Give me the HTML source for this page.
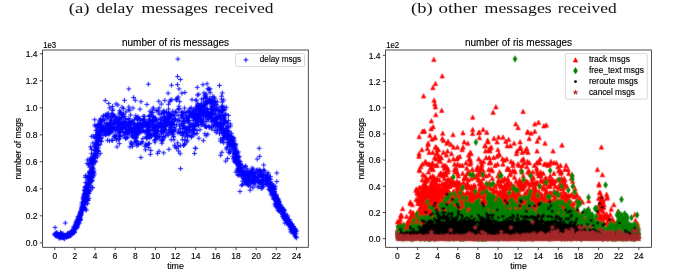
<!DOCTYPE html>
<html><head><meta charset="utf-8"><title>ris messages</title>
<style>html,body{margin:0;padding:0;background:#fff;width:685px;height:276px;overflow:hidden}svg{display:block;will-change:transform}.s{stroke:#000;stroke-width:0.14px}</style>
</head><body>
<svg width="685" height="276" viewBox="0 0 685 276">
<defs>
<marker id="mp" markerWidth="8" markerHeight="8" refX="4" refY="4" markerUnits="userSpaceOnUse" overflow="visible"><path d="M1.6 4h4.8M4 1.6v4.8" stroke="#0000ff" stroke-width="0.95" fill="none"/></marker>
<marker id="mt" markerWidth="8" markerHeight="8" refX="4" refY="4" markerUnits="userSpaceOnUse" overflow="visible"><path d="M4 1.8L6.2 6.2H1.8Z" fill="#ff0000" stroke="#ff0000" stroke-width="0.6"/></marker>
<marker id="md" markerWidth="8" markerHeight="8" refX="4" refY="4" markerUnits="userSpaceOnUse" overflow="visible"><path d="M4 0.7L6 4L4 7.3L2 4Z" fill="#008000" stroke="#008000" stroke-width="0.5"/></marker>
<marker id="mk" markerWidth="8" markerHeight="8" refX="4" refY="4" markerUnits="userSpaceOnUse" overflow="visible"><circle cx="4" cy="4" r="1.45" fill="#000"/></marker>
<marker id="ms" markerWidth="8" markerHeight="8" refX="4" refY="4" markerUnits="userSpaceOnUse" overflow="visible"><path d="M4.00 1.50L4.56 3.23L6.38 3.23L4.91 4.30L5.47 6.02L4.00 4.96L2.53 6.02L3.09 4.30L1.62 3.23L3.44 3.23Z" fill="#a52a2a" stroke="#a52a2a" stroke-width="0.5"/></marker>
<filter id="bl" x="0" y="0" width="100%" height="100%" filterUnits="userSpaceOnUse"><feConvolveMatrix order="3" kernelMatrix="1 2 1 2 24 2 1 2 1" edgeMode="duplicate"/></filter>
<clipPath id="c1"><rect x="42.6" y="50.0" width="265.7" height="197.3"/></clipPath>
<clipPath id="c2"><rect x="385.6" y="50.0" width="265.9" height="197.3"/></clipPath>
</defs>
<rect width="685" height="276" fill="#fff"/>
<text x="68.8" y="13.2" font-family="'Liberation Serif', serif" font-size="15.4" text-anchor="start" fill="#111" textLength="20.8" lengthAdjust="spacingAndGlyphs">(a)</text>
<text x="96.2" y="13.2" font-family="'Liberation Serif', serif" font-size="15.4" text-anchor="start" fill="#111" textLength="37.9" lengthAdjust="spacingAndGlyphs">delay</text>
<text x="141.5" y="13.2" font-family="'Liberation Serif', serif" font-size="15.4" text-anchor="start" fill="#111" textLength="66.4" lengthAdjust="spacingAndGlyphs">messages</text>
<text x="214.4" y="13.2" font-family="'Liberation Serif', serif" font-size="15.4" text-anchor="start" fill="#111" textLength="59.0" lengthAdjust="spacingAndGlyphs">received</text>
<text x="411.0" y="13.2" font-family="'Liberation Serif', serif" font-size="15.4" text-anchor="start" fill="#111" textLength="21.6" lengthAdjust="spacingAndGlyphs">(b)</text>
<text x="438.5" y="13.2" font-family="'Liberation Serif', serif" font-size="15.4" text-anchor="start" fill="#111" textLength="38.8" lengthAdjust="spacingAndGlyphs">other</text>
<text x="484.6" y="13.2" font-family="'Liberation Serif', serif" font-size="15.4" text-anchor="start" fill="#111" textLength="67.1" lengthAdjust="spacingAndGlyphs">messages</text>
<text x="557.8" y="13.2" font-family="'Liberation Serif', serif" font-size="15.4" text-anchor="start" fill="#111" textLength="58.8" lengthAdjust="spacingAndGlyphs">received</text>
<g clip-path="url(#c1)"><g filter="url(#bl)"><path d="M54.8 234.1L54.9 234.1 55.0 234.4 55.2 234.2 55.3 235.7 56.0 233.0 56.1 236.0 56.4 234.9 56.5 232.7 56.6 233.3 56.8 234.8 56.9 234.9 56.9 235.6 57.0 235.5 57.2 235.2 57.3 233.2 57.7 235.6 57.8 234.4 57.9 234.6 57.9 234.6 57.9 235.5 58.0 234.3 58.1 235.0 58.3 235.2 58.9 236.1 59.0 238.1 59.0 234.6 59.1 234.6 59.1 236.2 59.3 235.8 59.4 235.3 59.4 236.8 59.4 234.8 59.6 234.8 59.7 234.7 59.7 234.6 59.8 238.1 59.9 235.1 59.9 236.3 60.0 234.4 60.0 234.5 60.1 234.8 60.3 235.9 60.5 232.4 60.6 235.9 60.6 237.0 60.6 234.6 60.7 237.5 61.3 233.5 61.3 234.6 61.3 234.2 61.4 234.6 61.4 235.3 61.6 237.4 61.8 236.6 61.9 235.2 62.2 236.1 62.3 235.4 62.3 236.7 62.5 236.8 62.7 235.5 62.7 235.0 62.7 235.9 62.8 237.1 62.8 237.9 62.8 233.5 62.9 237.3 62.9 236.9 62.9 236.8 63.0 234.8 63.1 236.8 63.2 235.3 63.2 235.6 63.3 237.3 63.4 235.7 63.8 237.4 63.8 236.2 63.9 235.1 63.9 236.3 64.0 237.1 64.0 236.5 64.0 236.2 64.2 235.6 64.4 238.8 64.5 238.2 64.6 235.4 64.7 236.2 64.9 236.0 65.2 235.7 65.2 236.2 65.2 236.5 65.5 235.8 65.9 235.1 66.3 235.4 66.4 235.8 66.5 237.0 66.6 235.5 66.6 237.1 66.6 236.5 67.0 235.5 67.1 235.5 67.2 234.3 67.3 234.6 67.4 235.0 67.4 236.0 67.4 235.6 67.5 235.9 67.5 233.5 67.6 235.0 67.8 236.3 67.9 236.5 68.0 233.9 68.4 236.2 68.5 234.7 68.5 234.9 68.8 233.7 68.9 235.9 69.0 234.3 69.0 234.5 69.1 233.8 69.2 233.0 69.3 234.5 69.5 234.8 69.6 233.4 69.7 236.0 70.0 233.9 70.2 235.2 70.5 235.3 70.7 235.6 70.9 235.6 71.1 232.4 71.1 232.3 71.2 233.2 71.5 231.7 71.6 232.8 71.8 233.3 71.8 234.0 72.1 231.3 72.1 231.2 72.1 230.6 72.1 233.3 72.3 232.5 72.5 233.6 73.1 229.6 73.2 230.1 73.3 230.3 73.3 231.0 73.3 231.1 73.4 231.4 73.4 229.3 73.6 231.6 73.6 229.4 73.6 230.2 73.7 232.0 73.7 232.7 73.7 231.7 73.7 230.6 73.8 232.3 73.9 229.5 74.2 228.1 74.5 228.4 74.5 231.8 74.6 232.6 74.7 227.3 75.1 225.6 75.1 228.7 75.2 226.9 75.2 228.2 75.4 228.4 75.8 225.1 75.8 227.7 75.8 225.2 76.0 223.3 76.0 226.5 76.0 222.9 76.0 228.5 76.1 224.5 76.2 226.0 76.4 220.9 76.4 225.5 76.5 226.8 76.8 221.8 76.8 227.6 76.8 223.9 76.8 226.1 77.0 221.8 77.0 224.6 77.0 222.5 77.2 223.8 77.4 225.3 77.5 227.3 77.6 219.1 77.6 222.3 77.6 225.0 77.6 223.2 78.0 219.4 78.0 224.7 78.0 216.5 78.1 222.0 78.1 222.2 78.1 218.5 78.2 220.6 78.2 223.2 78.8 217.2 78.9 218.1 79.0 216.2 79.3 220.5 79.4 220.7 79.4 216.2 79.5 218.7 79.5 223.1 79.7 218.7 79.8 215.1 79.9 218.5 79.9 213.0 80.0 217.3 80.2 215.7 80.3 219.6 80.3 217.2 80.3 215.4 80.3 213.3 80.4 213.9 80.4 211.4 80.6 220.2 80.7 213.4 80.8 213.6 80.9 215.6 80.9 212.6 81.0 214.5 81.2 210.0 81.4 211.8 81.4 209.1 81.4 213.4 81.7 205.1 81.8 207.6 81.9 202.7 82.0 208.6 82.0 209.8 82.1 207.4 82.1 209.2 82.1 211.1 82.3 206.9 82.4 206.9 82.4 210.4 82.6 207.0 82.6 209.1 82.8 204.3 82.9 209.3 83.0 197.9 83.2 203.0 83.3 199.5 83.3 207.4 83.3 201.5 83.5 202.5 83.7 197.5 83.7 197.8 83.8 207.2 83.9 195.8 83.9 206.1 84.0 194.6 84.0 200.1 84.0 204.7 84.1 196.8 84.1 199.4 84.1 203.5 84.1 202.4 84.2 197.3 84.3 204.3 84.3 202.1 84.4 190.6 84.4 201.3 84.5 196.4 84.5 196.0 84.5 193.7 84.6 193.5 84.7 207.7 84.9 198.4 85.0 189.7 85.0 202.9 85.0 188.0 85.1 192.9 85.2 191.3 85.2 177.2 85.2 196.0 85.2 198.3 85.2 186.8 85.3 204.4 85.3 201.3 85.4 196.7 85.5 209.2 85.5 187.1 85.6 191.7 85.6 182.5 85.6 201.1 85.7 200.1 85.7 175.5 85.7 190.5 85.9 193.9 86.0 187.6 86.0 192.6 86.0 200.3 86.1 190.2 86.1 194.8 86.1 186.7 86.2 195.6 86.2 192.6 86.2 189.0 86.2 197.2 86.4 188.3 86.5 210.0 86.5 192.0 86.7 191.0 86.8 183.0 86.9 177.1 86.9 193.7 86.9 177.4 87.1 188.0 87.1 186.7 87.1 191.3 87.1 185.2 87.1 163.4 87.2 190.0 87.3 194.5 87.4 189.6 87.6 186.8 87.6 159.9 87.6 199.7 87.6 203.7 87.7 184.9 87.9 192.7 88.0 187.3 88.0 180.2 88.0 196.3 88.1 185.9 88.2 200.5 88.3 193.7 88.3 184.7 88.4 183.1 88.5 177.7 88.5 184.1 88.5 189.9 88.6 178.6 88.6 164.9 88.6 193.3 88.7 177.1 88.8 163.8 88.9 193.2 88.9 187.2 89.0 180.7 89.0 198.5 89.2 173.1 89.2 176.9 89.2 176.4 89.4 171.3 89.5 160.2 89.5 191.6 89.6 167.1 89.7 178.8 89.8 173.6 89.8 183.0 89.8 177.8 89.9 174.7 90.0 173.0 90.0 172.6 90.0 184.9 90.0 181.2 90.1 180.6 90.3 190.2 90.4 179.0 90.5 171.6 90.5 158.0 90.5 146.9 90.9 178.0 91.0 159.2 91.0 178.7 91.0 163.8 91.0 171.1 91.1 178.0 91.1 161.4 91.1 174.3 91.1 187.4 91.1 162.7 91.5 153.7 91.5 181.3 91.5 177.5 91.5 169.7 91.5 149.3 91.6 136.4 91.6 163.9 91.6 163.1 91.6 162.6 91.7 167.7 91.9 173.3 92.0 169.1 92.0 173.6 92.0 180.0 92.1 171.9 92.1 160.0 92.2 159.5 92.3 176.8 92.4 180.8 92.4 177.7 92.4 187.6 92.4 160.5 92.7 166.8 92.7 187.7 92.8 172.9 92.8 168.1 92.9 143.0 92.9 164.7 92.9 157.1 92.9 160.4 93.0 159.4 93.1 171.7 93.1 157.1 93.3 168.9 93.4 172.7 93.4 162.7 93.4 136.0 93.6 164.2 93.7 157.0 93.8 175.8 93.8 158.3 93.9 155.1 93.9 171.0 94.1 153.1 94.2 150.5 94.3 162.1 94.3 173.9 94.4 145.9 94.5 158.3 94.7 119.7 94.7 157.6 94.8 124.9 94.9 160.6 94.9 155.4 95.0 138.3 95.1 137.2 95.1 146.8 95.2 126.2 95.2 145.0 95.3 147.4 95.4 154.1 95.8 149.5 95.8 135.0 95.8 143.1 95.8 161.6 96.1 154.6 96.1 144.8 96.1 142.0 96.1 130.5 96.3 130.3 96.6 151.3 96.6 137.5 96.7 130.4 96.8 151.9 96.9 134.6 97.0 125.9 97.0 142.3 97.0 137.7 97.1 150.5 97.1 148.6 97.1 149.2 97.2 145.3 97.4 140.5 97.4 155.1 97.4 125.1 97.4 132.0 97.5 156.9 97.6 144.2 97.7 144.4 97.7 124.8 97.7 133.0 97.9 137.0 97.9 133.8 97.9 151.3 98.0 128.0 98.0 151.4 98.1 127.2 98.1 140.2 98.1 150.5 98.2 148.0 98.3 135.4 98.5 145.4 98.5 134.0 98.7 141.2 98.7 139.8 98.9 132.8 99.2 124.0 99.4 127.2 99.5 123.3 99.5 135.4 99.5 137.4 99.6 120.9 99.8 139.8 99.9 138.3 100.0 144.4 100.0 121.5 100.1 123.6 100.1 133.7 100.3 153.5 100.3 127.8 100.4 126.0 100.4 127.6 100.4 118.9 100.4 129.3 100.4 131.7 100.5 131.4 100.6 133.4 100.6 137.8 100.7 138.9 100.7 130.7 100.8 140.9 101.0 138.6 101.0 119.9 101.0 134.1 101.1 121.7 101.2 120.6 101.3 128.0 101.3 124.3 101.4 130.4 101.5 141.5 101.6 131.2 101.6 130.9 101.7 125.8 102.3 127.9 102.8 131.1 102.8 119.6 102.9 129.5 102.9 131.1 102.9 120.5 103.1 135.6 103.2 127.6 103.3 115.9 103.4 126.9 103.4 116.2 103.7 129.1 103.9 130.9 104.0 128.1 104.0 131.2 104.2 131.2 104.2 130.0 104.4 120.1 104.8 122.9 104.9 127.6 105.1 131.7 105.3 100.5 105.3 127.3 105.4 114.7 105.4 135.0 105.4 131.5 105.7 116.1 106.0 134.4 106.0 134.1 106.0 126.2 106.8 131.5 106.8 128.0 106.8 124.5 106.9 118.9 107.2 124.3 107.3 123.4 107.3 115.3 107.3 114.6 107.4 128.5 107.5 140.3 107.6 133.6 107.8 117.3 107.8 129.5 108.1 131.3 108.1 129.2 108.2 113.2 108.4 125.2 108.5 128.6 108.5 131.2 108.7 134.3 108.7 103.5 108.8 126.0 108.9 124.5 109.1 128.2 109.2 117.3 109.4 133.6 109.5 140.8 109.5 130.2 109.5 123.0 109.6 107.9 109.8 126.3 109.9 132.4 110.0 127.5 110.0 131.8 110.0 131.8 110.2 125.0 110.2 123.3 110.4 130.9 110.7 117.0 110.7 126.3 110.8 124.8 110.8 129.7 110.9 122.8 111.0 122.4 111.0 120.4 111.0 132.1 111.2 120.7 111.2 130.1 111.3 124.9 111.5 119.8 111.6 113.7 111.6 129.2 111.8 140.2 112.0 124.5 112.4 109.0 112.4 128.2 112.5 106.5 112.6 140.5 112.6 113.8 112.7 116.4 112.8 110.4 112.9 132.1 113.0 114.9 113.0 116.4 113.2 115.7 113.3 127.4 113.4 127.5 113.4 115.4 113.7 122.8 113.8 128.4 114.1 136.4 114.2 123.5 114.3 136.3 114.4 121.0 114.5 124.3 114.8 137.8 114.8 122.0 114.8 116.1 114.9 123.6 115.1 136.1 115.3 130.4 115.3 119.0 115.4 135.9 115.5 128.6 115.6 116.7 115.8 128.0 115.9 130.3 116.0 119.4 116.0 103.9 116.3 122.7 116.5 136.3 116.5 138.6 116.5 129.0 116.6 140.1 116.7 126.6 117.0 118.8 117.0 146.9 117.3 127.4 117.3 123.5 117.4 130.3 117.5 123.0 117.6 122.2 117.9 117.9 117.9 105.0 118.0 123.7 118.2 133.3 118.7 139.7 118.7 136.1 118.8 120.8 118.9 123.7 118.9 122.7 119.0 124.8 119.0 113.9 119.3 117.9 119.3 118.5 119.4 131.8 119.4 129.0 119.4 143.6 119.6 131.6 119.6 125.8 119.6 136.1 119.6 131.5 119.6 110.7 119.6 128.7 119.7 138.3 119.8 136.4 119.8 127.3 119.9 120.0 119.9 127.3 120.0 119.8 120.1 124.2 120.3 135.4 120.3 112.7 120.6 132.5 120.7 112.0 120.7 131.4 120.9 127.9 120.9 131.1 121.0 128.9 121.0 123.2 121.1 128.3 121.4 117.6 121.5 123.6 121.5 114.5 121.8 126.4 121.9 116.9 122.0 117.6 122.0 128.1 122.1 107.2 122.3 115.2 122.3 122.8 122.5 128.6 122.5 127.8 122.6 128.4 122.6 124.8 122.9 135.9 123.0 126.7 123.1 131.8 123.4 114.2 123.4 121.2 123.5 114.2 123.5 108.6 123.7 123.5 124.5 100.4 124.5 124.4 124.6 122.5 124.7 134.7 124.7 125.8 124.8 116.3 124.8 123.5 125.1 132.0 125.2 127.4 125.3 133.2 125.3 132.7 125.4 138.6 125.4 118.9 125.6 119.0 125.6 128.4 125.7 137.9 125.7 129.4 125.9 112.0 126.1 137.9 126.5 131.6 126.9 131.4 127.0 121.6 127.2 137.6 127.2 125.8 127.8 134.3 127.8 130.7 127.9 137.3 128.0 123.9 128.1 131.8 128.2 132.6 128.2 119.6 128.3 125.4 128.3 109.9 128.8 124.9 128.8 126.6 128.8 127.2 128.9 107.0 129.0 118.6 129.0 130.3 129.2 125.7 129.3 132.2 129.6 123.2 129.6 132.1 129.7 132.6 129.8 124.9 129.9 110.2 129.9 121.8 129.9 122.6 129.9 127.3 130.0 146.9 130.0 129.6 130.0 130.0 130.5 124.4 130.5 115.0 130.9 122.7 131.0 142.0 131.0 128.4 131.2 130.5 131.3 123.2 131.3 129.2 131.5 143.4 131.5 135.7 131.5 131.2 131.9 144.5 132.0 129.8 132.0 131.1 132.2 120.7 132.2 129.9 132.2 133.8 132.3 130.0 132.3 128.9 132.4 121.6 132.5 136.4 132.5 146.4 133.0 108.1 133.3 123.4 133.4 128.4 133.6 97.5 133.8 138.1 134.0 135.5 134.2 132.8 134.2 125.7 134.3 133.0 134.4 123.5 134.5 132.2 134.5 119.6 134.6 126.0 134.9 142.3 134.9 129.9 135.0 138.4 135.0 130.7 135.1 129.7 135.3 100.3 135.3 131.5 135.3 142.1 135.4 128.9 135.6 138.7 135.8 115.7 135.8 124.3 135.9 117.7 136.0 134.8 136.2 137.8 136.2 127.6 136.4 140.4 136.5 137.2 136.6 135.7 136.7 130.9 136.7 141.6 136.8 145.7 136.9 118.8 137.0 134.0 137.2 131.2 137.3 125.2 137.4 126.4 137.6 134.9 137.6 133.3 137.8 117.4 137.8 120.1 137.8 124.0 138.0 116.9 138.2 144.3 138.3 128.7 138.3 131.9 138.3 144.6 138.4 127.1 138.4 124.7 138.4 127.7 138.6 143.7 138.7 131.4 139.0 128.0 139.1 131.5 139.1 127.5 139.1 122.8 139.6 118.6 139.7 127.8 140.0 109.2 140.1 127.9 140.1 127.4 140.2 123.5 140.3 130.2 140.5 132.1 140.6 119.9 140.9 157.5 140.9 143.4 141.0 101.7 141.3 123.8 141.3 125.3 141.4 127.2 141.4 125.4 141.7 141.7 141.8 131.8 142.1 142.7 142.4 120.5 142.5 124.5 142.7 127.6 142.8 126.5 142.9 130.5 143.0 138.5 143.3 116.2 143.4 124.4 143.6 130.8 143.6 124.9 143.6 119.5 143.7 120.2 143.7 124.3 144.0 123.0 144.2 131.3 144.4 118.9 144.7 116.4 144.7 122.0 144.8 146.3 144.9 124.4 145.3 124.2 145.4 123.2 145.5 149.8 145.8 144.1 146.1 127.1 146.1 136.8 146.2 126.3 146.3 130.1 146.3 122.6 146.4 133.8 146.4 137.8 146.8 125.2 146.8 131.5 146.8 138.6 146.9 145.0 146.9 104.5 146.9 132.2 147.0 132.3 147.2 144.9 147.6 137.3 147.6 130.5 147.6 126.7 147.7 123.1 148.0 135.1 148.0 125.4 148.3 120.0 148.3 133.2 148.4 129.7 148.4 143.5 148.5 135.6 148.7 147.6 148.7 123.7 148.9 130.5 149.1 116.3 149.2 127.5 149.3 122.5 149.3 124.8 149.3 127.3 149.4 137.5 149.4 115.6 149.5 129.6 149.6 143.7 149.6 133.5 149.7 137.7 149.8 119.4 149.8 120.4 149.9 116.5 150.0 111.2 150.4 134.0 150.4 154.4 150.6 136.3 150.7 125.3 150.8 150.5 150.9 133.5 151.0 121.8 151.0 135.5 151.0 129.6 151.1 135.9 151.1 114.4 151.3 112.7 151.3 136.8 151.9 135.3 152.2 127.2 152.2 122.6 152.4 124.7 152.4 122.8 152.6 119.9 152.7 118.0 152.7 112.4 152.9 126.1 153.0 131.4 153.0 128.1 153.0 109.1 153.1 120.5 153.1 121.4 153.2 116.2 153.3 117.1 153.3 107.8 153.4 133.8 153.5 125.4 153.5 120.9 153.7 120.3 153.9 130.2 154.4 140.4 154.5 129.2 154.5 135.8 154.7 127.8 154.8 117.9 155.0 121.1 155.0 142.2 155.1 133.2 155.1 125.4 155.2 117.6 155.2 127.5 155.3 125.2 155.4 139.5 155.5 131.1 155.6 133.6 155.6 125.4 155.8 129.3 155.8 134.4 155.8 136.2 156.0 125.4 156.1 132.6 156.2 110.5 156.3 125.9 156.3 129.4 156.4 119.6 156.6 137.2 156.6 119.5 156.7 133.2 157.1 120.9 157.3 132.8 157.4 135.1 157.6 153.4 157.7 126.6 157.7 122.9 158.0 138.9 158.1 111.7 158.1 126.9 158.2 136.6 158.4 110.0 158.5 130.4 159.0 114.0 159.0 151.3 159.1 107.9 159.1 125.1 159.2 126.7 159.5 123.8 159.5 136.8 160.2 118.3 160.5 122.5 160.5 123.5 160.9 131.4 161.0 136.7 161.0 123.0 161.1 118.9 161.2 125.0 161.2 128.0 161.2 130.9 161.2 119.8 161.3 113.2 161.3 127.6 161.3 133.9 161.4 104.1 161.4 140.2 161.4 123.9 161.4 127.1 161.6 114.3 161.7 127.4 161.8 141.1 161.9 143.3 162.3 125.0 162.5 126.1 162.5 132.0 162.7 131.0 162.9 140.1 162.9 139.4 163.0 131.5 163.2 132.1 163.2 127.0 163.3 136.5 163.3 111.3 163.7 152.9 163.7 117.5 163.8 120.4 163.9 110.8 164.1 112.5 164.1 137.6 164.1 122.0 164.2 112.9 164.3 116.5 164.5 120.3 164.6 130.4 164.6 113.0 164.6 126.2 164.6 129.6 164.7 123.3 164.7 129.2 164.7 131.2 164.7 123.8 164.8 100.4 164.9 121.9 164.9 124.1 164.9 129.1 165.2 121.5 165.4 135.9 165.4 120.2 165.4 122.2 165.5 123.9 165.7 120.2 165.7 126.5 165.7 118.4 165.9 119.5 166.0 119.3 166.0 124.5 166.1 116.2 166.2 126.2 166.5 112.2 166.6 125.5 166.6 112.2 166.7 121.9 167.0 124.6 167.0 133.9 167.1 118.2 167.2 120.8 167.3 123.7 167.5 120.2 167.9 122.7 167.9 132.8 168.2 135.3 168.4 113.0 168.4 122.1 168.5 109.1 168.5 104.3 168.6 115.8 168.7 117.5 168.7 118.2 168.8 122.7 168.9 129.9 168.9 149.3 169.1 116.2 169.1 113.4 169.2 123.3 169.3 122.3 169.4 114.1 169.4 114.6 169.5 121.6 169.8 125.9 169.8 117.5 169.9 115.5 169.9 101.7 170.0 132.3 170.1 118.5 170.3 132.0 170.3 130.4 170.4 100.1 170.4 127.4 170.5 124.8 170.5 129.0 170.7 114.6 170.9 127.3 171.2 139.7 171.2 121.7 171.4 114.8 171.6 123.2 171.9 121.3 171.9 129.9 171.9 132.3 172.0 122.9 172.1 134.3 172.1 127.4 172.2 132.9 172.3 125.3 172.4 114.9 172.5 123.2 172.8 111.3 172.9 119.1 172.9 124.1 173.0 132.0 173.0 121.8 173.1 134.6 173.3 115.0 173.5 136.4 173.7 136.9 173.8 131.4 173.9 139.8 173.9 121.5 174.0 130.6 174.3 127.3 174.4 116.2 174.6 145.2 174.6 125.0 174.7 118.8 175.2 111.8 175.5 119.6 175.6 129.2 175.9 112.6 176.0 112.7 176.0 99.3 176.6 100.1 176.6 124.5 177.3 98.2 177.6 120.3 177.8 132.9 178.2 115.3 178.2 109.2 178.3 146.6 178.6 109.0 178.8 131.1 178.9 106.3 179.0 120.3 179.1 121.1 179.2 108.5 179.5 126.1 179.7 101.6 179.9 132.5 180.4 128.9 180.9 133.8 181.0 117.6 181.2 123.7 181.2 115.0 181.4 112.1 181.6 115.2 181.8 112.4 182.0 112.3 182.1 124.1 182.3 135.5 182.4 139.7 182.5 115.9 182.5 128.6 182.6 133.0 182.7 131.7 182.7 125.6 183.0 121.2 183.1 126.0 183.4 133.7 183.4 118.3 183.5 145.6 183.5 126.9 183.8 113.6 183.8 121.2 183.9 112.2 183.9 122.9 184.0 118.2 184.0 123.5 184.1 128.2 184.4 120.3 184.5 108.1 184.6 143.3 184.6 132.1 184.6 144.6 184.9 140.0 185.1 136.8 185.2 129.1 185.5 127.3 185.8 115.2 185.9 112.5 186.1 132.2 186.2 132.9 186.3 118.3 186.8 130.4 186.8 128.1 187.0 141.9 187.0 117.1 187.2 121.5 187.3 140.1 187.5 136.7 187.5 134.2 187.7 119.7 187.7 128.5 187.8 135.5 188.0 126.9 188.1 115.5 188.2 111.7 188.3 110.8 188.3 122.3 188.3 121.0 188.9 120.4 189.2 116.7 189.2 117.4 189.3 132.1 189.4 129.9 189.4 126.6 189.5 116.2 189.7 127.6 189.8 130.0 189.9 113.0 189.9 108.8 190.1 131.2 190.1 123.9 190.1 111.7 190.6 126.2 190.9 113.6 191.0 135.6 191.1 124.3 191.2 116.0 191.2 107.7 191.2 113.2 191.4 137.3 191.7 136.4 192.1 130.0 192.1 114.1 192.1 115.0 192.3 111.6 192.7 115.1 192.7 126.9 192.9 124.9 192.9 129.7 193.0 113.6 193.1 133.0 193.1 120.4 193.3 118.7 193.4 109.4 193.4 133.2 193.6 117.0 193.6 129.9 193.6 111.1 193.9 126.3 193.9 123.2 193.9 129.1 194.0 130.0 194.0 126.2 194.0 125.8 194.1 109.4 194.1 129.2 194.2 117.7 194.4 112.0 194.5 130.1 194.5 153.5 194.6 115.2 194.8 134.4 195.2 126.0 195.5 119.4 195.6 115.9 195.7 120.8 195.7 124.7 195.9 109.1 195.9 116.0 196.0 100.6 196.0 126.1 196.0 118.7 196.1 118.2 196.1 112.9 196.2 115.7 196.2 117.5 196.2 100.0 196.5 118.8 196.5 113.4 196.7 115.5 196.7 122.6 196.8 110.3 196.9 133.6 196.9 106.6 197.0 130.6 197.1 119.4 197.2 115.6 197.3 120.8 197.3 121.0 197.4 105.7 197.4 95.0 197.4 107.0 197.6 114.7 197.6 121.7 197.7 122.8 197.8 105.2 197.8 107.9 197.9 104.1 197.9 106.9 197.9 104.0 198.0 121.0 198.0 122.6 198.1 124.5 198.1 115.8 198.2 117.1 198.5 114.2 198.5 125.7 198.5 113.6 198.6 107.9 198.7 114.3 198.9 138.3 198.9 114.9 198.9 117.8 199.0 106.7 199.0 116.1 199.0 109.1 199.2 117.8 199.2 111.6 199.3 105.9 199.4 116.7 199.6 111.5 199.6 112.7 199.6 108.8 199.9 115.0 200.0 109.7 200.0 129.8 200.2 115.7 200.3 106.4 200.5 107.6 200.5 121.9 200.5 120.4 200.5 110.0 200.6 110.2 200.7 109.3 200.8 112.7 200.8 112.3 201.1 103.9 201.1 121.1 201.3 124.9 201.4 104.0 201.4 119.4 201.6 106.6 201.6 118.5 201.7 122.1 201.7 99.1 202.0 112.9 202.2 124.4 202.3 114.0 202.5 114.7 202.5 113.7 202.7 110.3 202.7 121.8 203.0 114.0 203.0 107.6 203.1 106.1 203.2 110.6 203.4 118.2 203.4 140.6 203.5 98.5 203.5 120.9 203.5 115.1 203.5 111.0 203.6 107.2 203.6 111.3 203.7 123.3 203.9 111.3 203.9 92.9 204.0 101.9 204.0 112.8 204.3 105.3 204.5 126.2 204.6 109.1 204.7 104.7 204.8 113.6 204.8 95.1 204.9 103.3 204.9 105.6 204.9 133.8 205.0 116.3 205.3 104.7 205.3 115.3 205.5 126.5 205.5 116.1 205.6 97.6 205.8 101.1 205.9 103.4 206.0 109.3 206.1 96.8 206.1 135.8 206.2 121.6 206.2 94.0 206.3 101.7 206.5 108.9 206.5 114.1 206.5 127.1 206.7 114.8 206.7 112.3 206.9 119.3 206.9 98.8 207.3 101.9 207.3 113.6 207.4 103.0 207.5 111.5 207.6 108.7 207.6 115.4 207.8 88.9 207.8 134.2 207.8 112.4 208.0 101.8 208.0 101.9 208.1 125.8 208.3 119.7 208.5 112.1 208.5 118.4 208.5 117.2 208.7 113.5 208.7 113.8 208.7 101.2 209.1 126.7 209.1 101.6 209.2 113.3 209.2 102.4 209.3 114.4 209.3 89.8 209.4 127.6 209.4 100.4 209.6 115.3 209.6 115.0 209.7 98.3 209.8 114.5 210.0 103.0 210.0 88.8 210.2 116.7 210.2 92.7 210.3 99.7 210.5 113.3 210.6 109.2 210.7 117.8 210.9 108.6 211.0 103.3 211.0 102.1 211.1 109.3 211.1 116.3 211.2 121.8 211.3 126.9 211.4 114.3 211.4 106.1 211.5 117.3 211.6 118.4 211.8 129.0 211.8 106.7 211.8 114.5 211.8 127.4 211.9 101.7 211.9 102.2 212.0 112.0 212.1 115.7 212.1 112.7 212.2 121.3 212.2 102.9 212.2 99.3 212.3 102.7 212.3 110.3 212.4 110.4 212.6 107.7 212.8 96.5 212.8 120.6 213.2 113.5 213.3 120.1 213.3 125.3 213.5 110.3 213.7 102.6 213.9 124.4 214.1 104.2 214.1 107.4 214.4 109.7 214.4 100.7 214.5 121.0 214.7 98.3 214.7 118.2 214.7 105.4 214.9 130.4 215.0 105.0 215.0 114.6 215.2 120.8 215.3 125.7 215.6 113.3 215.7 101.8 215.7 110.1 215.9 119.2 216.0 123.7 216.1 126.8 216.1 119.3 216.2 132.6 216.2 119.9 216.2 104.6 216.3 116.7 216.3 117.7 216.5 122.6 216.7 108.9 217.0 110.0 217.4 101.9 217.6 124.7 217.6 129.2 217.6 123.9 217.7 130.6 217.7 117.9 217.7 122.1 217.8 126.8 217.9 118.2 218.1 107.0 218.1 110.1 218.1 124.7 218.3 117.8 218.5 115.1 219.0 112.0 219.4 123.5 219.5 133.7 219.5 116.1 219.6 130.4 219.6 124.0 219.7 123.0 219.8 110.3 219.8 125.3 220.1 118.9 220.2 123.0 220.2 126.7 220.2 111.3 220.2 125.8 220.3 115.7 220.4 118.0 220.5 141.2 220.5 139.0 220.6 155.3 220.7 118.3 220.9 118.9 220.9 127.4 221.1 127.6 221.1 125.4 221.1 128.8 221.3 122.6 221.3 122.6 221.4 131.9 221.4 107.0 221.5 111.6 221.5 126.9 221.5 99.1 221.6 96.2 221.7 109.3 221.7 109.8 221.8 129.1 221.9 129.0 221.9 152.3 222.0 127.6 222.0 112.6 222.1 127.6 222.1 141.4 222.2 106.0 222.3 102.2 222.3 107.2 222.3 140.0 222.4 114.6 222.4 132.6 222.7 125.5 222.8 116.5 222.8 107.6 222.9 131.0 223.0 128.1 223.1 138.1 223.1 124.4 223.2 135.1 223.3 130.2 223.3 116.6 223.3 124.9 223.3 123.5 223.4 121.9 223.5 116.3 223.5 110.0 223.5 137.7 223.7 142.7 223.7 119.8 223.8 117.9 223.9 110.5 223.9 117.1 224.0 107.2 224.0 120.3 224.0 132.7 224.2 115.4 224.3 135.9 224.3 133.8 224.4 122.5 224.9 130.4 224.9 118.2 225.0 134.8 225.0 109.4 225.0 138.7 225.1 121.1 225.2 133.2 225.4 114.7 225.4 134.8 225.4 121.4 225.7 161.2 225.8 137.3 226.0 114.2 226.0 128.5 226.1 129.8 226.1 122.0 226.2 107.3 226.2 149.0 226.3 131.9 226.5 135.8 227.1 126.4 227.1 139.5 227.2 147.4 227.2 147.1 227.4 123.4 227.4 131.6 227.5 126.0 227.6 158.5 227.6 142.2 227.8 142.8 227.8 127.0 227.8 130.6 228.1 136.6 228.3 144.2 228.3 133.9 228.3 139.7 228.3 127.9 228.4 120.6 228.4 134.8 228.5 152.2 228.5 115.5 228.7 131.0 228.7 131.8 228.9 135.7 229.0 135.5 229.1 136.3 229.4 135.5 229.4 149.9 229.4 143.5 229.5 138.6 229.5 136.7 229.5 136.3 229.7 134.7 229.7 152.9 229.8 146.2 230.1 144.3 230.2 138.3 230.3 140.9 230.3 124.0 230.4 144.6 230.6 141.8 230.6 151.8 230.6 126.1 230.6 139.5 230.7 141.7 231.3 146.4 231.4 141.3 231.4 144.5 231.5 133.3 231.5 148.1 231.6 145.5 231.7 146.5 232.0 139.2 232.0 141.1 232.0 136.5 232.1 139.9 232.2 139.7 232.5 143.9 232.5 138.4 232.6 141.4 232.8 143.0 232.9 156.4 233.1 149.1 233.3 151.1 233.4 158.6 233.4 138.4 233.5 137.8 233.6 140.4 233.6 143.8 233.7 138.0 234.0 158.9 234.0 140.3 234.2 161.4 234.2 147.8 234.2 148.2 234.2 145.8 234.3 145.1 234.4 144.9 234.4 153.6 234.5 153.7 234.5 154.7 234.6 149.2 234.6 152.2 234.7 159.9 234.7 144.8 234.7 157.4 234.9 154.1 235.0 156.0 235.1 156.2 235.3 149.3 235.3 156.9 235.3 161.3 235.4 157.1 235.5 159.3 235.5 162.3 235.5 148.1 235.6 147.0 235.6 162.1 235.7 145.1 235.8 144.0 235.8 162.7 235.9 152.5 236.0 157.0 236.0 150.7 236.1 172.4 236.4 153.2 236.4 158.9 236.6 153.0 236.6 152.7 236.7 170.9 236.8 158.4 236.8 158.3 236.9 155.5 237.2 153.6 237.2 153.0 237.4 164.5 237.4 156.7 237.5 164.7 237.5 156.6 237.6 162.5 237.6 162.2 237.7 160.2 237.7 169.9 237.7 163.2 237.9 168.4 238.0 157.6 238.0 155.8 238.1 175.4 238.2 174.6 238.2 161.8 238.2 166.1 238.3 168.1 238.3 151.9 238.4 165.8 238.4 169.0 238.7 166.3 238.8 163.6 238.8 157.1 238.8 163.7 239.0 171.9 239.0 168.3 239.1 156.9 239.1 174.7 239.1 166.5 239.3 161.1 239.4 165.8 239.5 168.6 239.6 172.1 239.7 167.3 239.9 164.5 240.0 167.9 240.0 164.2 240.1 168.3 240.1 163.2 240.2 168.8 240.2 165.2 240.3 171.2 240.3 161.5 240.4 164.0 240.8 167.6 241.0 175.8 241.4 171.1 241.4 185.3 241.5 173.7 241.7 171.9 241.9 176.8 241.9 172.2 241.9 167.9 242.1 165.3 242.1 173.3 242.5 181.1 242.6 184.6 242.8 175.4 242.9 170.9 243.1 170.5 243.4 175.1 243.4 178.4 243.4 178.6 243.7 176.4 243.7 175.1 243.8 171.4 243.9 175.5 244.1 167.4 244.6 175.9 244.6 174.5 244.6 172.1 244.6 172.5 244.7 179.5 244.8 183.8 244.9 182.5 244.9 175.3 245.0 174.4 245.1 175.5 245.2 173.7 245.6 171.8 245.6 180.8 245.6 166.4 245.7 166.0 246.0 174.5 246.1 178.6 246.3 176.8 246.3 183.9 246.7 177.7 246.8 183.7 246.9 178.2 247.0 179.2 247.0 168.9 247.3 181.5 247.4 176.4 247.5 179.5 247.5 170.9 247.7 173.1 247.9 184.4 248.0 182.0 248.1 176.5 248.1 180.4 248.1 175.8 248.2 177.4 248.3 185.6 248.3 179.0 248.3 175.6 248.4 178.1 248.4 177.1 248.5 176.1 248.7 178.2 249.0 171.8 249.1 183.1 249.1 175.6 249.2 179.9 249.4 175.9 249.4 174.0 249.4 174.9 249.7 172.5 249.8 171.9 249.8 175.3 249.9 178.6 249.9 174.4 249.9 173.4 250.1 173.8 250.2 176.4 250.2 175.4 250.3 186.2 250.3 181.1 250.4 178.4 250.7 173.2 250.7 172.4 250.8 176.4 250.9 182.4 251.0 175.4 251.0 173.3 251.1 174.2 251.1 180.6 251.3 182.2 251.5 181.4 251.5 182.2 251.6 170.1 251.9 175.1 252.0 168.1 252.1 170.3 252.4 173.1 252.6 180.4 252.6 174.6 252.9 175.5 253.0 187.7 253.2 182.9 253.3 180.6 253.3 172.0 253.4 179.1 253.4 183.4 253.5 177.0 253.6 174.8 253.6 182.7 253.6 169.1 253.7 180.7 253.9 172.8 253.9 174.4 254.3 180.6 254.4 177.9 254.5 177.3 254.7 178.9 254.7 174.1 254.9 177.1 255.0 184.9 255.0 176.9 255.1 182.3 255.1 178.4 255.4 176.3 255.5 177.8 255.5 172.9 255.7 177.6 256.4 181.1 256.7 170.2 257.2 174.2 257.2 178.0 257.3 177.3 257.6 179.1 257.8 177.1 257.8 181.6 257.9 169.9 257.9 172.2 258.0 187.1 258.0 181.6 258.1 177.7 258.9 182.2 259.0 186.6 259.2 174.6 259.2 182.6 259.4 174.7 259.5 175.7 259.5 171.1 259.5 181.4 259.7 169.9 260.3 182.8 260.6 171.4 260.6 173.2 260.6 175.8 260.8 182.2 260.9 170.9 260.9 174.3 261.1 184.7 261.2 188.6 261.2 180.5 261.4 181.3 261.6 174.8 261.7 177.2 261.8 176.4 261.8 179.9 261.9 173.8 262.4 180.2 262.5 184.1 262.5 187.8 262.9 175.7 263.0 180.4 263.0 184.9 263.0 181.5 263.1 179.5 263.1 175.0 263.2 186.7 263.4 179.6 263.4 174.8 263.5 175.9 263.6 174.5 263.7 169.8 263.9 183.8 264.0 180.4 264.3 170.5 265.0 172.2 265.3 177.6 265.5 180.4 265.8 184.1 265.9 177.1 266.4 178.7 266.5 184.3 266.9 182.6 266.9 184.4 267.0 178.3 267.0 181.2 267.1 175.9 267.1 175.5 267.1 179.4 267.2 176.2 267.3 176.8 267.4 175.2 267.4 182.8 267.5 178.7 267.6 174.1 267.8 178.8 268.1 183.2 268.2 180.7 268.2 172.9 268.3 183.3 268.3 184.3 268.7 179.1 269.0 184.6 269.0 189.2 269.1 189.5 269.3 183.4 269.5 186.5 269.6 179.0 269.7 186.8 269.7 189.8 269.9 187.9 270.0 189.9 270.4 181.7 270.4 189.0 270.5 176.6 270.5 184.2 270.7 179.2 270.7 187.1 270.8 183.8 271.0 194.8 271.1 189.1 271.2 192.1 271.3 183.7 271.3 188.4 271.4 185.5 271.4 190.7 271.8 193.4 271.8 189.2 271.9 184.3 271.9 189.3 271.9 183.5 272.0 190.4 272.0 190.6 272.1 191.3 272.1 190.4 272.2 193.6 272.3 190.7 272.4 192.9 272.5 193.9 272.7 185.5 272.8 187.9 272.9 192.5 273.5 195.9 273.6 198.4 273.7 191.2 273.8 197.1 273.9 186.9 273.9 199.6 274.0 192.6 274.0 189.6 274.1 196.9 274.2 187.2 274.4 188.6 274.4 191.4 274.4 197.8 274.6 191.6 274.6 191.8 274.7 195.1 274.8 189.6 274.9 194.7 275.1 204.0 275.1 195.3 275.2 186.3 275.2 198.7 275.2 194.2 275.3 198.9 275.3 196.8 275.3 206.0 275.6 203.6 275.9 199.3 275.9 200.2 276.0 204.7 276.1 194.6 276.4 198.2 276.4 202.3 276.4 206.2 276.4 196.0 276.4 201.2 276.6 197.5 276.6 196.2 276.7 201.2 276.7 200.9 276.8 197.8 276.8 201.1 276.8 206.9 276.9 198.6 277.0 199.7 277.0 202.7 277.0 199.2 277.1 202.3 277.3 202.8 277.4 199.0 277.4 206.1 277.4 207.1 277.5 202.5 277.8 206.9 277.9 199.9 277.9 206.7 277.9 208.4 278.0 204.3 278.0 210.2 278.0 198.7 278.1 203.2 278.1 201.0 278.1 201.6 278.3 202.9 278.3 207.0 278.4 201.2 278.4 204.8 278.4 206.2 278.4 210.3 278.5 200.0 278.6 204.9 278.6 205.5 278.7 210.5 278.8 201.6 278.9 205.1 278.9 201.7 279.1 205.3 279.2 208.0 279.3 202.5 279.5 210.8 279.8 211.5 279.9 207.0 279.9 204.6 280.5 204.7 280.6 208.5 280.7 208.9 280.7 207.9 280.8 209.2 280.9 210.3 281.1 207.7 281.1 210.8 281.4 210.5 281.4 206.3 282.0 210.3 282.1 212.7 282.3 209.4 282.3 212.0 282.5 209.9 282.5 214.5 282.5 214.2 282.6 216.3 282.6 208.8 282.6 208.0 282.7 208.7 282.7 211.2 282.8 212.0 282.9 213.3 283.0 211.1 283.1 213.9 283.1 216.0 283.3 210.5 283.3 210.8 283.6 212.5 283.6 214.2 283.7 215.2 283.7 213.9 283.7 213.6 283.8 217.7 283.9 215.8 284.0 217.7 284.0 209.4 284.0 218.7 284.2 218.6 284.3 217.8 284.4 215.0 284.4 218.1 284.6 210.9 284.6 213.8 284.8 223.0 284.8 215.6 284.8 215.3 285.0 220.2 285.0 217.0 285.2 216.9 285.5 219.3 285.5 217.9 286.0 217.7 286.4 220.7 286.5 219.6 286.6 222.9 286.8 218.2 287.2 222.2 287.2 217.4 287.3 215.2 287.3 216.3 287.6 222.4 288.1 220.1 288.1 222.7 288.1 220.9 288.4 224.6 288.5 225.2 288.5 222.8 288.5 224.7 288.7 219.8 288.7 221.2 288.8 222.3 288.9 223.7 289.0 223.9 289.3 221.5 289.4 223.9 289.4 224.1 289.4 219.5 289.5 223.9 289.5 225.0 289.5 224.9 289.5 221.2 289.6 225.6 289.6 225.5 289.6 221.8 289.8 221.8 289.9 221.5 290.1 227.2 290.1 224.1 290.3 226.9 290.3 224.6 290.4 229.4 290.6 226.4 290.6 223.4 290.6 225.6 290.8 232.0 290.9 224.2 291.0 225.8 291.0 227.3 291.1 226.8 291.5 228.6 291.5 224.9 291.6 227.7 291.7 231.3 291.7 229.7 291.7 224.1 292.0 225.5 292.0 226.3 292.0 230.0 292.0 227.0 292.1 226.0 292.1 228.1 292.2 226.8 292.2 224.1 292.3 226.2 292.3 227.5 292.6 227.9 292.6 231.7 292.9 230.0 293.1 227.9 293.4 226.4 293.5 229.8 293.6 228.1 293.6 230.4 293.8 232.7 293.8 229.8 293.8 229.7 293.9 232.6 294.0 232.8 294.0 230.9 294.1 232.9 294.2 230.1 294.2 234.1 294.3 229.6 294.4 232.7 294.5 230.9 294.6 234.9 294.7 228.6 294.9 231.8 295.3 228.6 295.3 236.1 295.4 236.5 295.5 231.7 295.5 231.3 295.5 236.6 295.6 231.4 295.7 231.5 296.1 231.1 296.1 233.7 296.2 237.0 296.3 237.9 296.3 230.3 177.9 59.1 177.5 76.5 180.4 79.5 171.5 85.3 177.5 84.6 179.0 88.9 168.1 93.2 181.9 93.2 184.9 92.5 178.3 97.0 158.8 101.3 192.0 99.7 171.8 99.7 128.8 88.9 148.4 84.2 197.3 87.4 202.9 84.7 207.0 83.8 208.4 88.8 219.5 85.5 222.3 92.9 198.8 94.4 205.7 95.8 214.0 97.1 223.7 100.0 65.3 223.0 55.1 227.5 73.6 226.9 180.6 168.6 195.7 148.3 176.6 148.3 178.6 151.0 180.1 153.7 177.6 142.9 180.6 145.6 175.1 147.0 259.2 148.3 276.8 173.0 276.8 181.5 240.0 191.5 250.1 190.2 257.2 159.1 259.7 156.4 263.7 165.0 195.2 148.3" fill="none" stroke="none" marker-start="url(#mp)" marker-mid="url(#mp)" marker-end="url(#mp)"/></g></g>
<g clip-path="url(#c2)"><g filter="url(#bl)">
<path d="M454.5 215.1L542.8 213.8 579.9 217.7 435.2 198.1 546.0 200.7 444.3 207.3 402.9 229.5 488.2 199.4 578.4 211.2 557.9 213.8 480.9 161.4 438.3 223.0 477.1 199.4 536.8 200.7 427.4 212.5 488.1 237.4 437.7 203.3 522.4 213.8 507.9 194.2 542.5 205.9 454.1 203.3 492.5 223.0 411.6 220.4 525.9 221.7 479.1 200.7 443.3 204.6 466.2 228.2 564.8 185.0 440.3 190.2 501.4 208.6 444.8 209.9 573.2 221.7 430.1 224.3 409.7 230.8 431.6 215.1 579.7 198.1 470.5 212.5 547.9 217.7 430.4 194.2 455.4 232.1 549.8 209.9 483.9 202.0 432.1 192.8 536.2 219.0 544.2 217.7 531.6 203.3 460.9 202.0 556.6 204.6 422.4 202.0 533.4 226.9 516.9 208.6 490.3 228.2 487.5 221.7 520.0 183.7 548.3 215.1 521.9 215.1 575.1 188.9 555.8 205.9 547.0 220.4 572.0 223.0 427.8 196.8 536.9 224.3 502.5 158.8 571.7 204.6 460.0 217.7 527.1 225.6 510.4 145.7 472.6 198.1 541.3 194.2 549.7 224.3 534.1 187.6 522.1 221.7 426.7 195.5 489.5 185.0 526.4 216.4 536.9 170.6 562.9 217.7 399.9 232.1 476.8 194.2 554.6 208.6 491.2 209.9 435.3 221.7 420.8 166.6 520.0 196.8 437.9 236.1 485.5 208.6 482.3 212.5 474.9 204.6 482.4 219.0 510.9 212.5 534.4 207.3 557.3 179.8 495.5 205.9 570.5 224.3 417.1 192.8 428.5 224.3 409.0 237.4 454.1 209.9 496.8 208.6 586.4 220.4 460.8 221.7 429.4 205.9 443.8 190.2 426.4 216.4 443.1 188.9 449.1 160.1 448.3 179.8 487.3 204.6 418.0 200.7 446.9 212.5 400.3 219.0 526.8 166.6 536.3 230.8 614.1 230.8 551.0 217.7 549.3 207.3 454.5 164.0 554.0 162.7 462.9 223.0 523.9 196.8 483.2 221.7 501.8 199.4 551.3 203.3 438.1 219.0 563.3 213.8 511.6 198.1 430.9 186.3 492.5 170.6 573.8 221.7 431.9 139.1 410.3 202.0 420.2 207.3 543.3 209.9 455.7 209.9 480.5 224.3 496.8 212.5 467.2 213.8 444.8 233.5 496.1 228.2 517.0 209.9 458.3 175.8 547.7 207.3 500.2 207.3 432.0 223.0 521.7 171.9 472.2 225.6 515.0 171.9 541.8 196.8 415.3 216.4 480.7 217.7 481.1 168.0 448.0 204.6 446.7 196.8 462.3 216.4 436.7 204.6 422.9 219.0 457.0 220.4 459.1 205.9 520.8 211.2 516.4 217.7 473.0 236.1 515.9 215.1 454.3 198.1 487.7 225.6 467.4 211.2 424.6 200.7 468.1 209.9 551.8 234.8 527.7 195.5 442.7 203.3 561.4 188.9 528.8 183.7 576.8 194.2 444.9 232.1 507.6 204.6 524.4 162.7 408.4 229.5 480.5 171.9 544.1 219.0 552.8 212.5 426.8 195.5 460.0 188.9 442.8 191.5 509.9 232.1 438.7 199.4 549.3 198.1 516.7 217.7 441.9 216.4 538.7 161.4 432.8 164.0 547.8 203.3 447.9 191.5 495.1 165.3 412.5 238.7 462.7 173.2 452.9 192.8 577.4 225.6 529.8 230.8 550.2 208.6 538.5 209.9 425.8 191.5 504.9 195.5 466.0 162.7 473.0 219.0 431.9 223.0 534.6 224.3 461.9 198.1 443.0 165.3 411.2 223.0 534.7 225.6 557.1 211.2 429.8 198.1 454.7 215.1 498.5 211.2 529.3 194.2 494.2 220.4 534.7 220.4 544.8 233.5 483.4 230.8 528.6 209.9 537.5 232.1 431.5 215.1 499.2 192.8 462.1 149.6 453.1 195.5 562.5 234.8 564.6 198.1 433.6 181.1 550.7 217.7 536.4 204.6 475.4 205.9 473.7 220.4 471.6 217.7 559.6 220.4 482.0 164.0 495.7 209.9 516.1 181.1 435.0 137.8 407.3 233.5 533.2 207.3 477.2 194.2 543.6 207.3 551.4 223.0 426.5 191.5 454.2 195.5 468.4 211.2 561.2 228.2 455.7 226.9 485.8 223.0 516.2 220.4 572.8 207.3 470.3 192.8 596.2 230.8 541.1 194.2 547.3 207.3 488.4 199.4 533.0 207.3 420.8 198.1 518.7 212.5 473.5 209.9 447.9 171.9 560.8 195.5 416.6 221.7 477.6 169.3 496.6 205.9 598.1 212.5 517.6 236.1 436.4 217.7 507.9 216.4 543.0 209.9 527.6 194.2 503.2 225.6 458.8 211.2 478.8 224.3 558.2 208.6 420.3 236.1 499.2 207.3 454.7 215.1 445.2 212.5 445.0 195.5 447.7 208.6 557.3 223.0 625.0 232.1 545.6 217.7 577.0 213.8 437.2 217.7 579.8 199.4 450.3 203.3 448.2 179.8 465.9 209.9 482.5 211.2 556.6 207.3 549.5 179.8 434.3 183.7 543.6 217.7 516.9 225.6 598.0 228.2 521.7 238.7 479.1 183.7 489.9 150.9 567.2 198.1 410.1 203.3 572.7 219.0 490.8 203.3 429.1 152.2 561.9 213.8 549.9 164.0 460.9 212.5 487.7 211.2 463.2 228.2 467.3 215.1 526.1 225.6 550.8 181.1 442.1 219.0 442.6 203.3 442.4 209.9 549.5 203.3 432.7 200.7 486.0 215.1 436.0 232.1 466.8 224.3 428.6 230.8 447.4 223.0 546.2 221.7 520.9 219.0 518.0 194.2 471.4 196.8 464.7 215.1 419.9 203.3 476.2 233.5 549.7 202.0 456.7 183.7 448.9 220.4 402.2 226.9 533.8 215.1 434.0 194.2 439.7 221.7 423.1 185.0 512.0 199.4 436.1 158.8 521.9 211.2 511.6 212.5 568.8 224.3 468.8 209.9 498.4 221.7 567.0 205.9 512.7 170.6 531.5 196.8 436.4 208.6 564.5 213.8 483.6 203.3 521.4 215.1 540.7 211.2 467.0 187.6 607.1 223.0 488.2 228.2 542.4 207.3 488.5 221.7 498.9 209.9 504.9 205.9 474.1 230.8 479.4 188.9 421.1 215.1 536.7 162.7 554.6 233.5 570.1 225.6 404.0 228.2 523.1 205.9 412.6 237.4 523.1 205.9 568.8 209.9 496.3 205.9 431.0 213.8 510.4 216.4 553.6 228.2 510.4 217.7 511.3 219.0 494.0 190.2 447.9 216.4 487.1 194.2 522.9 212.5 400.9 229.5 432.6 204.6 549.9 221.7 454.5 223.0 474.8 209.9 431.3 213.8 435.3 147.0 505.4 223.0 500.2 207.3 480.5 202.0 511.7 203.3 434.6 188.9 504.3 223.0 429.4 208.6 449.1 217.7 471.3 236.1 454.5 182.4 468.0 173.2 490.4 162.7 520.2 211.2 431.9 216.4 514.0 196.8 468.1 216.4 451.1 182.4 432.4 162.7 490.1 225.6 407.9 229.5 443.3 190.2 467.2 203.3 603.6 221.7 485.8 188.9 489.4 233.5 557.9 166.6 503.9 203.3 518.5 225.6 470.8 203.3 431.3 224.3 446.4 190.2 424.3 198.1 501.8 195.5 426.6 198.1 485.5 150.9 455.0 211.2 398.5 224.3 525.6 215.1 413.3 225.6 502.9 212.5 481.8 216.4 553.9 215.1 477.1 205.9 435.2 204.6 478.7 158.8 488.7 205.9 425.2 183.7 449.2 216.4 442.5 216.4 447.3 221.7 544.5 211.2 462.3 191.5 525.3 209.9 408.0 223.0 634.0 236.1 555.0 219.0 483.6 161.4 423.8 185.0 489.7 215.1 523.0 188.9 461.3 194.2 399.1 221.7 462.2 208.6 513.2 204.6 426.2 226.9 496.7 220.4 543.4 199.4 519.0 196.8 540.8 226.9 537.5 234.8 556.5 211.2 480.0 209.9 523.2 202.0 576.9 234.8 525.6 219.0 637.6 233.5 572.3 219.0 470.9 199.4 434.3 177.1 458.5 224.3 431.0 237.4 428.5 164.0 483.3 238.7 570.1 209.9 568.9 233.5 518.9 196.8 598.9 213.8 460.0 203.3 437.9 207.3 564.0 211.2 559.0 232.1 460.2 208.6 534.3 165.3 435.6 205.9 569.7 221.7 458.9 207.3 443.9 225.6 601.8 225.6 419.7 203.3 451.2 199.4 638.5 232.1 487.3 202.0 475.9 200.7 512.0 208.6 418.1 223.0 411.6 230.8 476.1 224.3 562.9 226.9 560.7 221.7 550.2 186.3 554.2 207.3 486.6 205.9 537.3 209.9 518.2 228.2 441.4 236.1 422.1 213.8 529.9 209.9 484.7 209.9 561.6 199.4 599.0 185.0 492.8 211.2 429.4 215.1 466.6 192.8 487.8 211.2 452.9 219.0 478.4 225.6 522.8 229.5 534.7 195.5 527.9 194.2 435.0 181.1 575.6 219.0 486.9 192.8 410.8 226.9 547.4 204.6 461.4 212.5 620.2 217.7 436.9 221.7 559.0 225.6 535.6 188.9 424.4 188.9 527.5 213.8 425.7 199.4 431.1 217.7 463.6 224.3 529.8 212.5 487.9 198.1 424.0 186.3 561.5 225.6 468.6 154.9 428.7 221.7 477.0 232.1 554.8 194.2 501.0 204.6 554.1 204.6 552.8 211.2 528.3 223.0 430.5 168.0 454.6 225.6 441.4 205.9 501.5 216.4 446.9 238.7 445.3 211.2 501.8 186.3 488.7 169.3 499.8 174.5 524.0 217.7 547.5 202.0 432.8 152.2 492.8 211.2 451.5 200.7 572.0 221.7 563.1 213.8 467.7 213.8 607.3 196.8 561.0 216.4 546.3 204.6 427.9 200.7 454.4 223.0 516.9 217.7 459.6 212.5 454.5 220.4 402.2 225.6 429.3 205.9 567.5 211.2 457.7 173.2 444.5 178.4 490.4 225.6 520.5 148.3 527.5 211.2 541.0 213.8 475.0 192.8 603.8 207.3 529.2 207.3 441.0 194.2 531.4 233.5 529.4 190.2 522.9 213.8 467.3 215.1 476.8 228.2 498.0 217.7 477.6 220.4 552.5 194.2 425.2 190.2 432.4 169.3 557.6 208.6 571.3 178.4 408.6 220.4 461.1 223.0 530.2 220.4 516.2 191.5 440.2 229.5 525.9 203.3 509.6 212.5 439.0 187.6 534.7 190.2 560.2 225.6 558.6 170.6 531.8 204.6 508.9 220.4 619.4 232.1 442.7 225.6 512.0 208.6 485.4 145.7 401.0 216.4 441.9 188.9 510.0 174.5 435.1 215.1 513.9 200.7 406.2 228.2 550.2 175.8 458.2 236.1 541.5 208.6 518.4 226.9 467.6 223.0 451.5 233.5 560.0 208.6 436.3 220.4 521.3 225.6 435.3 205.9 518.0 183.7 497.6 212.5 488.0 219.0 624.7 229.5 433.5 233.5 564.4 209.9 420.3 199.4 414.0 224.3 557.8 204.6 473.4 204.6 492.7 192.8 428.3 192.8 523.4 158.8 422.9 174.5 484.5 220.4 447.3 196.8 576.0 226.9 571.3 224.3 504.9 202.0 483.2 170.6 623.4 220.4 563.1 221.7 503.2 199.4 415.1 215.1 453.4 191.5 526.5 207.3 545.3 192.8 548.6 220.4 573.3 207.3 446.8 166.6 561.3 219.0 479.5 229.5 495.9 199.4 420.4 225.6 490.7 208.6 503.8 179.8 519.7 196.8 490.2 148.3 436.4 224.3 560.8 211.2 439.6 192.8 589.1 232.1 461.4 221.7 539.6 199.4 456.1 215.1 538.0 224.3 482.4 196.8 430.3 224.3 502.2 224.3 425.2 234.8 538.7 175.8 443.4 215.1 559.8 225.6 454.1 191.5 428.2 190.2 524.1 233.5 457.5 230.8 508.6 181.1 565.8 238.7 483.9 174.5 598.2 208.6 518.7 212.5 520.4 225.6 413.5 224.3 558.6 208.6 558.6 200.7 420.0 219.0 521.4 182.4 428.0 144.4 563.1 205.9 537.1 208.6 407.2 228.2 546.4 194.2 507.2 182.4 516.9 219.0 437.5 221.7 579.7 232.1 504.9 213.8 538.4 215.1 489.8 204.6 505.2 212.5 482.1 203.3 398.9 233.5 466.8 168.0 612.4 224.3 518.9 204.6 411.0 216.4 601.6 208.6 530.9 215.1 522.8 220.4 438.5 228.2 560.3 219.0 441.1 225.6 598.9 219.0 404.3 234.8 524.2 181.1 456.6 226.9 523.3 175.8 555.2 220.4 500.0 196.8 531.6 216.4 450.1 198.1 548.8 208.6 423.8 234.8 494.2 196.8 442.1 196.8 441.9 199.4 428.3 207.3 456.8 196.8 439.3 174.5 429.9 188.9 550.4 221.7 491.3 203.3 557.3 215.1 539.5 229.5 444.4 216.4 538.0 226.9 548.8 202.0 428.6 220.4 573.9 216.4 428.3 219.0 537.7 212.5 544.8 183.7 513.2 162.7 517.2 194.2 521.8 188.9 557.4 213.8 489.1 208.6 459.2 191.5 467.0 196.8 428.2 205.9 423.7 211.2 452.9 211.2 493.6 157.5 570.4 209.9 517.4 224.3 541.5 221.7 534.1 226.9 498.5 181.1 471.1 153.5 436.1 203.3 440.9 216.4 482.1 217.7 521.1 211.2 617.3 238.7 509.7 213.8 425.4 181.1 561.6 221.7 469.5 225.6 450.1 221.7 423.9 230.8 555.0 221.7 485.3 211.2 450.9 195.5 461.1 211.2 545.2 226.9 548.5 195.5 565.6 196.8 474.4 200.7 483.4 199.4 430.4 208.6 459.6 187.6 562.3 216.4 554.9 217.7 545.1 225.6 554.2 219.0 496.3 228.2 465.6 205.9 416.8 215.1 536.6 196.8 524.6 225.6 545.0 220.4 514.5 186.3 570.1 195.5 560.7 194.2 447.7 212.5 571.5 221.7 525.4 216.4 495.6 213.8 558.4 216.4 543.1 229.5 515.3 213.8 508.8 208.6 518.7 192.8 509.6 198.1 421.8 213.8 487.4 205.9 541.3 204.6 401.5 215.1 443.5 208.6 551.9 207.3 448.8 196.8 420.7 200.7 469.9 220.4 429.2 198.1 424.8 192.8 568.1 217.7 515.1 219.0 550.2 181.1 424.9 205.9 520.6 219.0 421.2 192.8 416.0 223.0 419.2 136.5 452.9 224.3 543.9 212.5 459.1 196.8 526.7 148.3 453.3 204.6 447.7 204.6 451.2 196.8 464.0 229.5 537.5 237.4 547.8 217.7 448.3 213.8 546.3 225.6 443.6 183.7 569.0 199.4 439.5 209.9 555.5 216.4 567.1 216.4 444.3 188.9 493.3 215.1 521.1 205.9 485.6 192.8 600.5 209.9 402.7 234.8 482.9 207.3 566.4 194.2 474.1 185.0 531.6 229.5 398.9 229.5 494.1 191.5 427.2 209.9 485.8 202.0 433.9 198.1 492.0 230.8 439.4 191.5 534.8 207.3 495.8 211.2 523.5 220.4 529.2 205.9 479.3 179.8 409.2 236.1 534.7 204.6 468.7 208.6 491.2 221.7 508.2 219.0 592.7 236.1 542.4 203.3 553.7 199.4 496.2 191.5 508.9 216.4 466.0 205.9 483.3 204.6 537.6 219.0 491.0 199.4 552.4 209.9 508.5 185.0 541.0 179.8 514.6 230.8 516.1 204.6 486.1 186.3 538.5 226.9 444.2 216.4 555.6 233.5 442.7 204.6 482.3 225.6 506.6 207.3 453.7 234.8 568.6 226.9 409.0 228.2 460.3 207.3 509.6 208.6 480.8 209.9 497.9 219.0 599.8 207.3 457.2 208.6 454.9 215.1 460.7 212.5 450.9 144.4 481.3 194.2 482.0 186.3 531.9 192.8 528.2 238.7 461.2 220.4 607.5 217.7 454.7 234.8 547.2 225.6 492.2 219.0 561.7 212.5 452.6 219.0 471.9 225.6 459.9 200.7 544.3 207.3 557.3 207.3 443.5 223.0 509.2 211.2 415.7 219.0 539.0 220.4 453.8 221.7 427.0 230.8 613.1 225.6 531.0 207.3 450.0 208.6 548.1 165.3 418.0 226.9 472.4 204.6 440.8 215.1 502.0 200.7 505.7 224.3 538.3 212.5 567.0 186.3 469.7 209.9 419.9 198.1 481.9 182.4 525.2 215.1 489.3 182.4 455.5 194.2 515.3 199.4 503.1 220.4 508.5 207.3 572.2 209.9 554.2 226.9 428.9 215.1 534.6 200.7 471.9 198.1 515.8 216.4 480.6 220.4 579.4 220.4 544.6 226.9 525.0 185.0 453.6 192.8 431.8 187.6 432.7 186.3 506.4 200.7 475.7 215.1 602.6 232.1 480.5 202.0 445.4 173.2 574.4 232.1 497.1 141.8 543.1 205.9 453.6 236.1 502.8 225.6 536.8 225.6 602.3 216.4 420.5 198.1 505.1 205.9 542.6 223.0 459.5 216.4 473.5 175.8 451.4 220.4 440.6 204.6 464.2 223.0 529.3 213.8 447.5 228.2 550.9 161.4 444.1 224.3 482.6 220.4 568.8 204.6 541.8 229.5 563.7 209.9 420.0 198.1 464.0 232.1 449.8 186.3 547.6 205.9 419.5 217.7 457.6 164.0 549.9 212.5 473.2 223.0 461.0 207.3 465.4 225.6 473.6 205.9 523.1 205.9 469.9 196.8 472.9 205.9 544.3 199.4 491.4 212.5 556.2 237.4 463.4 215.1 440.5 207.3 545.7 234.8 469.3 213.8 465.5 196.8 434.4 182.4 557.0 211.2 570.4 219.0 503.4 191.5 418.4 225.6 436.1 205.9 576.2 212.5 483.2 212.5 497.2 200.7 497.9 211.2 521.2 169.3 492.9 204.6 577.2 229.5 527.8 191.5 458.5 223.0 540.0 212.5 467.1 198.1 416.4 224.3 500.6 185.0 504.4 220.4 613.2 225.6 410.5 211.2 468.5 179.8 534.5 225.6 452.3 199.4 438.0 203.3 471.6 203.3 571.3 215.1 501.9 194.2 604.1 216.4 629.7 234.8 502.9 217.7 540.7 171.9 494.9 228.2 506.0 232.1 569.9 220.4 555.6 208.6 537.9 199.4 445.0 190.2 436.6 191.5 529.4 162.7 432.0 181.1 451.9 212.5 480.0 223.0 460.7 215.1 480.9 228.2 535.4 204.6 543.4 200.7 515.6 199.4 502.9 204.6 432.8 211.2 422.2 190.2 411.5 216.4 465.5 211.2 501.4 232.1 458.5 209.9 535.2 207.3 470.4 160.1 516.6 237.4 546.9 202.0 512.6 224.3 438.1 209.9 547.5 221.7 464.4 225.6 574.0 203.3 516.1 198.1 578.8 217.7 533.9 226.9 486.6 204.6 456.2 209.9 536.4 213.8 477.3 204.6 465.1 225.6 516.6 207.3 412.8 216.4 495.0 208.6 512.6 211.2 545.0 164.0 469.5 205.9 527.9 195.5 469.8 224.3 404.2 229.5 511.1 212.5 472.8 221.7 497.6 213.8 462.8 199.4 533.4 198.1 450.9 216.4 532.8 225.6 501.8 213.8 548.3 186.3 452.6 205.9 446.2 174.5 402.1 233.5 436.1 183.7 557.1 224.3 597.1 217.7 431.9 228.2 457.4 199.4 490.1 207.3 500.2 226.9 537.3 203.3 491.8 223.0 411.5 217.7 508.6 208.6 432.6 194.2 464.7 178.4 465.3 212.5 529.3 219.0 504.8 185.0 532.0 213.8 548.6 238.7 497.3 196.8 456.0 224.3 501.6 208.6 578.5 224.3 546.7 217.7 421.9 192.8 557.0 226.9 470.9 205.9 561.0 194.2 530.2 198.1 430.2 194.2 516.9 223.0 516.5 233.5 458.8 196.8 519.6 179.8 406.5 233.5 492.6 217.7 520.4 147.0 431.5 220.4 546.6 220.4 544.5 217.7 562.0 217.7 600.5 200.7 460.2 203.3 423.9 220.4 428.1 208.6 426.1 181.1 455.9 212.5 482.0 208.6 469.9 204.6 566.7 203.3 540.9 208.6 429.9 196.8 418.2 216.4 501.9 212.5 542.9 207.3 429.8 209.9 539.5 225.6 471.6 205.9 534.5 215.1 418.8 191.5 452.6 204.6 535.9 205.9 429.6 220.4 587.3 224.3 426.2 188.9 427.1 208.6 483.2 213.8 562.1 221.7 470.4 208.6 434.3 212.5 430.0 233.5 508.3 213.8 426.1 178.4 550.7 203.3 546.1 215.1 547.0 225.6 465.4 186.3 475.4 196.8 537.9 198.1 534.8 186.3 477.2 212.5 535.9 236.1 571.9 174.5 547.4 211.2 548.1 212.5 516.8 203.3 475.1 220.4 525.2 198.1 439.5 194.2 564.9 211.2 522.5 198.1 449.2 204.6 426.4 220.4 439.0 160.1 572.5 216.4 543.7 209.9 560.5 165.3 471.9 204.6 455.9 229.5 444.9 185.0 468.8 236.1 405.2 234.8 507.4 219.0 478.7 220.4 547.2 202.0 479.9 171.9 495.9 202.0 459.8 200.7 531.8 208.6 466.9 217.7 487.1 207.3 547.7 226.9 537.9 213.8 543.1 213.8 507.3 195.5 433.2 196.8 426.3 230.8 555.3 220.4 600.2 216.4 517.2 209.9 455.5 224.3 446.0 233.5 451.5 199.4 563.5 216.4 472.4 215.1 529.3 207.3 568.2 217.7 563.7 204.6 560.2 211.2 468.4 221.7 460.0 203.3 530.7 219.0 425.1 192.8 465.2 224.3 464.1 186.3 548.7 195.5 618.6 224.3 528.5 236.1 519.2 188.9 450.4 185.0 479.0 217.7 501.0 196.8 444.3 168.0 539.9 208.6 497.9 149.6 557.6 229.5 585.3 225.6 443.0 195.5 512.4 203.3 529.6 219.0 444.2 217.7 485.4 202.0 525.6 208.6 432.1 221.7 428.0 212.5 487.9 213.8 483.8 232.1 546.1 208.6 431.7 233.5 451.3 200.7 494.0 234.8 542.8 217.7 494.3 223.0 521.7 212.5 457.2 209.9 495.6 216.4 475.9 208.6 565.4 221.7 511.3 183.7 500.0 211.2 571.5 230.8 436.2 208.6 472.5 209.9 570.8 220.4 579.1 224.3 468.7 205.9 549.0 212.5 576.3 195.5 469.4 225.6 426.3 162.7 451.1 233.5 630.8 230.8 546.9 205.9 427.7 225.6 555.8 217.7 455.6 233.5 459.2 225.6 523.4 226.9 454.7 185.0 484.8 145.7 433.5 217.7 453.4 202.0 467.5 194.2 559.9 205.9 444.7 207.3 411.1 225.6 572.4 216.4 449.5 186.3 475.3 216.4 476.2 175.8 515.3 204.6 564.9 169.3 499.6 171.9 552.8 179.8 457.5 202.0 503.0 221.7 507.1 183.7 445.6 211.2 577.1 200.7 426.0 186.3 487.0 219.0 497.8 175.8 603.6 229.5 541.6 200.7 467.5 208.6 453.5 217.7 500.5 204.6 493.6 188.9 563.7 224.3 432.6 209.9 562.1 216.4 496.9 204.6 463.1 147.0 436.8 215.1 446.9 224.3 465.5 224.3 559.9 179.8 524.8 194.2 502.2 181.1 481.4 215.1 439.4 224.3 444.8 204.6 428.2 204.6 492.2 208.6 495.9 220.4 437.1 165.3 430.3 208.6 452.4 198.1 504.0 204.6 532.4 182.4 503.4 188.9 469.4 224.3 475.0 220.4 543.6 204.6 498.1 208.6 526.8 181.1 442.6 219.0 461.0 212.5 457.8 195.5 446.9 221.7 604.8 216.4 466.1 225.6 552.1 212.5 429.2 202.0 425.8 207.3 557.4 223.0 563.7 191.5 532.7 171.9 516.2 224.3 442.4 219.0 515.7 217.7 448.6 209.9 509.4 199.4 537.5 212.5 436.1 196.8 516.5 223.0 533.3 177.1 465.8 212.5 462.8 183.7 503.7 194.2 524.3 212.5 612.6 219.0 523.0 199.4 453.3 209.9 539.2 226.9 399.6 233.5 436.4 223.0 510.2 205.9 553.4 212.5 429.4 191.5 466.2 177.1 431.3 215.1 447.0 223.0 456.4 195.5 548.6 224.3 531.6 224.3 500.4 185.0 525.7 212.5 540.3 211.2 521.3 204.6 461.2 185.0 437.4 209.9 588.6 208.6 436.6 204.6 605.9 217.7 463.8 208.6 411.4 226.9 472.5 203.3 442.5 217.7 531.0 226.9 554.6 213.8 497.0 191.5 463.9 199.4 542.8 217.7 457.9 224.3 480.5 216.4 562.4 221.7 559.5 228.2 624.5 230.8 532.3 204.6 458.4 208.6 602.2 236.1 480.7 223.0 528.2 212.5 531.5 208.6 455.0 211.2 469.9 213.8 475.3 195.5 531.6 209.9 576.6 209.9 491.2 147.0 406.7 226.9 497.8 203.3 418.5 194.2 520.4 196.8 561.6 226.9 506.5 215.1 507.5 208.6 550.9 220.4 507.5 211.2 441.1 157.5 567.3 207.3 446.9 211.2 537.3 213.8 432.1 181.1 507.7 220.4 442.6 195.5 493.3 198.1 491.6 220.4 534.0 215.1 443.9 205.9 545.4 217.7 467.2 173.2 549.6 208.6 539.2 225.6 420.8 209.9 570.8 229.5 548.9 212.5 475.5 196.8 480.3 211.2 553.4 204.6 440.9 215.1 418.9 223.0 538.9 217.7 577.4 212.5 449.5 221.7 431.0 207.3 546.3 202.0 425.7 203.3 428.7 220.4 457.9 207.3 545.2 178.4 513.3 212.5 553.7 225.6 507.1 204.6 450.9 204.6 514.2 190.2 490.7 198.1 432.2 191.5 558.9 209.9 553.4 215.1 519.2 200.7 504.7 178.4 475.3 223.0 489.2 157.5 435.2 192.8 559.6 187.6 543.6 211.2 456.5 223.0 526.1 220.4 421.5 202.0 485.5 221.7 532.9 178.4 555.5 220.4 546.8 203.3 477.6 203.3 556.9 220.4 472.6 221.7 478.1 233.5 419.7 211.2 440.4 173.2 499.1 207.3 501.2 213.8 552.2 204.6 538.8 203.3 442.6 192.8 604.7 215.1 422.3 179.8 487.4 215.1 503.0 220.4 501.1 211.2 431.1 128.7 443.9 198.1 422.3 199.4 424.0 223.0 514.1 212.5 469.5 202.0 455.0 215.1 417.1 226.9 599.3 205.9 549.3 212.5 449.9 213.8 421.1 203.3 413.2 225.6 445.2 165.3 481.2 219.0 541.4 200.7 506.0 215.1 537.7 220.4 426.6 213.8 474.0 205.9 500.5 196.8 607.5 224.3 544.5 200.7 573.2 185.0 520.4 202.0 502.9 195.5 528.9 188.9 523.9 209.9 437.6 216.4 504.2 160.1 484.2 221.7 437.1 178.4 500.2 215.1 573.1 228.2 447.3 191.5 507.1 169.3 528.2 223.0 491.8 221.7 528.4 216.4 521.4 220.4 523.8 203.3 458.6 232.1 545.8 215.1 466.9 208.6 560.0 200.7 404.5 226.9 529.9 209.9 551.5 182.4 600.5 202.0 471.5 203.3 553.2 208.6 533.2 213.8 536.0 182.4 568.0 213.8 514.1 220.4 509.8 213.8 551.5 183.7 536.4 195.5 421.1 195.5 614.8 223.0 571.1 202.0 437.0 237.4 566.8 209.9 485.3 203.3 460.3 194.2 580.0 226.9 530.6 220.4 516.8 204.6 483.0 178.4 561.0 179.8 520.2 237.4 490.7 213.8 510.8 186.3 425.0 223.0 472.9 194.2 539.6 174.5 420.1 192.8 520.9 186.3 442.3 237.4 524.2 232.1 583.5 217.7 481.3 211.2 557.4 207.3 565.7 219.0 437.2 230.8 438.9 223.0 423.0 213.8 557.8 233.5 447.8 225.6 498.9 224.3 457.0 217.7 574.1 196.8 416.4 188.9 552.3 212.5 490.3 220.4 539.4 207.3 497.6 228.2 456.5 170.6 545.2 234.8 450.8 199.4 424.0 236.1 459.1 225.6 472.8 205.9 421.7 198.1 476.3 216.4 403.1 237.4 574.0 220.4 462.9 205.9 489.1 220.4 544.3 181.1 553.8 225.6 420.9 212.5 472.8 173.2 560.0 215.1 540.8 213.8 565.0 209.9 416.2 219.0 429.6 164.0 556.6 205.9 546.1 200.7 468.5 221.7 407.9 224.3 466.3 211.2 512.1 186.3 444.9 202.0 456.4 216.4 498.4 219.0 421.7 195.5 518.5 220.4 555.6 208.6 543.4 181.1 545.3 179.8 473.2 224.3 571.9 229.5 612.5 223.0 467.1 200.7 483.6 212.5 495.6 204.6 517.3 207.3 473.3 177.1 557.8 224.3 590.2 220.4 462.2 203.3 601.0 221.7 583.9 230.8 490.8 209.9 500.4 195.5 556.7 204.6 502.8 213.8 553.1 150.9 560.0 170.6 416.2 199.4 571.9 226.9 452.5 204.6 428.3 208.6 516.1 221.7 429.5 188.9 472.3 169.3 528.1 221.7 483.2 205.9 463.6 195.5 447.5 150.9 542.0 196.8 482.7 194.2 501.2 224.3 430.1 192.8 443.4 152.2 430.4 217.7 556.0 219.0 537.9 221.7 549.7 226.9 612.5 225.6 534.6 196.8 547.1 199.4 552.6 215.1 541.4 207.3 570.6 224.3 557.8 220.4 479.8 213.8 611.1 220.4 564.9 198.1 494.3 215.1 534.3 192.8 555.2 198.1 560.7 194.2 477.5 200.7 435.0 211.2 523.5 179.8 511.4 211.2 504.5 203.3 524.5 230.8 510.1 219.0 511.7 213.8 520.6 188.9 556.4 162.7 411.5 233.5 422.0 220.4 457.1 190.2 466.5 199.4 437.4 219.0 464.4 216.4 475.7 226.9 517.0 150.9 487.2 196.8 527.5 229.5 457.6 157.5 456.0 216.4 432.9 211.2 466.9 202.0 603.0 200.7 464.2 219.0 532.0 202.0 489.3 234.8 539.9 195.5 457.5 192.8 481.6 237.4 401.0 237.4 515.3 202.0 433.1 205.9 488.7 149.6 430.3 177.1 532.3 216.4 540.8 211.2 559.9 220.4 545.2 215.1 403.4 224.3 538.7 205.9 459.4 202.0 455.2 224.3 444.0 209.9 468.2 236.1 454.9 215.1 425.9 198.1 521.7 204.6 521.7 224.3 538.6 212.5 475.5 223.0 474.4 213.8 551.0 192.8 568.1 169.3 431.5 200.7 537.1 150.9 552.4 215.1 499.4 220.4 535.9 226.9 539.4 208.6 572.6 233.5 557.0 225.6 553.9 173.2 528.0 198.1 469.2 215.1 429.5 200.7 485.9 204.6 449.8 224.3 459.9 185.0 460.1 165.3 397.5 232.1 468.4 185.0 540.2 158.8 484.5 204.6 530.7 185.0 528.0 211.2 533.4 196.8 418.4 212.5 494.0 234.8 544.9 220.4 527.6 209.9 531.8 220.4 604.1 204.6 425.3 161.4 491.9 220.4 478.8 219.0 444.5 207.3 447.2 186.3 438.6 216.4 462.3 204.6 416.1 230.8 528.2 225.6 569.9 223.0 489.2 224.3 446.4 194.2 476.5 169.3 468.0 215.1 458.4 183.7 559.9 209.9 562.4 226.9 573.0 216.4 453.1 183.7 547.8 220.4 524.0 211.2 597.2 228.2 447.1 199.4 449.2 215.1 468.9 209.9 415.6 221.7 552.0 204.6 517.9 164.0 454.4 169.3 497.7 213.8 467.6 208.6 512.1 233.5 517.3 215.1 455.9 211.2 503.0 196.8 484.6 195.5 499.1 179.8 446.0 186.3 451.6 223.0 539.8 211.2 540.6 205.9 464.1 220.4 454.4 194.2 431.5 185.0 530.9 195.5 542.8 217.7 491.6 219.0 472.6 224.3 430.6 236.1 466.0 226.9 502.8 226.9 561.3 183.7 578.0 217.7 502.0 199.4 494.7 185.0 488.8 224.3 419.4 169.3 471.5 178.4 489.6 221.7 444.7 221.7 476.3 198.1 465.4 207.3 410.5 230.8 609.0 217.7 500.1 225.6 507.7 168.0 495.9 220.4 563.5 225.6 513.2 204.6 476.6 203.3 457.9 203.3 445.4 200.7 514.9 211.2 562.4 213.8 549.7 192.8 424.2 216.4 577.1 225.6 521.7 212.5 458.9 223.0 475.2 213.8 519.0 204.6 529.1 204.6 443.6 140.4 448.2 209.9 527.6 205.9 449.9 195.5 473.7 191.5 477.6 166.6 547.2 221.7 497.0 232.1 499.2 154.9 464.0 211.2 510.2 223.0 525.2 200.7 485.3 194.2 496.9 215.1 482.8 190.2 447.8 215.1 579.2 228.2 534.8 192.8 550.8 200.7 510.3 204.6 459.6 220.4 408.3 229.5 574.1 212.5 592.1 221.7 449.5 195.5 511.5 204.6 442.0 221.7 483.7 216.4 493.5 226.9 502.2 179.8 465.2 196.8 429.2 209.9 550.2 226.9 582.5 202.0 526.0 226.9 493.8 208.6 451.1 178.4 537.5 213.8 497.9 223.0 513.0 223.0 426.6 228.2 491.1 211.2 528.6 204.6 529.7 217.7 433.7 207.3 449.4 203.3 499.0 204.6 533.5 212.5 509.5 196.8 619.5 232.1 497.9 183.7 604.6 215.1 448.8 223.0 527.6 212.5 440.3 216.4 445.4 209.9 566.5 226.9 557.1 220.4 420.4 224.3 446.2 203.3 442.1 194.2 426.7 219.0 568.7 173.2 513.5 217.7 464.6 186.3 511.3 219.0 585.5 236.1 537.6 229.5 539.9 230.8 419.5 170.6 517.0 208.6 472.6 188.9 429.7 202.0 531.5 238.7 456.7 200.7 459.7 192.8 478.0 209.9 433.8 191.5 568.2 225.6 412.3 204.6 527.6 161.4 528.9 170.6 526.7 213.8 522.7 187.6 495.7 203.3 466.7 215.1 558.2 219.0 496.8 226.9 448.2 169.3 488.2 220.4 488.2 141.8 431.9 212.5 511.4 216.4 569.1 200.7 529.6 198.1 524.5 229.5 431.0 204.6 532.2 213.8 553.1 224.3 520.4 208.6 496.9 156.2 522.6 198.1 448.4 190.2 434.2 204.6 429.1 224.3 423.8 230.8 554.0 232.1 555.4 186.3 484.8 190.2 469.0 209.9 463.1 220.4 442.0 183.7 518.7 208.6 471.3 205.9 423.7 131.3 463.0 215.1 534.4 234.8 457.4 147.0 538.2 200.7 459.3 223.0 500.5 209.9 491.5 223.0 465.4 202.0 554.3 191.5 557.9 202.0 506.0 215.1 434.4 234.8 482.6 211.2 401.4 228.2 502.6 202.0 469.1 158.8 567.1 217.7 467.0 192.8 414.5 220.4 541.1 199.4 562.6 216.4 497.6 164.0 525.8 226.9 567.9 216.4 510.8 205.9 450.9 182.4 513.8 199.4 557.9 216.4 424.1 216.4 503.7 205.9 527.7 171.9 425.2 199.4 507.6 220.4 431.2 186.3 424.2 217.7 551.8 223.0 550.1 212.5 419.6 199.4 490.0 187.6 409.8 232.1 487.0 216.4 447.9 225.6 468.2 221.7 486.1 157.5 553.3 207.3 475.5 223.0 554.2 194.2 472.9 232.1 462.3 237.4 514.5 188.9 404.1 226.9 433.8 195.5 427.5 207.3 515.8 230.8 514.1 220.4 444.7 186.3 474.7 237.4 481.1 213.8 450.5 195.5 482.4 228.2 540.0 220.4 450.2 202.0 507.7 178.4 573.4 221.7 549.4 203.3 466.0 207.3 493.2 199.4 431.9 205.9 550.3 211.2 485.8 200.7 611.6 230.8 566.1 165.3 455.8 233.5 546.0 212.5 514.7 224.3 467.5 203.3 452.4 223.0 397.4 229.5 402.9 236.1 521.4 225.6 484.9 225.6 473.3 204.6 447.8 212.5 552.1 234.8 450.7 207.3 503.1 205.9 445.9 204.6 467.6 199.4 538.4 199.4 556.8 200.7 446.8 190.2 442.6 190.2 522.0 238.7 550.9 217.7 432.3 198.1 527.6 213.8 419.4 196.8 435.4 179.8 588.7 200.7 422.9 223.0 480.6 187.6 464.0 178.4 510.4 212.5 501.1 220.4 516.5 153.5 507.4 225.6 449.3 183.7 482.2 217.7 435.9 165.3 431.4 185.0 425.5 188.9 598.6 216.4 536.1 198.1 441.1 212.5 492.3 178.4 397.9 232.1 522.1 221.7 460.3 212.5 556.4 234.8 520.9 213.8 564.6 225.6 560.1 211.2 502.5 198.1 430.9 221.7 486.3 175.8 432.2 211.2 426.0 225.6 532.3 223.0 599.7 203.3 606.6 194.2 553.3 221.7 521.8 216.4 557.2 237.4 547.4 212.5 547.7 215.1 530.3 223.0 506.6 198.1 478.1 223.0 443.2 221.7 516.2 208.6 488.7 212.5 601.5 229.5 561.8 213.8 600.4 230.8 437.7 199.4 543.5 219.0 422.7 224.3 428.5 232.1 438.5 149.6 526.0 213.8 528.5 230.8 485.3 185.0 458.6 208.6 434.4 195.5 426.2 203.3 475.8 219.0 438.7 202.0 449.0 204.6 446.3 224.3 539.0 234.8 419.0 215.1 430.2 236.1 443.5 200.7 493.3 208.6 446.3 199.4 550.2 219.0 474.3 188.9 533.2 190.2 462.0 209.9 433.2 199.4 454.6 202.0 435.3 196.8 533.3 204.6 607.4 224.3 425.1 208.6 466.0 224.3 458.1 191.5 430.9 221.7 452.2 202.0 554.9 223.0 559.3 215.1 489.4 162.7 497.5 221.7 596.4 237.4 517.5 198.1 476.6 223.0 528.3 224.3 483.1 224.3 503.0 191.5 593.1 219.0 458.5 183.7 508.6 224.3 565.6 209.9 523.7 215.1 589.8 230.8 480.7 195.5 437.4 192.8 449.1 196.8 521.6 209.9 490.3 200.7 571.4 228.2 462.4 165.3 498.4 194.2 482.5 212.5 426.6 215.1 526.2 216.4 537.5 183.7 528.3 212.5 514.5 177.1 538.1 204.6 497.2 220.4 502.8 217.7 435.8 183.7 405.9 226.9 523.1 217.7 462.7 211.2 425.1 202.0 469.4 204.6 519.7 148.3 561.1 228.2 536.7 168.0 546.0 183.7 460.5 202.0 446.8 216.4 405.0 225.6 575.1 212.5 602.2 228.2 470.8 162.7 469.4 205.9 524.1 219.0 554.4 195.5 408.5 228.2 503.7 190.2 554.2 216.4 486.1 234.8 557.5 209.9 501.4 209.9 481.0 226.9 513.0 195.5 554.2 216.4 497.3 204.6 479.0 199.4 444.0 209.9 526.6 226.9 478.9 192.8 463.9 195.5 449.5 215.1 448.9 207.3 469.6 204.6 534.0 213.8 544.3 164.0 438.8 200.7 542.0 225.6 523.7 232.1 462.9 207.3 462.6 194.2 572.8 224.3 501.4 208.6 557.0 191.5 491.8 220.4 419.6 195.5 479.9 191.5 484.0 216.4 488.5 209.9 555.7 200.7 490.2 161.4 442.6 208.6 558.1 212.5 438.2 221.7 433.1 169.3 463.7 213.8 426.2 207.3 483.3 194.2 462.3 207.3 561.4 171.9 518.7 190.2 487.4 195.5 555.4 225.6 493.6 208.6 558.5 186.3 511.7 220.4 496.4 199.4 533.8 209.9 495.5 186.3 431.5 234.8 464.2 141.8 441.1 208.6 461.4 221.7 575.0 224.3 457.6 215.1 443.1 233.5 499.5 223.0 468.3 192.8 585.0 219.0 541.8 209.9 562.6 205.9 455.2 211.2 449.6 219.0 475.0 215.1 525.8 213.8 441.3 173.2 532.3 223.0 496.3 200.7 498.9 203.3 539.1 219.0 456.9 158.8 537.5 173.2 427.9 179.8 568.3 195.5 559.0 221.7 546.5 178.4 455.6 209.9 499.5 223.0 572.1 228.2 522.5 215.1 599.8 224.3 431.4 212.5 432.8 175.8 407.3 230.8 515.9 217.7 549.6 208.6 453.4 158.8 550.0 200.7 479.9 207.3 503.6 219.0 444.2 186.3 412.6 224.3 500.2 233.5 462.9 226.9 607.8 228.2 545.5 211.2 602.8 220.4 452.7 221.7 540.8 208.6 600.7 217.7 446.8 213.8 469.3 216.4 511.7 215.1 549.5 204.6 420.2 223.0 481.4 215.1 439.6 203.3 480.6 205.9 426.0 188.9 563.7 216.4 444.4 209.9 575.7 226.9 535.7 217.7 574.6 228.2 445.9 186.3 449.0 217.7 493.3 191.5 453.5 196.8 529.5 194.2 422.3 194.2 435.6 238.7 567.5 221.7 452.6 181.1 556.8 234.8 548.0 230.8 538.0 211.2 570.0 205.9 504.6 220.4 410.4 223.0 462.0 209.9 476.8 207.3 461.7 200.7 493.2 221.7 554.9 181.1 492.7 209.9 560.0 226.9 411.1 228.2 411.6 216.4 486.6 216.4 496.9 230.8 450.8 223.0 464.2 205.9 564.7 202.0 561.9 199.4 437.1 149.6 576.9 215.1 506.7 215.1 506.1 195.5 426.7 220.4 430.8 216.4 427.0 216.4 461.4 202.0 482.1 209.9 486.4 216.4 618.0 211.2 551.7 224.3 425.4 202.0 483.2 187.6 538.3 223.0 522.6 185.0 447.7 179.8 492.1 199.4 459.0 216.4 498.9 202.0 565.2 233.5 461.3 215.1 426.1 207.3 458.8 192.8 484.8 219.0 564.0 178.4 529.4 212.5 426.1 237.4 584.6 230.8 523.9 186.3 502.4 224.3 502.2 233.5 441.3 215.1 512.0 205.9 427.5 224.3 574.3 213.8 427.5 208.6 489.2 220.4 448.4 221.7 540.0 208.6 545.1 213.8 504.5 191.5 452.5 183.7 562.7 228.2 552.1 179.8 411.1 215.1 425.1 175.8 513.8 186.3 549.5 204.6 520.4 183.7 454.5 198.1 486.2 203.3 536.3 224.3 425.3 191.5 453.1 202.0 474.8 225.6 561.5 228.2 451.5 153.5 504.9 232.1 445.1 191.5 447.5 202.0 439.4 219.0 507.7 221.7 564.4 182.4 572.7 213.8 467.5 183.7 568.0 207.3 466.1 208.6 524.5 224.3 453.6 147.0 450.0 215.1 429.2 192.8 470.7 216.4 459.9 194.2 581.6 237.4 570.2 212.5 470.7 216.4 480.7 182.4 547.3 216.4 446.9 143.1 456.2 168.0 439.9 224.3 587.4 233.5 439.6 208.6 432.2 192.8 422.2 232.1 564.4 195.5 571.9 194.2 603.4 238.7 497.4 224.3 563.8 226.9 437.0 198.1 492.9 221.7 423.2 188.9 444.1 230.8 420.6 209.9 453.7 208.6 439.2 179.8 578.8 233.5 542.0 212.5 441.5 209.9 482.8 217.7 458.1 212.5 430.5 211.2 456.5 220.4 478.9 195.5 545.3 209.9 533.4 188.9 482.9 170.6 415.0 236.1 604.6 237.4 529.7 202.0 546.3 208.6 535.3 221.7 498.2 236.1 532.4 181.1 540.7 209.9 528.9 220.4 551.4 217.7 542.7 225.6 402.1 230.8 513.1 212.5 421.6 230.8 465.6 186.3 557.0 225.6 523.0 209.9 445.8 223.0 518.8 199.4 494.6 217.7 509.1 221.7 464.7 177.1 439.5 185.0 431.6 166.6 425.4 208.6 611.0 229.5 473.6 186.3 475.0 223.0 518.8 187.6 443.3 192.8 512.3 207.3 459.9 223.0 471.3 186.3 540.8 186.3 514.4 202.0 440.5 234.8 417.8 226.9 587.7 224.3 459.7 156.2 550.6 223.0 418.0 234.8 523.0 215.1 517.2 212.5 479.5 213.8 561.2 213.8 496.1 216.4 560.7 223.0 457.5 225.6 438.7 156.2 621.6 228.2 534.2 203.3 416.9 230.8 475.1 215.1 603.0 211.2 432.8 215.1 471.0 207.3 526.1 181.1 549.4 205.9 544.2 219.0 532.2 208.6 563.6 187.6 441.5 223.0 450.8 224.3 424.5 195.5 464.5 202.0 445.2 207.3 538.5 203.3 472.1 223.0 397.9 233.5 576.9 215.1 537.6 182.4 442.8 200.7 403.1 226.9 544.8 183.7 423.9 233.5 414.4 229.5 566.0 204.6 531.8 200.7 494.4 238.7 424.1 200.7 491.9 221.7 459.4 213.8 497.1 215.1 400.4 228.2 512.8 165.3 520.5 211.2 511.0 209.9 514.6 170.6 511.1 205.9 549.4 221.7 553.6 191.5 460.7 217.7 577.5 236.1 521.1 216.4 398.2 232.1 484.9 194.2 512.3 217.7 542.6 207.3 459.5 213.8 476.2 208.6 435.4 221.7 449.1 220.4 546.1 213.8 467.0 183.7 538.8 220.4 569.5 228.2 637.1 234.8 574.4 209.9 414.6 225.6 534.2 213.8 567.9 228.2 542.4 211.2 527.5 215.1 479.6 225.6 479.2 203.3 458.0 209.9 534.3 215.1 411.3 230.8 418.7 211.2 494.4 228.2 456.1 215.1 474.6 215.1 517.9 232.1 457.1 205.9 492.3 195.5 495.9 230.8 425.1 191.5 596.4 229.5 547.2 164.0 429.5 194.2 472.5 233.5 535.4 207.3 518.6 225.6 422.0 207.3 428.1 233.5 500.0 196.8 407.0 223.0 516.4 211.2 548.9 224.3 560.2 229.5 539.5 211.2 419.6 203.3 447.9 230.8 475.9 207.3 571.1 228.2 540.6 202.0 497.4 220.4 441.1 157.5 508.4 188.9 465.7 205.9 472.0 192.8 577.6 236.1 465.9 211.2 488.2 223.0 473.3 216.4 445.6 209.9 414.2 229.5 455.8 203.3 447.0 169.3 447.5 225.6 442.0 202.0 524.0 223.0 478.0 179.8 474.2 224.3 413.2 212.5 412.4 224.3 601.3 216.4 559.9 223.0 557.3 224.3 490.3 212.5 550.4 208.6 519.4 217.7 436.3 147.0 506.6 198.1 506.1 216.4 456.9 213.8 512.8 209.9 510.4 173.2 438.5 204.6 430.9 215.1 518.0 202.0 538.2 221.7 521.4 196.8 507.2 145.7 518.5 232.1 497.8 223.0 476.3 177.1 431.4 223.0 498.7 179.8 622.1 224.3 530.8 200.7 433.9 179.8 517.9 195.5 443.6 221.7 514.4 198.1 576.0 215.1 569.4 221.7 489.2 174.5 422.6 207.3 466.0 217.7 473.1 238.7 487.9 211.2 466.3 223.0 555.6 219.0 515.6 219.0 599.2 226.9 491.3 202.0 456.9 181.1 530.0 223.0 499.9 191.5 543.6 188.9 438.2 207.3 492.0 221.7 596.2 223.0 429.0 191.5 444.2 185.0 451.9 225.6 511.0 161.4 534.0 198.1 502.4 212.5 463.8 217.7 568.7 224.3 428.4 217.7 463.1 212.5 460.1 236.1 455.5 211.2 436.6 219.0 577.7 219.0 575.5 220.4 512.7 228.2 561.1 182.4 459.7 225.6 557.3 209.9 535.4 213.8 543.3 187.6 527.7 213.8 404.1 230.8 533.6 195.5 476.9 224.3 514.2 224.3 451.7 216.4 561.0 182.4 569.0 224.3 532.0 178.4 565.6 212.5 516.4 220.4 479.7 211.2 563.2 207.3 557.5 224.3 442.1 207.3 505.5 223.0 420.5 207.3 402.4 228.2 432.4 220.4 553.9 215.1 442.1 216.4 423.0 194.2 564.4 208.6 427.6 221.7 492.7 207.3 481.5 213.8 498.3 217.7 429.7 208.6 490.8 233.5 431.5 207.3 473.9 216.4 529.7 207.3 436.3 195.5 397.5 221.7 519.2 212.5 554.4 215.1 437.5 185.0 423.6 223.0 441.3 221.7 429.1 200.7 498.2 221.7 616.8 224.3 504.2 195.5 430.5 211.2 448.9 202.0 542.4 209.9 499.1 153.5 494.6 225.6 541.4 202.0 475.7 203.3 438.5 196.8 434.5 215.1 496.5 217.7 613.8 204.6 518.3 200.7 541.5 216.4 527.9 182.4 527.5 212.5 420.1 213.8 480.8 237.4 530.8 174.5 414.4 220.4 400.7 234.8 509.2 195.5 441.3 174.5 504.9 188.9 400.7 215.1 417.6 229.5 408.0 230.8 510.3 195.5 513.8 204.6 502.9 164.0 561.2 205.9 457.0 213.8 460.6 199.4 548.8 216.4 505.7 209.9 466.8 211.2 471.0 217.7 461.7 221.7 496.2 196.8 464.7 209.9 474.4 203.3 517.7 208.6 505.3 211.2 495.8 224.3 411.4 236.1 504.2 209.9 477.9 220.4 455.0 171.9 542.6 223.0 527.3 203.3 565.3 230.8 425.9 216.4 475.2 238.7 536.1 190.2 440.7 224.3 445.3 174.5 463.7 182.4 417.0 219.0 525.4 213.8 542.7 212.5 437.6 232.1 430.4 223.0 519.5 233.5 565.0 179.8 581.4 237.4 505.9 187.6 502.9 226.9 634.1 230.8 422.4 164.0 476.2 203.3 526.8 191.5 556.8 220.4 528.1 236.1 493.5 208.6 491.1 205.9 563.8 212.5 535.8 217.7 445.8 188.9 567.3 217.7 546.9 223.0 515.2 211.2 545.2 212.5 532.7 224.3 468.7 230.8 528.7 236.1 475.2 202.0 414.7 232.1 475.8 195.5 501.7 200.7 538.7 198.1 499.6 207.3 431.4 199.4 474.6 217.7 541.9 204.6 469.5 237.4 525.5 198.1 464.3 223.0 442.9 216.4 563.0 209.9 428.5 171.9 539.8 226.9 519.0 199.4 420.9 207.3 406.6 216.4 453.1 220.4 525.6 221.7 540.3 234.8 472.7 225.6 558.0 203.3 430.4 185.0 541.0 211.2 528.9 213.8 468.5 217.7 607.2 217.7 470.3 152.2 453.9 195.5 518.2 205.9 502.2 223.0 440.1 192.8 470.0 164.0 546.9 195.5 468.1 194.2 539.0 212.5 508.7 212.5 539.0 191.5 450.0 204.6 557.6 213.8 430.9 202.0 508.5 223.0 578.0 229.5 434.3 224.3 430.4 216.4 445.3 207.3 414.5 221.7 525.1 209.9 498.6 220.4 455.7 225.6 529.5 209.9 496.4 211.2 459.4 195.5 446.5 183.7 462.4 224.3 553.5 213.8 635.4 220.4 472.6 216.4 512.8 192.8 536.8 212.5 454.6 200.7 524.5 194.2 486.1 185.0 565.3 196.8 437.9 190.2 426.9 200.7 419.0 156.2 482.9 220.4 483.2 223.0 443.3 196.8 545.3 220.4 537.2 220.4 525.2 150.9 520.9 217.7 527.1 204.6 541.0 175.8 489.3 194.2 450.8 183.7 435.3 211.2 465.5 199.4 501.3 194.2 585.9 232.1 554.0 183.7 500.4 220.4 423.6 192.8 435.9 211.2 449.6 211.2 433.5 224.3 475.4 211.2 525.6 194.2 412.4 213.8 448.0 199.4 563.9 203.3 493.1 225.6 498.7 198.1 508.0 200.7 521.8 160.1 449.5 213.8 524.3 204.6 427.6 202.0 543.3 173.2 541.6 198.1 465.3 234.8 538.2 225.6 434.5 157.5 555.5 224.3 491.9 212.5 489.8 205.9 442.7 175.8 543.4 198.1 492.5 217.7 458.0 209.9 446.4 154.9 508.3 223.0 419.9 220.4 473.7 213.8 421.9 149.6 557.5 225.6 475.8 195.5 423.7 219.0 496.5 217.7 450.2 179.8 511.0 198.1 546.0 198.1 506.5 209.9 551.0 205.9 511.3 205.9 544.3 205.9 477.5 174.5 526.3 217.7 465.7 194.2 532.7 219.0 556.7 205.9 460.5 211.2 492.3 219.0 483.3 220.4 435.1 212.5 468.5 199.4 470.8 202.0 553.5 215.1 527.6 202.0 434.0 213.8 436.5 198.1 457.5 224.3 511.5 226.9 450.4 236.1 436.4 198.1 520.4 187.6 471.2 187.6 491.1 205.9 545.5 188.9 570.3 220.4 526.9 216.4 529.3 217.7 513.2 212.5 501.7 204.6 431.1 198.1 501.9 217.7 446.3 181.1 444.4 194.2 462.9 230.8 494.9 205.9 561.4 178.4 435.0 225.6 475.0 186.3 443.6 225.6 544.3 211.2 451.3 213.8 488.7 220.4 476.8 196.8 510.7 188.9 428.1 224.3 519.1 165.3 529.1 224.3 456.9 205.9 597.3 230.8 526.0 194.2 440.1 223.0 466.0 195.5 431.5 199.4 476.2 220.4 412.0 224.3 528.0 152.2 597.0 208.6 567.3 223.0 441.9 195.5 491.2 169.3 512.0 194.2 495.6 211.2 503.2 205.9 424.5 198.1 494.4 228.2 508.3 207.3 500.6 202.0 599.1 225.6 506.7 158.8 500.2 213.8 514.0 205.9 423.0 223.0 508.5 238.7 509.4 221.7 542.3 216.4 479.3 220.4 536.1 183.7 480.0 203.3 432.1 209.9 470.8 199.4 578.2 226.9 498.9 205.9 519.1 199.4 416.0 190.2 554.5 194.2 505.9 205.9 466.1 225.6 553.6 220.4 527.6 196.8 399.5 225.6 471.9 234.8 510.8 226.9 445.2 212.5 529.8 173.2 430.6 177.1 531.4 232.1 546.9 209.9 485.3 188.9 433.7 204.6 505.7 192.8 522.3 165.3 490.1 219.0 539.5 162.7 607.6 221.7 496.3 219.0 542.8 217.7 601.3 195.5 572.6 181.1 427.4 148.3 524.0 225.6 506.9 198.1 448.5 191.5 529.7 225.6 460.0 192.8 417.3 192.8 540.1 230.8 523.6 225.6 425.2 220.4 459.1 209.9 461.1 198.1 476.7 195.5 415.3 234.8 442.0 221.7 602.5 203.3 533.5 212.5 547.2 208.6 569.7 230.8 484.4 196.8 476.1 202.0 519.8 219.0 435.8 224.3 488.7 208.6 557.4 191.5 484.2 223.0 417.9 203.3 440.7 205.9 533.0 216.4 606.6 213.8 466.3 204.6 516.6 211.2 632.9 238.7 533.8 219.0 406.9 226.9 426.0 205.9 517.8 203.3 500.0 220.4 508.3 216.4 418.4 211.2 481.6 185.0 501.6 229.5 457.0 187.6 489.3 216.4 493.8 224.3 481.0 209.9 443.1 223.0 569.4 212.5 565.0 194.2 483.3 237.4 469.9 207.3 530.6 228.2 527.7 212.5 550.2 221.7 436.8 208.6 469.0 171.9 550.3 204.6 486.6 204.6 468.0 204.6 522.2 152.2 528.5 233.5 445.9 190.2 440.4 161.4 430.5 203.3 427.7 191.5 437.5 153.5 495.1 202.0 436.6 190.2 425.7 194.2 570.2 234.8 460.4 212.5 464.7 208.6 419.8 211.2 489.9 205.9 512.1 216.4 534.7 207.3 555.2 232.1 544.5 219.0 417.7 221.7 433.3 190.2 480.9 174.5 522.6 202.0 590.9 232.1 571.9 223.0 568.2 207.3 542.7 224.3 503.2 187.6 429.9 135.2 553.2 213.8 421.9 199.4 518.2 220.4 537.1 221.7 499.8 223.0 502.2 207.3 540.3 224.3 450.3 226.9 557.9 225.6 532.8 208.6 520.6 215.1 573.4 215.1 533.0 213.8 548.6 212.5 469.3 199.4 447.0 199.4 419.1 153.5 553.8 208.6 557.7 228.2 494.2 224.3 566.4 199.4 465.2 209.9 577.5 230.8 486.0 209.9 492.5 202.0 426.2 221.7 428.1 198.1 550.1 226.9 447.1 205.9 421.1 217.7 436.6 194.2 571.3 223.0 529.5 224.3 458.2 194.2 480.6 183.7 474.6 195.5 544.7 204.6 572.3 223.0 440.6 234.8 430.8 213.8 458.5 212.5 560.8 229.5 456.5 220.4 471.9 212.5 524.0 219.0 561.8 223.0 444.6 204.6 453.9 202.0 525.4 215.1 567.5 221.7 513.9 192.8 471.6 202.0 551.6 219.0 541.6 181.1 443.7 173.2 483.1 217.7 428.4 200.7 502.4 225.6 497.5 199.4 511.1 236.1 571.7 236.1 469.1 203.3 544.1 233.5 436.5 153.5 427.5 237.4 568.5 207.3 410.5 228.2 516.4 217.7 607.1 198.1 480.5 202.0 442.6 203.3 422.0 221.7 444.1 211.2 468.5 187.6 515.6 196.8 491.2 188.9 402.6 208.6 452.9 219.0 546.9 191.5 539.6 237.4 491.3 221.7 441.8 194.2 400.4 223.0 446.6 209.9 501.0 186.3 479.3 223.0 427.2 187.6 513.5 191.5 529.4 200.7 503.7 209.9 531.6 216.4 452.8 233.5 510.8 237.4 556.6 216.4 429.2 207.3 547.8 212.5 411.9 233.5 419.1 187.6 498.7 205.9 503.4 232.1 477.0 237.4 538.8 221.7 471.9 212.5 460.4 199.4 454.4 195.5 420.2 187.6 505.0 195.5 529.2 204.6 505.3 191.5 481.5 211.2 533.7 208.6 469.8 158.8 601.2 225.6 478.2 202.0 436.0 186.3 561.7 228.2 534.2 183.7 506.9 225.6 434.4 211.2 553.0 236.1 466.3 208.6 455.8 224.3 536.9 200.7 566.2 228.2 562.1 232.1 462.2 212.5 600.2 204.6 554.1 234.8 449.7 208.6 577.8 215.1 449.9 198.1 546.2 224.3 492.2 215.1 459.3 182.4 479.9 171.9 399.4 230.8 566.3 207.3 442.0 208.6 453.5 224.3 524.4 225.6 519.1 186.3 560.6 173.2 514.5 211.2 544.8 204.6 496.2 207.3 435.3 205.9 546.2 194.2 449.0 219.0 537.5 228.2 481.5 165.3 429.7 209.9 509.1 169.3 473.6 195.5 433.9 59.4 442.2 75.9 435.4 83.5 432.9 87.5 423.6 95.9 434.1 100.1 434.8 103.8 435.4 106.8 441.7 110.3 435.8 114.6 431.4 120.8 433.2 126.7 424.5 130.9 442.7 133.1 435.0 137.0 442.3 138.5 453.0 134.6 463.0 132.7 472.7 117.1 472.7 129.4 472.6 133.4 448.1 141.2 428.1 143.1 467.8 143.1 478.6 132.6 422.5 131.3 495.9 106.8 493.1 112.2 523.1 111.4 515.8 123.9 518.1 127.6 534.8 123.9 538.5 122.2 543.9 125.8 483.2 129.4 479.5 132.2 486.8 132.2 527.6 132.2 531.2 133.1 534.8 131.3 479.5 137.6 494.0 138.2 498.6 137.0 503.0 137.0 508.6 139.4 529.2 138.5 539.2 137.6 487.6 140.3 505.8 141.2 546.3 125.0 527.7 131.5 545.0 143.1 562.0 145.0 601.4 147.0 520.1 141.8 537.2 141.1 514.1 143.1 597.4 169.4 602.4 174.6 599.0 183.9 600.0 192.1 599.6 192.7 603.1 199.0 598.6 198.2 611.2 209.0 610.3 214.5 612.1 220.0 614.0 222.6 608.5 217.2 634.8 214.5 637.5 223.5 638.3 226.9 576.8 200.1" fill="none" stroke="none" marker-start="url(#mt)" marker-mid="url(#mt)" marker-end="url(#mt)"/>
<path d="M477.9 216.4L448.9 232.1 572.2 232.1 530.5 213.8 587.2 232.1 558.8 221.7 444.1 219.0 571.2 238.7 632.9 229.5 609.7 237.4 596.5 229.5 532.5 213.8 550.7 233.5 532.8 219.0 507.2 213.8 420.5 238.7 566.6 224.3 493.8 217.7 500.3 228.2 449.0 217.7 478.2 224.3 475.2 220.4 428.3 223.0 583.6 225.6 635.4 229.5 612.8 234.8 591.1 232.1 586.0 230.8 515.8 212.5 501.9 221.7 471.7 221.7 554.4 228.2 428.4 226.9 584.1 229.5 570.8 226.9 516.1 219.0 547.4 223.0 530.2 232.1 601.7 234.8 486.6 212.5 620.9 237.4 438.1 225.6 567.6 225.6 535.3 230.8 630.6 230.8 477.2 219.0 589.6 213.8 609.6 225.6 624.5 226.9 624.7 228.2 445.3 217.7 535.3 223.0 576.5 224.3 449.5 238.7 457.6 228.2 545.7 217.7 486.1 228.2 630.1 234.8 513.4 220.4 566.4 208.6 475.3 191.5 579.9 225.6 631.4 230.8 605.6 233.5 591.5 229.5 457.0 220.4 595.4 225.6 438.5 220.4 413.8 232.1 549.6 219.0 500.7 228.2 518.3 215.1 542.5 216.4 513.3 209.9 441.8 219.0 456.2 232.1 438.3 237.4 515.0 237.4 488.9 224.3 550.3 225.6 548.8 220.4 582.6 228.2 501.5 225.6 618.0 226.9 402.1 229.5 603.4 230.8 443.0 215.1 485.7 215.1 485.4 216.4 422.8 232.1 545.0 224.3 457.8 212.5 512.2 232.1 491.2 209.9 477.5 215.1 477.4 226.9 502.3 236.1 528.5 229.5 479.6 228.2 503.5 221.7 543.1 224.3 469.8 232.1 442.2 228.2 590.6 228.2 453.1 232.1 519.3 217.7 445.3 221.7 492.0 198.1 509.0 212.5 533.1 229.5 482.5 216.4 407.4 232.1 532.2 217.7 578.2 226.9 556.3 213.8 448.5 226.9 583.5 233.5 557.2 229.5 481.3 226.9 439.9 228.2 519.5 199.4 557.3 219.0 430.9 229.5 404.5 233.5 605.7 233.5 566.3 229.5 504.0 228.2 547.2 223.0 460.1 224.3 607.3 236.1 416.9 213.8 424.2 219.0 576.0 217.7 580.3 237.4 527.6 212.5 494.2 226.9 437.4 219.0 532.8 238.7 535.0 216.4 443.1 230.8 494.1 223.0 463.2 217.7 517.7 230.8 608.5 236.1 497.8 216.4 573.2 229.5 451.3 204.6 514.8 228.2 576.8 224.3 489.3 215.1 410.2 233.5 574.3 215.1 576.7 229.5 438.4 219.0 585.6 237.4 510.4 236.1 489.5 232.1 402.5 230.8 473.1 211.2 573.4 213.8 512.0 211.2 636.2 228.2 439.7 213.8 535.8 221.7 570.0 225.6 472.8 212.5 617.7 230.8 545.7 217.7 428.1 225.6 486.8 225.6 528.5 229.5 462.7 187.6 467.2 216.4 593.0 220.4 586.9 236.1 472.3 226.9 541.0 229.5 417.2 216.4 488.2 224.3 608.0 229.5 478.7 225.6 497.9 224.3 479.9 212.5 503.2 217.7 438.6 233.5 484.7 232.1 444.5 219.0 595.1 208.6 615.8 228.2 464.3 217.7 532.6 209.9 510.7 213.8 526.3 233.5 635.1 229.5 558.0 229.5 603.1 234.8 554.1 205.9 445.6 229.5 613.2 232.1 523.8 213.8 624.8 233.5 524.2 233.5 601.0 237.4 545.9 234.8 429.3 220.4 475.2 234.8 460.0 217.7 473.9 223.0 588.6 215.1 611.6 237.4 482.7 174.5 535.7 230.8 451.5 221.7 591.2 226.9 437.4 224.3 609.5 232.1 491.2 226.9 495.0 207.3 454.7 232.1 528.0 228.2 490.0 223.0 477.4 219.0 436.8 229.5 499.1 225.6 546.0 216.4 613.7 236.1 539.1 233.5 444.7 224.3 430.9 226.9 503.5 220.4 409.0 237.4 522.4 215.1 508.0 211.2 441.7 225.6 495.5 228.2 546.1 182.4 482.7 221.7 629.1 229.5 510.5 230.8 537.8 236.1 449.4 232.1 544.7 228.2 603.4 237.4 553.5 220.4 502.9 224.3 636.8 232.1 497.0 230.8 400.7 230.8 587.2 229.5 499.4 234.8 437.1 236.1 620.2 228.2 566.1 236.1 592.4 215.1 442.7 230.8 557.8 221.7 586.0 234.8 569.3 212.5 498.3 204.6 610.8 236.1 421.5 232.1 523.5 179.8 561.7 212.5 496.3 213.8 626.5 238.7 476.4 225.6 460.9 226.9 456.2 232.1 619.9 217.7 544.6 219.0 493.0 216.4 534.6 228.2 573.4 225.6 575.0 223.0 513.5 230.8 509.4 228.2 574.9 219.0 520.1 221.7 471.2 217.7 541.0 232.1 628.0 230.8 559.0 228.2 609.3 236.1 618.6 212.5 521.9 198.1 501.0 207.3 606.7 237.4 458.2 216.4 434.8 223.0 463.4 238.7 626.2 233.5 463.9 212.5 461.3 221.7 579.8 229.5 638.0 233.5 447.1 224.3 436.9 233.5 522.2 211.2 421.9 217.7 601.0 234.8 636.0 229.5 524.1 212.5 554.3 237.4 413.7 226.9 625.1 234.8 582.1 217.7 546.9 228.2 477.2 216.4 632.8 233.5 457.4 220.4 510.1 233.5 555.1 224.3 460.2 192.8 635.9 236.1 558.8 230.8 478.2 204.6 417.9 233.5 622.2 232.1 413.6 220.4 410.8 238.7 545.0 226.9 430.4 229.5 547.3 216.4 530.7 209.9 522.4 223.0 523.5 224.3 480.0 212.5 628.4 228.2 542.0 229.5 519.3 212.5 543.8 209.9 570.4 226.9 540.5 205.9 550.1 226.9 464.2 219.0 410.5 234.8 633.0 236.1 465.2 223.0 447.7 219.0 578.5 229.5 627.0 216.4 634.3 233.5 485.5 234.8 531.5 230.8 505.5 216.4 493.6 221.7 541.5 203.3 552.9 221.7 624.5 237.4 499.1 221.7 428.6 234.8 443.1 207.3 486.5 226.9 551.9 221.7 462.2 198.1 478.3 219.0 615.6 229.5 413.2 228.2 602.4 232.1 422.0 228.2 632.9 230.8 537.7 228.2 542.1 230.8 488.2 215.1 493.0 217.7 591.9 234.8 593.9 228.2 623.3 219.0 435.1 233.5 527.5 204.6 599.8 234.8 606.4 232.1 576.7 219.0 580.7 238.7 405.7 234.8 425.1 219.0 539.2 209.9 470.0 204.6 414.1 232.1 504.2 232.1 460.9 232.1 444.1 226.9 550.1 238.7 549.1 226.9 484.6 209.9 621.9 217.7 444.5 205.9 610.3 236.1 636.5 233.5 529.5 195.5 446.5 213.8 624.8 226.9 580.2 237.4 638.7 233.5 483.6 228.2 617.5 225.6 633.7 228.2 500.0 225.6 468.8 225.6 622.8 224.3 439.8 215.1 532.2 221.7 585.2 237.4 529.3 229.5 504.5 220.4 463.6 230.8 618.1 233.5 623.4 221.7 514.5 223.0 569.2 233.5 562.0 236.1 554.5 219.0 606.5 229.5 614.1 234.8 528.9 229.5 508.0 236.1 508.2 215.1 595.0 225.6 434.3 223.0 563.7 219.0 459.4 225.6 452.9 221.7 454.2 233.5 618.2 224.3 609.6 229.5 604.3 230.8 523.3 207.3 575.2 220.4 502.4 223.0 625.4 226.9 436.8 236.1 498.1 209.9 487.1 225.6 524.7 229.5 595.4 224.3 602.5 236.1 519.8 216.4 509.4 232.1 502.3 236.1 432.2 232.1 567.0 237.4 525.2 198.1 608.0 237.4 610.6 236.1 598.7 237.4 587.1 221.7 621.1 233.5 584.2 229.5 538.2 221.7 427.7 233.5 604.8 233.5 589.5 221.7 508.2 228.2 564.8 221.7 413.1 228.2 467.2 236.1 595.7 208.6 587.3 232.1 551.7 221.7 527.3 220.4 420.1 229.5 449.9 216.4 622.3 219.0 438.5 216.4 542.5 226.9 611.4 237.4 602.6 234.8 580.5 228.2 417.6 236.1 584.2 233.5 628.4 237.4 459.2 234.8 459.9 221.7 607.3 229.5 451.4 229.5 491.8 212.5 430.5 228.2 435.4 233.5 581.9 215.1 573.1 223.0 465.7 216.4 512.1 236.1 499.1 208.6 509.7 230.8 473.8 225.6 595.5 230.8 456.5 212.5 476.4 211.2 577.3 215.1 610.1 234.8 528.6 226.9 495.9 209.9 575.3 219.0 612.5 234.8 522.8 229.5 551.2 224.3 510.2 217.7 554.7 192.8 605.5 232.1 456.9 203.3 534.5 219.0 426.4 225.6 573.4 211.2 555.3 234.8 561.3 233.5 450.1 212.5 605.0 230.8 553.9 225.6 548.3 213.8 508.2 220.4 622.3 219.0 509.0 221.7 508.4 225.6 593.9 237.4 461.9 228.2 435.1 233.5 472.0 220.4 614.4 232.1 488.4 224.3 562.5 223.0 523.1 216.4 498.6 215.1 512.3 229.5 563.9 237.4 435.3 223.0 574.0 219.0 525.1 219.0 631.8 234.8 473.1 221.7 483.8 211.2 493.2 183.7 421.9 229.5 569.7 232.1 440.7 234.8 599.2 225.6 540.6 223.0 466.0 226.9 480.2 236.1 589.6 234.8 580.3 226.9 397.4 233.5 459.2 232.1 614.8 237.4 456.6 220.4 453.8 232.1 537.5 221.7 630.5 232.1 538.8 226.9 527.2 216.4 508.1 229.5 553.4 219.0 457.0 224.3 510.9 230.8 621.3 215.1 472.4 211.2 628.9 236.1 512.0 221.7 595.3 229.5 569.2 216.4 462.8 230.8 613.5 238.7 594.2 233.5 475.9 221.7 508.4 232.1 588.0 237.4 525.0 238.7 486.0 226.9 497.3 229.5 512.2 237.4 565.5 217.7 447.1 217.7 550.0 217.7 572.2 175.8 632.8 230.8 530.1 215.1 630.6 230.8 576.5 229.5 500.8 223.0 515.7 236.1 519.2 217.7 581.1 217.7 569.5 217.7 472.8 211.2 449.6 230.8 473.7 212.5 593.4 225.6 525.5 213.8 570.7 232.1 501.8 221.7 427.9 234.8 473.2 234.8 508.8 216.4 477.5 219.0 607.7 238.7 631.5 217.7 584.4 226.9 537.3 225.6 530.8 217.7 572.4 212.5 574.3 216.4 505.1 230.8 457.0 232.1 609.3 230.8 404.1 236.1 466.2 205.9 424.7 233.5 607.7 230.8 485.9 217.7 444.1 237.4 584.1 232.1 481.9 233.5 432.4 225.6 420.1 220.4 551.2 217.7 487.0 230.8 457.7 236.1 492.6 224.3 497.5 232.1 561.9 230.8 427.3 202.0 444.4 221.7 444.3 236.1 546.9 207.3 615.5 236.1 592.8 232.1 584.9 229.5 624.5 233.5 608.4 236.1 543.3 221.7 551.7 211.2 478.5 225.6 591.7 219.0 585.8 232.1 405.8 236.1 607.6 232.1 602.9 234.8 571.4 209.9 595.9 230.8 446.8 230.8 512.3 237.4 467.6 223.0 578.1 232.1 485.0 226.9 458.8 220.4 611.5 232.1 498.0 225.6 593.1 228.2 529.5 202.0 607.8 233.5 596.7 224.3 626.9 228.2 613.5 230.8 485.1 225.6 501.2 233.5 592.9 219.0 419.9 234.8 492.8 232.1 408.5 234.8 514.4 204.6 415.8 229.5 459.9 224.3 455.1 234.8 621.5 199.4 515.6 190.2 445.6 219.0 611.0 236.1 559.3 220.4 447.1 207.3 615.0 237.4 520.4 225.6 485.6 215.1 437.7 225.6 453.0 219.0 523.9 226.9 546.4 224.3 493.2 220.4 465.1 219.0 440.5 229.5 545.9 219.0 469.2 215.1 455.0 221.7 605.1 237.4 587.8 230.8 543.2 205.9 514.6 217.7 482.2 192.8 505.8 216.4 427.1 226.9 550.6 230.8 618.6 220.4 482.4 219.0 469.9 223.0 460.3 232.1 433.7 233.5 551.8 224.3 546.0 219.0 406.1 233.5 598.8 228.2 598.9 232.1 476.4 223.0 596.8 208.6 613.9 226.9 609.4 232.1 501.3 175.8 493.1 203.3 459.9 226.9 583.9 234.8 589.3 230.8 441.8 211.2 484.6 220.4 443.4 224.3 595.7 225.6 627.2 219.0 551.5 234.8 511.9 205.9 491.6 225.6 516.5 225.6 529.8 232.1 464.8 220.4 435.0 226.9 620.5 225.6 475.8 217.7 434.5 228.2 602.5 234.8 582.7 225.6 506.4 211.2 573.6 234.8 533.3 224.3 468.5 215.1 594.2 229.5 435.8 226.9 547.9 196.8 436.3 224.3 598.1 226.9 434.5 229.5 480.8 224.3 608.7 232.1 473.5 230.8 418.2 226.9 479.8 208.6 560.1 237.4 472.4 232.1 429.1 230.8 400.6 234.8 568.1 211.2 532.7 228.2 530.2 213.8 536.2 228.2 517.8 237.4 563.2 223.0 496.7 232.1 516.5 224.3 502.1 212.5 452.6 212.5 465.3 232.1 478.9 200.7 578.8 233.5 630.2 229.5 512.5 212.5 401.1 236.1 580.0 232.1 397.8 234.8 532.1 225.6 480.7 213.8 582.3 228.2 457.4 216.4 437.4 233.5 447.6 225.6 475.3 221.7 449.8 225.6 622.4 220.4 486.5 226.9 579.6 226.9 515.0 216.4 457.1 209.9 577.3 207.3 598.2 232.1 517.7 226.9 521.4 236.1 491.8 208.6 536.8 224.3 582.1 226.9 465.2 208.6 561.7 225.6 453.8 208.6 502.6 211.2 435.8 220.4 623.0 228.2 615.1 228.2 551.5 221.7 429.3 236.1 564.7 233.5 581.4 220.4 547.9 220.4 488.0 225.6 622.6 228.2 476.0 212.5 429.4 238.7 482.0 217.7 446.3 236.1 435.4 216.4 412.8 234.8 426.6 217.7 624.2 237.4 460.9 229.5 444.7 226.9 449.4 230.8 629.1 236.1 600.9 230.8 544.1 228.2 558.6 226.9 513.9 217.7 472.1 236.1 571.6 219.0 462.8 236.1 577.4 213.8 581.1 229.5 479.8 220.4 546.0 226.9 545.1 221.7 553.1 225.6 587.5 232.1 615.1 236.1 499.0 230.8 535.8 215.1 471.2 216.4 476.1 213.8 602.1 232.1 479.0 238.7 452.2 216.4 530.5 221.7 617.0 233.5 434.9 226.9 598.6 234.8 545.8 212.5 601.7 233.5 625.4 226.9 593.0 234.8 438.6 216.4 525.4 220.4 509.8 217.7 610.0 234.8 500.1 221.7 490.9 217.7 570.8 212.5 464.5 212.5 478.8 220.4 464.8 220.4 626.2 221.7 501.7 232.1 481.0 224.3 420.4 233.5 577.0 233.5 452.0 229.5 498.4 220.4 483.0 233.5 616.5 226.9 583.0 232.1 533.8 213.8 535.4 234.8 619.4 229.5 467.1 233.5 633.6 238.7 590.2 234.8 535.5 224.3 536.6 228.2 637.9 229.5 486.6 233.5 507.0 205.9 528.9 226.9 614.9 236.1 552.3 225.6 465.9 232.1 460.5 220.4 631.5 230.8 468.3 221.7 636.9 236.1 609.9 228.2 601.2 225.6 550.2 170.6 501.0 224.3 432.2 233.5 551.6 221.7 454.0 211.2 437.0 212.5 489.3 204.6 504.4 226.9 631.1 232.1 574.3 230.8 545.7 204.6 546.9 225.6 515.6 226.9 506.2 237.4 618.9 219.0 432.6 224.3 610.3 230.8 502.3 230.8 415.2 236.1 567.3 205.9 437.1 236.1 493.3 226.9 549.7 221.7 499.8 216.4 448.9 226.9 525.6 217.7 513.0 233.5 635.9 233.5 473.8 229.5 457.3 220.4 573.7 229.5 604.8 232.1 458.5 219.0 450.9 230.8 490.8 204.6 528.9 221.7 447.0 229.5 563.3 203.3 605.4 236.1 569.7 215.1 635.8 229.5 517.7 219.0 456.9 199.4 634.9 224.3 454.1 223.0 469.8 232.1 508.1 205.9 498.7 238.7 456.9 211.2 453.1 221.7 623.6 237.4 466.1 213.8 559.1 223.0 434.8 229.5 489.3 219.0 602.7 233.5 573.4 223.0 436.4 220.4 568.9 226.9 477.0 228.2 547.5 211.2 430.0 207.3 505.2 233.5 572.5 217.7 445.4 233.5 485.8 238.7 566.7 215.1 544.3 207.3 495.7 213.8 576.6 225.6 465.9 221.7 548.8 228.2 485.4 228.2 512.1 213.8 492.3 224.3 460.7 238.7 460.5 238.7 619.8 219.0 420.1 226.9 458.9 204.6 422.9 234.8 470.8 224.3 626.1 216.4 609.2 234.8 601.4 230.8 569.7 220.4 516.2 232.1 602.6 233.5 533.1 207.3 516.7 220.4 430.5 219.0 517.8 233.5 489.6 223.0 482.7 223.0 553.9 230.8 611.4 232.1 546.0 230.8 486.7 234.8 539.1 228.2 422.5 230.8 442.0 221.7 535.0 215.1 485.2 229.5 438.6 226.9 463.1 220.4 633.9 229.5 398.0 226.9 428.4 223.0 604.1 229.5 577.3 220.4 505.0 217.7 403.9 225.6 489.8 199.4 542.3 215.1 436.7 232.1 411.1 225.6 397.5 234.8 544.0 236.1 469.2 237.4 410.5 236.1 500.0 175.8 548.9 220.4 510.8 232.1 543.8 226.9 411.6 226.9 538.1 223.0 430.1 226.9 587.9 232.1 620.0 229.5 445.3 224.3 621.2 233.5 489.0 200.7 608.8 232.1 607.5 233.5 568.6 223.0 508.6 237.4 573.9 211.2 439.0 232.1 452.9 237.4 601.3 236.1 543.2 232.1 592.6 219.0 403.1 238.7 584.3 211.2 611.4 225.6 633.5 228.2 560.1 209.9 502.4 213.8 433.0 229.5 450.3 194.2 436.9 225.6 477.3 236.1 626.2 225.6 605.8 230.8 520.9 237.4 475.2 236.1 592.7 228.2 417.1 234.8 586.3 221.7 453.3 212.5 437.5 228.2 481.3 238.7 494.1 216.4 602.5 224.3 466.4 198.1 623.9 238.7 605.2 236.1 615.1 237.4 435.5 221.7 550.4 217.7 553.3 209.9 533.0 236.1 470.8 234.8 410.2 228.2 568.6 232.1 580.3 203.3 524.2 221.7 535.3 226.9 612.5 234.8 521.9 171.9 507.2 228.2 497.7 216.4 617.1 236.1 594.7 225.6 521.8 226.9 558.5 203.3 530.7 191.5 625.6 232.1 499.4 203.3 470.4 229.5 626.1 236.1 538.9 211.2 539.0 234.8 441.2 223.0 611.7 237.4 408.7 233.5 486.7 183.7 544.5 224.3 452.1 216.4 490.0 221.7 622.1 217.7 626.2 229.5 430.9 223.0 556.7 234.8 560.6 232.1 490.1 230.8 624.5 226.9 539.7 233.5 574.3 232.1 555.7 237.4 597.5 223.0 508.8 224.3 397.6 232.1 400.7 226.9 433.4 220.4 578.5 230.8 409.6 230.8 553.3 225.6 428.9 234.8 633.0 225.6 426.0 226.9 478.5 219.0 488.4 213.8 601.0 234.8 466.3 225.6 562.1 223.0 552.2 230.8 632.4 234.8 502.9 207.3 509.3 192.8 591.2 215.1 436.3 217.7 581.1 216.4 529.2 230.8 605.8 233.5 531.5 230.8 480.6 211.2 517.6 190.2 586.7 211.2 562.2 233.5 499.1 224.3 455.7 230.8 538.6 236.1 438.0 221.7 552.6 232.1 519.8 229.5 526.7 215.1 432.9 208.6 553.5 229.5 518.8 230.8 541.1 223.0 604.0 229.5 480.5 215.1 474.4 212.5 470.1 174.5 449.6 207.3 631.5 232.1 524.1 229.5 552.6 204.6 507.6 232.1 482.5 229.5 445.4 229.5 581.2 229.5 637.1 215.1 553.8 212.5 626.5 232.1 462.7 187.6 441.8 234.8 633.5 234.8 557.5 228.2 435.1 225.6 435.6 232.1 489.9 233.5 402.4 228.2 538.0 224.3 530.2 230.8 523.1 217.7 464.5 224.3 482.1 213.8 553.4 225.6 593.4 220.4 441.4 225.6 478.0 224.3 546.0 212.5 430.8 225.6 436.0 215.1 589.3 220.4 633.0 230.8 467.2 224.3 569.7 232.1 401.5 229.5 455.8 224.3 590.5 232.1 439.9 224.3 588.4 236.1 557.2 208.6 524.4 230.8 540.8 230.8 503.3 224.3 541.8 229.5 432.8 220.4 522.1 217.7 483.8 236.1 474.3 237.4 426.3 228.2 489.9 237.4 577.1 221.7 612.6 238.7 590.3 233.5 537.3 224.3 602.3 234.8 605.2 236.1 550.8 221.7 475.7 203.3 477.6 216.4 600.5 226.9 443.9 219.0 615.5 229.5 521.0 212.5 536.1 226.9 615.6 238.7 584.1 230.8 498.8 215.1 582.5 230.8 576.5 220.4 631.8 234.8 556.1 205.9 533.9 215.1 454.1 225.6 637.8 236.1 578.2 225.6 466.6 230.8 560.0 215.1 506.4 216.4 506.9 223.0 475.0 225.6 442.6 225.6 546.2 221.7 631.6 233.5 414.9 230.8 485.6 216.4 568.3 190.2 466.4 221.7 521.2 200.7 608.3 236.1 457.0 232.1 471.6 213.8 536.6 232.1 477.0 202.0 500.3 200.7 506.4 237.4 440.5 224.3 577.0 236.1 400.0 236.1 610.6 234.8 416.3 229.5 542.5 211.2 497.4 228.2 634.7 238.7 474.0 211.2 611.4 233.5 412.5 238.7 584.4 233.5 434.3 232.1 461.4 212.5 532.7 225.6 434.2 212.5 544.9 221.7 561.7 186.3 537.8 217.7 602.1 234.8 570.4 224.3 403.6 234.8 637.5 234.8 599.1 225.6 611.3 230.8 429.9 234.8 424.0 229.5 515.3 230.8 502.6 219.0 616.1 236.1 452.4 220.4 636.2 225.6 614.3 228.2 439.7 228.2 473.3 175.8 636.8 228.2 530.3 224.3 424.8 238.7 454.6 213.8 499.9 220.4 558.1 195.5 419.7 232.1 618.9 232.1 638.5 236.1 455.5 237.4 545.7 232.1 514.9 229.5 584.6 232.1 627.6 230.8 579.1 233.5 557.2 216.4 433.2 226.9 477.8 234.8 401.7 237.4 563.8 233.5 454.5 194.2 568.2 225.6 557.0 221.7 543.0 223.0 478.1 203.3 538.3 209.9 516.7 230.8 408.2 234.8 579.5 236.1 626.2 228.2 560.4 219.0 583.1 237.4 492.0 220.4 521.8 223.0 480.6 223.0 542.4 223.0 457.4 216.4 506.1 213.8 513.5 237.4 636.2 225.6 530.6 217.7 423.9 233.5 518.6 223.0 598.8 223.0 631.0 229.5 467.7 236.1 577.4 202.0 447.4 205.9 581.4 238.7 494.3 226.9 549.3 230.8 585.6 215.1 584.5 226.9 509.9 215.1 403.1 230.8 568.4 236.1 498.4 230.8 614.8 233.5 417.6 230.8 584.4 230.8 483.9 217.7 503.7 220.4 478.0 228.2 406.5 234.8 617.4 233.5 553.8 204.6 514.3 219.0 519.6 224.3 614.1 236.1 610.4 233.5 491.4 237.4 417.1 229.5 588.4 221.7 579.2 203.3 566.7 233.5 592.2 230.8 540.6 230.8 539.3 225.6 615.7 234.8 432.0 228.2 559.1 179.8 584.4 230.8 612.3 233.5 480.3 219.0 398.1 237.4 584.5 228.2 531.3 230.8 457.6 233.5 541.9 208.6 524.9 220.4 403.7 232.1 566.5 205.9 464.3 217.7 613.7 232.1 628.1 228.2 533.7 217.7 442.8 226.9 631.1 229.5 565.1 216.4 612.0 224.3 445.3 226.9 584.2 225.6 494.9 233.5 505.6 211.2 436.6 236.1 563.9 229.5 625.8 229.5 434.3 238.7 449.6 213.8 559.4 232.1 530.3 219.0 469.3 237.4 525.9 215.1 508.6 232.1 435.2 220.4 516.4 232.1 588.2 229.5 417.4 232.1 442.1 207.3 400.3 233.5 439.1 234.8 459.4 221.7 412.6 230.8 535.0 224.3 539.9 230.8 564.1 237.4 453.1 223.0 457.4 220.4 513.6 236.1 568.5 217.7 492.7 237.4 452.1 220.4 511.3 228.2 454.0 238.7 483.6 219.0 428.6 236.1 553.8 229.5 591.4 234.8 458.4 228.2 452.8 223.0 529.8 232.1 567.7 209.9 550.2 237.4 570.0 232.1 428.1 229.5 431.0 225.6 453.3 236.1 596.2 216.4 491.3 226.9 610.4 229.5 435.1 226.9 469.6 237.4 601.9 232.1 471.7 221.7 494.0 196.8 455.7 221.7 515.8 217.7 582.8 228.2 510.5 229.5 506.2 221.7 542.7 216.4 622.8 223.0 532.9 204.6 555.5 223.0 615.8 234.8 470.3 229.5 442.5 217.7 610.7 226.9 468.5 228.2 550.0 221.7 510.5 200.7 423.3 228.2 440.2 225.6 448.7 213.8 451.8 228.2 578.3 203.3 547.9 229.5 580.1 226.9 599.6 225.6 548.1 221.7 504.7 220.4 627.4 230.8 508.8 230.8 436.3 223.0 435.5 225.6 558.6 208.6 638.2 233.5 482.7 213.8 609.3 230.8 551.3 221.7 486.7 221.7 610.4 232.1 430.6 233.5 483.1 229.5 481.3 228.2 571.4 219.0 490.5 217.7 474.4 220.4 613.6 234.8 492.4 216.4 561.0 223.0 475.6 229.5 558.4 216.4 486.5 217.7 477.4 238.7 636.6 228.2 497.5 233.5 587.9 234.8 529.4 237.4 403.9 236.1 558.0 219.0 487.3 232.1 515.3 221.7 500.9 224.3 425.5 233.5 606.2 236.1 429.5 230.8 638.5 230.8 525.6 212.5 416.6 226.9 578.4 217.7 594.1 233.5 544.7 221.7 578.0 221.7 616.4 234.8 614.6 237.4 446.2 199.4 424.8 228.2 429.6 230.8 477.6 220.4 577.7 221.7 594.2 230.8 635.6 232.1 610.4 233.5 462.5 232.1 586.2 224.3 488.7 236.1 626.7 226.9 541.2 225.6 583.0 228.2 551.3 216.4 547.2 207.3 468.1 233.5 499.1 219.0 556.4 202.0 484.1 238.7 607.1 233.5 621.6 226.9 481.3 212.5 509.9 223.0 550.0 205.9 502.7 237.4 514.0 225.6 492.2 202.0 471.1 228.2 607.2 237.4 565.2 211.2 564.9 220.4 486.7 207.3 582.2 220.4 462.7 211.2 634.8 232.1 436.1 225.6 480.7 207.3 487.2 198.1 617.0 215.1 545.4 212.5 627.3 230.8 491.0 208.6 569.9 234.8 451.0 224.3 509.7 225.6 440.4 213.8 414.9 226.9 583.8 228.2 615.5 229.5 621.8 221.7 603.3 236.1 574.9 220.4 514.9 215.1 572.7 215.1 499.5 225.6 627.2 232.1 465.5 224.3 471.4 234.8 501.4 219.0 445.2 225.6 448.3 198.1 578.5 230.8 428.2 217.7 480.0 211.2 496.5 237.4 505.6 216.4 456.4 224.3 501.7 217.7 586.9 221.7 439.8 205.9 588.4 209.9 596.7 225.6 447.2 215.1 614.1 232.1 482.3 207.3 535.8 232.1 622.9 221.7 411.9 237.4 521.4 228.2 526.4 228.2 449.3 230.8 430.1 238.7 504.8 228.2 446.1 219.0 439.7 228.2 547.7 229.5 595.8 233.5 577.9 232.1 488.4 230.8 605.1 230.8 555.8 221.7 453.8 230.8 441.1 220.4 528.5 224.3 588.9 212.5 526.4 216.4 460.6 228.2 447.3 212.5 421.6 230.8 573.1 220.4 617.0 223.0 634.6 233.5 531.8 230.8 495.5 219.0 502.4 230.8 448.2 207.3 632.2 226.9 441.9 225.6 515.3 220.4 449.8 230.8 431.3 229.5 453.3 220.4 506.8 219.0 619.0 234.8 398.9 233.5 541.3 220.4 622.5 228.2 542.0 219.0 590.9 217.7 490.6 195.5 587.6 219.0 518.4 216.4 624.3 226.9 474.0 205.9 457.9 230.8 552.9 213.8 501.2 209.9 402.8 229.5 419.7 226.9 524.7 220.4 608.8 236.1 452.3 220.4 567.9 232.1 400.7 233.5 502.2 215.1 583.4 234.8 561.3 225.6 493.9 237.4 491.2 229.5 577.2 226.9 425.9 234.8 596.6 230.8 608.7 230.8 610.4 234.8 446.3 224.3 462.1 229.5 519.0 237.4 631.2 230.8 558.3 217.7 617.3 230.8 632.8 232.1 619.7 225.6 408.7 237.4 515.9 228.2 558.2 194.2 603.5 229.5 520.0 233.5 493.7 229.5 471.5 211.2 446.7 224.3 635.3 233.5 620.3 225.6 416.3 225.6 451.6 213.8 568.7 226.9 561.8 232.1 430.4 230.8 495.6 216.4 435.2 234.8 493.8 220.4 608.6 232.1 527.7 224.3 578.1 229.5 537.8 221.7 570.2 216.4 459.3 232.1 558.3 226.9 490.0 229.5 458.3 224.3 523.0 217.7 441.7 223.0 505.7 229.5 591.3 225.6 505.8 230.8 441.2 216.4 424.6 220.4 569.1 207.3 430.8 224.3 443.2 204.6 622.6 224.3 624.7 213.8 631.8 233.5 601.6 233.5 533.6 228.2 441.5 223.0 470.0 233.5 558.3 236.1 455.7 225.6 623.3 233.5 551.2 223.0 457.4 236.1 534.7 229.5 531.0 204.6 600.3 230.8 574.0 212.5 462.4 221.7 469.0 225.6 451.3 232.1 418.5 229.5 538.0 195.5 585.3 221.7 419.1 233.5 549.6 215.1 623.9 228.2 589.3 226.9 580.8 232.1 496.3 228.2 553.0 229.5 495.1 219.0 471.2 233.5 575.1 225.6 441.2 204.6 559.6 217.7 439.5 232.1 487.2 226.9 596.1 225.6 541.7 228.2 460.2 236.1 477.1 221.7 592.4 230.8 489.3 194.2 558.2 233.5 610.5 229.5 442.5 224.3 445.0 216.4 436.2 215.1 597.4 232.1 429.6 228.2 412.6 233.5 617.0 225.6 493.1 224.3 598.2 226.9 442.7 226.9 505.1 229.5 448.2 220.4 549.4 223.0 423.3 228.2 611.7 233.5 482.4 219.0 558.6 216.4 431.3 228.2 579.5 219.0 532.6 205.9 547.8 237.4 632.1 236.1 512.1 203.3 465.6 217.7 561.0 209.9 581.2 224.3 522.2 212.5 592.1 219.0 503.0 205.9 431.3 229.5 560.6 202.0 449.3 237.4 490.7 185.0 402.5 234.8 617.8 226.9 606.4 237.4 624.6 219.0 620.6 223.0 596.8 232.1 466.8 216.4 604.9 234.8 572.0 211.2 551.4 215.1 587.4 221.7 545.5 237.4 512.2 200.7 524.6 221.7 436.0 225.6 505.0 226.9 525.0 208.6 504.6 217.7 560.8 223.0 467.6 217.7 561.7 238.7 453.3 177.1 475.9 208.6 608.0 237.4 612.3 232.1 498.1 215.1 466.3 230.8 588.0 234.8 585.7 225.6 519.0 225.6 482.2 219.0 602.5 238.7 626.2 226.9 606.0 233.5 451.8 226.9 467.1 223.0 495.3 207.3 634.2 226.9 440.2 220.4 529.4 205.9 608.0 228.2 533.1 217.7 609.5 232.1 413.0 230.8 499.9 217.7 429.7 233.5 431.2 225.6 596.2 237.4 433.3 232.1 527.7 232.1 577.3 223.0 485.2 216.4 471.8 225.6 452.4 230.8 551.9 209.9 592.2 229.5 541.2 215.1 488.1 226.9 484.7 236.1 597.7 234.8 618.2 223.0 601.7 236.1 465.3 203.3 518.0 205.9 470.1 216.4 412.0 237.4 445.5 221.7 549.5 209.9 399.7 236.1 615.3 232.1 560.9 233.5 536.9 226.9 542.7 212.5 621.7 238.7 485.6 211.2 464.6 232.1 611.3 229.5 527.9 229.5 530.7 175.8 459.6 225.6 632.3 230.8 524.1 221.7 561.7 203.3 604.9 232.1 501.2 203.3 415.3 234.8 522.1 232.1 454.4 200.7 516.9 216.4 546.1 224.3 486.7 224.3 455.5 221.7 611.4 228.2 429.1 233.5 541.0 232.1 559.7 230.8 528.8 221.7 570.0 234.8 453.0 232.1 423.5 219.0 488.5 230.8 608.9 233.5 490.2 232.1 530.2 228.2 488.8 203.3 402.9 236.1 569.9 232.1 544.2 213.8 565.6 212.5 482.4 212.5 485.7 224.3 437.1 221.7 478.1 217.7 637.7 234.8 618.4 234.8 529.4 233.5 493.5 228.2 631.0 225.6 554.1 209.9 416.6 234.8 451.5 232.1 616.3 230.8 615.7 230.8 475.1 236.1 468.2 204.6 477.6 232.1 451.8 207.3 561.3 215.1 415.4 230.8 464.1 216.4 475.9 217.7 493.3 217.7 456.6 226.9 420.9 233.5 549.0 226.9 564.2 230.8 509.7 221.7 456.7 219.0 436.4 237.4 527.5 223.0 471.5 205.9 615.4 237.4 513.9 213.8 580.9 220.4 514.2 203.3 628.9 224.3 605.1 232.1 553.5 223.0 599.6 233.5 592.7 223.0 444.9 199.4 486.5 233.5 567.3 221.7 494.0 204.6 506.0 233.5 548.1 205.9 551.0 211.2 610.2 234.8 622.8 219.0 612.0 233.5 560.9 232.1 569.3 219.0 510.1 237.4 466.7 217.7 599.5 233.5 611.5 237.4 574.9 223.0 495.9 203.3 512.9 187.6 561.5 219.0 480.6 226.9 629.6 228.2 528.8 225.6 525.3 225.6 561.4 212.5 468.0 219.0 493.9 237.4 622.5 224.3 498.3 219.0 528.0 219.0 547.8 224.3 520.0 200.7 451.1 232.1 520.7 213.8 518.7 211.2 610.7 233.5 586.7 228.2 590.2 230.8 532.7 232.1 482.2 211.2 568.1 223.0 532.9 228.2 527.4 198.1 530.7 215.1 612.2 236.1 476.6 232.1 428.5 238.7 558.3 219.0 533.7 236.1 404.5 233.5 583.3 236.1 473.1 212.5 488.0 224.3 508.6 232.1 523.5 232.1 539.6 186.3 504.4 217.7 489.4 216.4 498.7 199.4 492.8 233.5 602.0 234.8 614.0 236.1 412.6 232.1 633.1 228.2 504.1 213.8 483.2 226.9 589.2 225.6 599.9 230.8 603.6 229.5 583.5 234.8 520.8 223.0 436.5 236.1 486.5 191.5 549.8 221.7 471.4 211.2 533.5 212.5 549.7 220.4 510.8 225.6 525.8 215.1 459.2 224.3 550.0 196.8 521.8 224.3 451.7 212.5 588.5 230.8 482.2 238.7 478.5 216.4 528.4 216.4 444.6 215.1 569.7 202.0 533.6 229.5 413.2 232.1 513.3 211.2 515.0 59.0 475.9 142.3 572.4 179.0 572.9 186.3 574.5 192.2 605.6 185.0 588.5 197.4" fill="none" stroke="none" marker-start="url(#md)" marker-mid="url(#md)" marker-end="url(#md)"/>
<path d="M520.4 226.9L556.6 223.0 495.6 236.1 443.3 228.2 461.8 236.1 449.5 234.8 414.1 234.8 552.0 236.1 545.5 226.9 488.5 230.8 505.7 229.5 592.0 233.5 551.4 230.8 443.1 236.1 421.6 233.5 494.1 226.9 536.3 230.8 468.5 234.8 466.9 228.2 462.9 228.2 561.8 225.6 510.3 236.1 493.3 230.8 488.8 217.7 482.6 203.3 489.8 228.2 563.9 230.8 508.4 230.8 557.0 228.2 524.7 223.0 462.5 226.9 403.8 236.1 537.0 223.0 514.9 233.5 436.4 224.3 569.6 226.9 554.4 233.5 553.0 233.5 577.9 230.8 483.6 226.9 549.5 228.2 596.6 233.5 431.1 236.1 560.4 229.5 512.3 238.7 567.1 229.5 507.2 228.2 454.1 223.0 478.1 228.2 565.3 229.5 526.0 228.2 498.8 236.1 566.3 225.6 482.6 236.1 497.6 230.8 577.6 233.5 503.7 224.3 456.2 225.6 428.8 236.1 410.4 232.1 557.2 238.7 517.5 230.8 526.8 226.9 569.4 238.7 442.4 229.5 526.2 233.5 483.2 226.9 436.8 238.7 442.4 228.2 477.2 238.7 521.8 228.2 507.2 232.1 528.4 221.7 472.7 229.5 454.1 226.9 454.5 234.8 446.8 204.6 547.1 234.8 508.7 221.7 494.4 233.5 448.9 226.9 407.2 237.4 503.2 234.8 482.9 225.6 439.7 232.1 428.9 229.5 460.3 228.2 555.1 234.8 494.3 225.6 574.9 229.5 417.2 236.1 415.0 237.4 506.6 230.8 403.2 234.8 541.5 224.3 538.5 204.6 497.5 237.4 509.6 238.7 570.4 223.0 556.5 221.7 455.0 237.4 633.2 238.7 442.2 224.3 528.3 225.6 458.2 213.8 491.8 221.7 543.3 230.8 543.0 232.1 562.9 228.2 398.0 236.1 570.5 229.5 403.9 236.1 575.6 221.7 511.8 234.8 567.7 230.8 432.7 225.6 539.0 237.4 465.9 233.5 439.6 215.1 547.9 237.4 453.7 224.3 448.2 234.8 456.2 230.8 408.5 233.5 406.7 236.1 528.9 230.8 516.9 223.0 527.4 233.5 484.5 229.5 498.9 237.4 452.5 220.4 451.9 226.9 406.7 233.5 441.8 234.8 411.5 236.1 460.9 228.2 489.6 215.1 489.6 226.9 463.2 229.5 405.5 234.8 564.0 228.2 511.8 229.5 446.7 233.5 579.0 233.5 563.3 226.9 547.7 233.5 535.9 232.1 523.2 220.4 452.6 226.9 515.2 234.8 464.2 228.2 423.3 221.7 534.9 228.2 445.0 212.5 536.2 224.3 552.0 233.5 529.3 228.2 484.3 234.8 600.7 232.1 556.0 223.0 442.9 233.5 471.2 234.8 476.6 225.6 459.2 225.6 509.1 230.8 524.9 226.9 426.1 232.1 401.6 233.5 470.3 229.5 476.5 226.9 555.3 236.1 490.6 234.8 565.9 229.5 543.7 225.6 540.6 230.8 466.1 225.6 535.2 230.8 572.5 233.5 604.6 232.1 546.0 223.0 445.9 230.8 625.7 233.5 471.8 237.4 504.1 221.7 433.1 236.1 440.1 225.6 488.8 232.1 411.4 232.1 544.2 226.9 508.3 233.5 450.7 229.5 475.5 234.8 496.9 233.5 540.5 232.1 438.5 217.7 527.1 232.1 431.5 225.6 579.4 228.2 543.2 237.4 481.2 219.0 506.9 234.8 444.1 229.5 438.9 215.1 499.1 230.8 511.0 229.5 463.1 226.9 546.8 234.8 414.5 234.8 472.6 221.7 538.4 229.5 547.2 232.1 501.5 237.4 562.0 234.8 543.5 230.8 470.0 236.1 467.0 232.1 442.8 223.0 565.5 229.5 538.6 221.7 547.3 230.8 543.3 225.6 492.0 236.1 494.0 230.8 459.9 238.7 535.6 236.1 579.5 237.4 553.1 225.6 490.8 233.5 536.8 221.7 557.2 234.8 580.5 229.5 632.6 230.8 563.1 230.8 577.6 232.1 467.8 226.9 605.1 236.1 532.3 236.1 565.6 236.1 477.9 229.5 563.1 230.8 423.5 230.8 491.1 223.0 444.4 226.9 408.4 236.1 480.2 224.3 433.8 230.8 486.3 232.1 481.9 221.7 545.9 229.5 543.8 226.9 608.3 233.5 470.0 232.1 518.0 233.5 480.0 217.7 471.1 229.5 496.5 229.5 529.5 223.0 410.5 232.1 428.3 226.9 505.1 226.9 636.5 237.4 527.8 233.5 525.4 225.6 488.3 225.6 536.2 237.4 458.5 207.3 481.3 236.1 426.1 224.3 469.1 225.6 571.5 215.1 429.0 233.5 562.0 229.5 449.7 230.8 420.5 236.1 562.5 226.9 445.2 223.0 440.2 229.5 551.0 221.7 521.2 234.8 543.1 237.4 503.2 216.4 472.7 225.6 510.0 226.9 522.9 232.1 483.6 205.9 468.6 225.6 450.0 228.2 425.4 234.8 470.2 225.6 468.6 224.3 509.1 228.2 526.6 233.5 469.9 220.4 450.4 225.6 518.8 228.2 534.2 236.1 471.7 230.8 598.9 234.8 427.7 234.8 563.4 232.1 550.8 224.3 500.6 232.1 470.4 223.0 547.9 236.1 443.3 219.0 522.5 225.6 414.1 232.1 410.7 233.5 504.6 230.8 529.0 226.9 468.6 228.2 455.5 233.5 492.9 237.4 556.4 238.7 541.7 229.5 499.1 233.5 527.8 230.8 571.2 228.2 514.4 224.3 571.5 234.8 531.7 230.8 469.0 224.3 498.1 230.8 498.6 226.9 459.9 228.2 530.7 226.9 521.7 229.5 542.2 220.4 572.9 225.6 425.6 225.6 439.4 224.3 491.8 228.2 507.2 219.0 538.9 233.5 419.9 234.8 499.5 233.5 505.2 200.7 487.6 223.0 572.6 232.1 474.1 229.5 561.6 228.2 482.3 234.8 483.4 232.1 523.8 223.0 542.3 221.7 440.1 217.7 488.2 224.3 457.8 232.1 474.7 230.8 475.3 233.5 532.8 236.1 484.4 225.6 439.8 217.7 458.3 211.2 459.9 233.5 495.7 226.9 574.2 224.3 531.6 228.2 591.0 232.1 441.5 224.3 568.1 232.1 458.4 236.1 418.7 232.1 534.9 217.7 536.9 234.8 488.7 228.2 548.6 208.6 582.7 212.5 484.2 233.5 454.9 225.6 547.7 216.4 544.9 224.3 467.7 226.9 578.6 230.8 558.3 225.6 549.8 228.2 489.3 230.8 570.9 223.0 450.7 232.1 515.8 236.1 471.1 225.6 536.4 225.6 534.7 226.9 520.7 228.2 486.9 236.1 534.2 233.5 510.3 237.4 543.3 225.6 516.4 223.0 556.9 234.8 552.4 224.3 572.8 226.9 529.8 238.7 515.4 236.1 580.7 238.7 525.5 232.1 403.2 233.5 561.9 228.2 410.6 228.2 567.6 236.1 578.9 238.7 459.9 233.5 483.7 230.8 439.1 224.3 598.2 232.1 468.5 228.2 545.7 224.3 481.4 221.7 629.7 233.5 536.1 226.9 488.6 234.8 535.7 234.8 526.0 237.4 570.9 230.8 419.7 230.8 436.9 224.3 435.9 228.2 570.4 229.5 497.2 228.2 498.1 232.1 434.2 230.8 498.6 234.8 501.8 223.0 499.6 233.5 559.6 238.7 549.2 229.5 487.0 224.3 449.2 223.0 488.5 232.1 483.3 221.7 474.3 223.0 551.4 221.7 426.8 236.1 496.8 224.3 470.6 229.5 555.7 229.5 468.7 221.7 519.7 228.2 588.8 237.4 543.6 228.2 512.8 237.4 529.4 205.9 553.8 226.9 454.6 233.5 454.0 219.0 466.6 229.5 462.2 230.8 465.3 221.7 488.5 238.7 526.4 234.8 482.2 237.4 421.5 228.2 453.2 232.1 504.8 234.8 574.1 226.9 431.0 230.8 467.3 230.8 441.6 237.4 501.7 223.0 488.7 217.7 461.0 232.1 487.5 225.6 462.8 229.5 446.3 232.1 479.2 230.8 525.8 216.4 468.7 229.5 500.7 230.8 536.7 224.3 459.0 230.8 563.4 238.7 496.0 225.6 535.4 229.5 540.3 232.1 488.1 228.2 489.5 234.8 560.6 236.1 527.6 229.5 562.2 229.5 400.4 238.7 481.5 234.8 479.4 234.8 463.7 238.7 499.9 226.9 498.6 224.3 539.1 234.8 473.2 225.6 564.0 232.1 540.5 234.8 401.1 236.1 470.8 220.4 415.8 234.8 542.3 228.2 438.1 216.4 434.2 232.1 508.4 228.2 428.6 234.8 499.3 237.4 443.2 229.5 501.6 228.2 548.7 234.8 497.1 209.9 519.1 223.0 519.9 233.5 566.9 232.1 477.8 236.1 504.8 225.6 444.7 225.6 427.8 226.9 560.7 219.0 417.6 237.4 536.6 232.1 570.5 226.9 431.4 225.6 466.8 223.0 431.6 226.9 564.2 233.5 540.9 237.4 556.6 229.5 477.2 221.7 521.7 232.1 558.6 232.1 477.4 229.5 433.2 228.2 493.2 233.5 479.1 228.2 568.8 228.2 562.2 238.7 519.0 226.9 455.8 224.3 486.0 223.0 481.6 234.8 446.0 216.4 479.4 229.5 476.2 233.5 570.8 229.5 496.9 223.0 436.1 226.9 508.2 233.5 460.2 232.1 516.7 236.1 524.7 233.5 465.8 237.4 577.9 234.8 495.8 230.8 525.9 220.4 437.5 236.1 457.9 230.8 429.1 233.5 515.1 230.8 520.4 237.4 470.1 233.5 452.4 228.2 460.3 225.6 539.3 221.7 469.9 229.5 514.6 232.1 436.8 226.9 471.5 233.5 539.3 237.4 469.4 229.5 571.5 230.8 457.4 216.4 473.0 232.1 498.3 226.9 503.6 232.1 415.1 232.1 518.9 230.8 515.4 236.1 423.5 230.8 499.9 232.1 557.8 237.4 474.1 237.4 459.9 237.4 457.5 225.6 412.7 233.5 480.5 225.6 541.1 230.8 449.2 223.0 543.7 232.1 497.2 225.6 533.4 233.5 434.3 225.6 481.3 228.2 461.5 215.1 500.4 223.0 452.1 219.0 444.8 230.8 546.5 226.9 561.4 226.9 480.2 233.5 607.3 237.4 487.9 229.5 561.9 226.9 577.3 238.7 455.2 220.4 480.1 226.9 550.6 228.2 416.7 237.4 509.5 230.8 531.3 216.4 435.3 237.4 435.2 234.8 578.7 229.5 524.3 237.4 581.1 233.5 481.6 229.5 435.3 236.1 521.8 229.5 466.8 237.4 572.0 229.5 459.9 232.1 507.6 236.1 564.5 228.2 493.2 236.1 447.6 226.9 487.3 225.6 443.5 232.1 422.1 238.7 531.7 226.9 441.6 217.7 593.1 225.6 555.4 234.8 423.7 236.1 543.2 225.6 456.9 219.0 429.6 234.8 578.2 229.5 442.7 225.6 512.3 232.1 476.0 234.8 415.0 238.7 565.7 234.8 483.1 219.0 487.7 215.1 474.6 236.1 434.3 236.1 504.3 230.8 448.4 236.1 447.8 228.2 509.7 228.2 557.4 224.3 499.2 230.8 424.6 234.8 529.2 233.5 519.7 223.0 572.6 230.8 506.7 237.4 432.3 213.8 636.4 234.8 455.2 233.5 403.8 237.4 535.3 221.7 505.3 232.1 532.7 238.7 528.7 221.7 505.2 221.7 422.9 234.8 507.0 237.4 489.8 233.5 488.9 226.9 566.0 224.3 401.3 232.1 443.8 233.5 449.0 213.8 538.1 215.1 470.2 225.6 430.3 224.3 493.6 225.6 470.4 234.8 521.0 225.6 556.6 237.4 568.7 226.9 553.0 237.4 497.8 233.5 516.1 228.2 447.3 220.4 507.1 226.9 434.8 236.1 539.4 229.5 458.6 230.8 556.0 226.9 556.8 229.5 565.3 230.8 481.9 229.5 420.8 228.2 487.4 230.8 507.6 225.6 444.3 236.1 575.0 228.2 449.3 229.5 548.2 221.7 484.9 225.6 488.5 223.0 570.3 226.9 511.1 232.1 457.3 233.5 505.6 237.4 530.0 223.0 578.0 236.1 498.3 229.5 442.9 208.6 475.8 223.0 471.9 230.8 497.8 225.6 521.5 216.4 442.6 223.0 523.9 233.5 489.9 226.9 599.7 236.1 479.5 223.0 467.0 237.4 431.2 226.9 538.4 230.8 446.6 238.7 520.8 233.5 524.5 234.8 546.1 229.5 442.7 223.0 446.9 224.3 476.5 228.2 542.2 226.9 556.8 237.4 488.3 234.8 513.6 229.5 540.8 225.6 564.1 225.6 417.0 234.8 490.9 233.5 453.3 233.5 545.0 238.7 516.6 234.8 412.6 233.5 512.5 221.7 499.5 225.6 543.9 226.9 463.3 225.6 566.2 226.9 460.7 237.4 575.0 237.4 423.6 237.4 509.1 228.2 420.3 234.8 498.6 225.6 479.7 226.9 547.1 226.9 487.3 232.1 495.9 234.8 526.5 225.6 414.4 234.8 420.0 234.8 486.0 225.6 479.2 223.0 551.1 226.9 432.0 237.4 426.9 238.7 437.0 230.8 514.8 232.1 575.8 237.4 550.2 234.8 564.0 230.8 471.2 223.0 487.9 225.6 489.9 230.8 506.8 234.8 521.4 226.9 455.0 224.3 458.5 213.8 521.5 223.0 502.7 238.7 564.5 236.1 490.1 230.8 494.0 233.5 530.8 228.2 479.5 233.5 434.6 233.5 547.9 232.1 478.5 215.1 424.9 229.5 575.1 234.8 463.6 220.4 531.7 224.3 468.1 230.8 471.3 236.1 575.0 236.1 532.5 233.5 424.9 234.8 445.2 223.0 431.3 224.3 574.9 233.5 594.9 233.5 467.4 229.5 586.3 232.1 506.0 226.9 490.5 228.2 524.6 234.8 458.2 225.6 526.7 216.4 520.1 229.5 558.9 226.9 510.7 225.6 498.3 217.7 587.6 238.7 485.6 219.0 431.2 225.6 580.8 226.9 519.0 238.7 503.0 225.6 545.0 229.5 432.2 237.4 482.1 225.6 534.0 223.0 561.8 234.8 571.2 238.7 535.4 236.1 446.8 226.9 491.9 221.7 511.0 229.5 466.1 221.7 522.2 232.1 459.3 229.5 540.3 236.1 474.4 230.8 495.2 237.4 555.9 237.4 417.4 236.1 480.5 223.0 579.3 237.4 508.6 230.8 444.3 224.3 492.9 232.1 509.6 234.8 480.7 229.5 434.5 219.0 464.1 233.5 461.6 219.0 571.1 225.6 528.8 232.1 530.6 226.9 556.5 224.3 519.5 232.1 438.7 220.4 526.5 232.1 416.6 236.1 565.7 209.9 628.3 233.5 541.4 226.9 480.6 224.3 467.5 237.4 405.6 236.1 523.7 237.4 404.4 233.5 570.8 226.9 583.8 234.8 447.1 223.0 569.0 237.4 483.5 232.1 620.3 236.1 437.6 212.5 407.4 236.1 435.3 233.5 448.5 236.1 439.2 225.6 560.8 229.5 479.2 226.9 447.9 236.1 464.4 226.9 560.6 226.9 499.7 232.1 572.6 236.1 553.6 237.4 525.4 229.5 453.1 237.4 415.9 232.1 549.4 236.1 518.4 219.0 555.8 237.4 514.8 229.5 594.4 233.5 574.9 223.0 571.8 230.8 420.9 229.5 505.7 229.5 471.7 234.8 426.2 229.5 548.5 228.2 514.5 225.6 497.8 234.8 584.4 234.8 453.3 236.1 401.1 237.4 450.5 233.5 537.1 237.4 464.0 232.1 453.0 230.8 519.6 225.6 577.9 229.5 552.8 228.2 462.0 225.6 534.5 225.6 537.3 219.0 439.3 229.5 428.4 230.8 508.3 220.4 458.2 234.8 525.4 226.9 492.2 221.7 599.6 236.1 472.8 234.8 453.4 225.6 480.2 236.1 489.0 234.8 399.8 238.7 619.2 233.5 423.6 230.8 516.9 225.6 575.8 229.5 457.9 233.5 533.6 232.1 497.1 221.7 515.0 233.5 519.6 228.2 404.2 236.1 425.0 225.6 530.3 233.5 450.1 230.8 440.3 232.1 424.2 236.1 457.4 234.8 448.9 225.6 467.6 224.3 573.4 225.6 555.3 234.8 464.2 237.4 466.2 230.8 564.3 234.8 570.1 232.1 413.4 234.8 463.0 229.5 406.1 236.1 528.9 233.5 501.1 234.8 532.2 234.8 570.5 226.9 518.1 233.5 511.5 224.3 454.6 234.8 528.2 228.2 547.0 237.4 452.4 233.5 553.5 225.6 557.9 225.6 447.2 225.6 528.3 230.8 451.7 216.4 468.5 226.9 458.1 226.9 419.1 234.8 472.1 234.8 464.5 223.0 496.2 228.2 507.2 232.1 563.9 229.5 581.5 237.4 479.6 237.4 519.7 233.5 558.9 217.7 561.4 232.1 447.3 224.3 463.7 233.5 478.4 226.9 480.2 236.1 487.6 237.4 468.4 230.8 459.3 224.3 476.4 233.5 449.1 229.5 443.5 225.6 465.2 226.9 472.3 234.8 570.8 211.2 443.3 236.1 500.7 224.3 529.5 217.7 574.3 233.5 493.0 226.9 523.0 225.6 532.4 226.9 535.2 237.4 444.7 224.3 496.9 232.1 398.3 236.1 514.6 223.0 526.1 228.2 415.8 236.1 569.2 232.1 508.9 233.5 471.6 234.8 454.9 233.5 567.1 232.1 463.0 230.8 459.9 228.2 564.0 223.0 474.4 237.4 436.1 234.8 410.1 234.8 466.8 217.7 497.4 236.1 412.2 234.8 447.9 215.1 521.8 233.5 537.3 224.3 557.3 230.8 470.5 232.1 514.8 230.8 509.1 226.9 482.6 217.7 593.4 229.5 560.1 229.5 462.5 216.4 537.8 230.8 536.1 229.5 421.6 236.1 568.8 219.0 593.8 233.5 452.0 223.0 570.3 233.5 481.6 237.4 507.5 234.8 521.3 221.7 463.2 233.5 532.7 228.2 448.7 217.7 517.1 238.7 531.3 232.1 579.9 228.2 564.7 226.9 563.4 236.1 586.3 237.4 557.2 238.7 504.5 229.5 464.2 229.5 497.5 228.2 503.4 224.3 413.0 233.5 513.5 228.2 517.1 236.1 481.7 226.9 487.3 233.5 515.2 224.3 473.7 237.4 500.4 236.1 493.6 229.5 539.0 233.5 631.4 234.8 512.1 228.2 443.5 216.4 548.4 232.1 435.8 230.8 603.3 234.8 486.4 213.8 537.2 217.7 458.5 229.5 453.6 233.5 432.9 230.8 510.7 217.7 486.6 229.5 495.5 232.1 436.7 213.8 521.5 202.0 574.2 236.1 484.4 225.6 466.0 225.6 449.4 234.8 570.8 226.9 529.5 224.3 526.4 230.8 602.7 232.1 620.8 238.7 559.2 224.3 511.0 228.2 433.3 224.3 558.3 238.7 524.7 223.0 520.9 224.3 475.5 230.8 469.3 230.8 483.8 236.1 528.3 223.0 452.2 213.8 520.5 238.7 575.6 229.5 401.8 236.1 404.2 234.8 537.2 226.9 575.8 228.2 561.8 226.9 533.9 232.1 577.1 228.2 557.3 233.5 474.4 226.9 456.8 230.8 460.5 237.4 432.4 229.5 459.7 237.4 504.0 236.1 554.3 229.5 538.9 228.2 414.4 233.5 546.9 226.9 415.9 234.8 561.2 219.0 436.5 209.9 525.2 234.8 420.7 230.8 400.4 237.4 429.1 229.5 529.1 228.2 431.0 230.8 414.4 236.1 430.9 224.3 519.0 224.3 538.6 237.4 574.6 225.6 476.2 237.4 555.5 226.9 444.8 234.8 542.5 234.8 452.4 199.4 516.6 234.8 419.2 232.1 498.2 237.4 458.2 237.4 540.7 228.2 429.8 225.6 488.3 229.5 563.2 226.9 564.0 225.6 422.4 228.2 471.6 236.1 429.6 221.7 538.5 230.8 431.4 225.6 455.9 221.7 492.1 217.7 553.5 228.2 571.7 230.8 534.0 224.3 546.0 226.9 499.4 233.5 473.4 234.8 469.9 236.1 414.0 232.1 442.1 223.0 439.8 230.8 578.9 228.2 438.2 223.0 549.3 236.1 402.2 237.4 550.9 205.9 526.4 236.1 463.4 237.4 546.4 230.8 487.5 216.4 542.5 232.1 551.9 223.0 493.2 232.1 494.2 232.1 467.1 234.8 518.6 234.8 460.6 228.2 533.4 225.6 480.2 232.1 424.3 228.2 431.6 228.2 510.2 230.8 455.6 219.0 484.0 228.2 475.1 237.4 528.4 238.7 558.3 237.4 445.0 226.9 560.5 225.6 402.0 234.8 464.0 229.5 554.6 230.8 526.0 228.2 478.4 236.1 531.2 229.5 494.6 238.7 567.2 229.5 494.8 233.5 512.8 229.5 434.0 205.9 455.9 217.7 469.1 234.8 527.2 237.4 534.3 236.1 464.2 236.1 627.5 234.8 491.4 228.2 422.2 230.8 489.8 226.9 495.2 228.2 560.7 228.2 570.6 236.1 558.6 230.8 449.0 219.0 463.0 228.2 489.6 229.5 583.7 229.5 485.2 233.5 466.5 232.1 454.7 230.8 487.7 232.1 569.5 230.8 468.6 226.9 537.4 229.5 506.6 232.1 468.1 221.7 573.2 238.7 481.5 238.7 568.3 232.1 523.0 228.2 451.6 224.3 456.7 238.7 458.7 232.1 430.7 229.5 417.4 233.5 421.6 228.2 482.9 229.5 452.7 237.4 542.6 237.4 547.5 232.1 474.4 228.2 459.1 230.8 571.6 234.8 456.9 237.4 566.1 225.6 475.0 226.9 550.0 230.8 468.9 219.0 504.3 234.8 548.0 223.0 554.8 230.8 421.5 232.1 473.6 232.1 475.6 234.8 479.6 226.9 430.3 233.5 559.5 225.6 564.6 225.6 527.8 232.1 548.1 236.1 502.6 216.4 421.7 230.8 436.0 236.1 559.4 236.1 576.8 230.8 483.2 229.5 461.1 215.1 461.7 226.9 405.5 237.4 590.4 230.8 433.2 237.4 543.4 226.9 505.3 226.9 554.9 233.5 455.6 219.0 560.7 234.8 522.4 223.0 512.2 226.9 410.5 233.5 464.2 233.5 566.3 226.9 471.7 237.4 424.1 228.2 532.9 233.5 475.9 232.1 457.2 237.4 550.8 230.8 480.5 219.0 505.7 237.4 540.4 236.1 405.4 237.4 507.2 225.6 523.4 225.6 535.7 229.5 570.0 225.6 521.8 233.5 562.0 229.5 529.9 228.2 579.4 236.1 535.8 225.6 512.7 219.0 485.2 232.1 558.6 236.1 497.1 226.9 624.9 234.8 511.2 223.0 539.4 225.6 512.9 230.8 402.2 234.8 625.4 230.8 478.4 228.2 575.3 233.5 498.2 229.5 550.1 237.4 492.1 229.5 533.2 230.8 438.8 220.4 432.5 228.2 605.8 233.5 439.2 226.9 485.6 224.3 455.4 232.1 507.6 229.5 541.5 223.0 499.2 223.0 469.1 232.1 549.1 226.9 436.1 225.6 513.4 234.8 526.2 230.8 512.1 230.8 440.3 226.9 529.6 225.6 434.1 232.1 431.2 228.2 422.2 220.4 535.6 226.9 468.1 225.6 509.0 221.7 418.8 236.1 414.8 234.8 539.0 224.3 561.1 223.0 549.7 238.7 484.8 225.6 492.0 230.8 485.4 232.1 496.9 233.5 546.6 229.5 445.7 228.2 547.6 228.2 500.0 233.5 484.5 233.5 575.0 233.5 456.6 225.6 494.2 237.4 450.8 230.8 516.8 225.6 496.7 224.3 509.5 232.1 559.5 232.1 515.6 223.0 515.8 229.5 499.5 233.5 465.0 230.8 575.8 230.8 524.5 229.5 454.3 221.7 559.9 230.8 558.7 229.5 431.2 232.1 576.7 219.0 553.0 223.0 495.5 232.1 521.4 226.9 462.2 226.9 557.3 216.4 576.6 229.5 432.5 221.7 517.0 230.8 536.6 220.4 452.0 234.8 416.6 238.7 471.2 233.5 483.5 236.1 536.1 226.9 468.8 236.1 512.3 226.9 494.7 236.1 443.9 237.4 570.0 223.0 487.7 230.8 398.3 234.8 504.0 221.7 489.9 228.2 490.6 224.3 464.8 228.2 512.6 225.6 423.1 232.1 418.1 236.1 449.8 237.4 563.3 226.9 578.5 230.8 591.0 233.5 445.9 233.5 546.3 226.9 518.1 229.5 438.5 223.0 532.1 228.2 410.0 236.1 540.1 236.1 546.5 229.5 428.5 230.8 445.7 226.9 504.3 220.4 509.4 224.3 400.5 233.5 417.3 232.1 473.4 225.6 558.7 226.9 435.8 228.2 452.8 237.4 421.4 230.8 442.6 236.1 569.3 211.2 493.3 215.1 447.8 233.5 559.2 229.5 461.9 228.2 525.8 232.1 529.0 237.4 546.0 225.6 460.3 237.4 447.2 230.8 559.7 223.0 551.5 232.1 488.6 233.5 515.9 237.4 515.9 228.2 433.1 221.7 577.4 209.9 486.9 225.6 489.9 229.5 481.2 225.6 420.2 234.8 481.4 232.1 515.1 229.5 565.1 228.2 456.7 225.6 469.1 234.8 551.2 232.1 514.2 236.1 493.2 230.8 513.9 228.2 556.3 236.1 488.0 236.1 447.6 237.4 459.1 221.7 480.8 232.1 436.6 228.2 477.1 233.5 568.9 236.1 446.1 229.5 529.1 226.9 474.4 219.0 420.1 233.5 490.4 220.4 461.9 228.2 454.1 226.9 510.2 229.5 429.4 234.8 530.3 217.7 507.3 238.7 407.4 237.4 501.9 236.1 518.4 221.7 418.2 234.8 550.1 230.8 584.2 236.1 544.8 230.8 552.5 224.3 552.5 223.0 550.2 232.1 435.2 226.9 518.8 233.5 440.7 226.9 492.2 223.0 570.1 229.5 448.1 232.1 502.4 226.9 426.8 230.8 559.2 226.9 501.8 225.6 440.3 223.0 512.6 232.1 499.9 234.8 428.1 233.5 550.4 232.1 532.5 232.1 421.6 236.1 496.2 223.0 411.7 233.5 527.4 217.7 437.0 225.6 562.4 228.2 550.6 216.4 494.1 232.1 540.1 203.3 465.8 229.5 488.6 232.1 539.9 232.1 445.5 225.6 535.6 225.6 547.6 226.9 558.9 237.4 444.4 225.6 532.6 223.0 492.2 221.7 462.2 225.6 436.0 230.8 550.5 229.5 551.1 237.4 560.4 221.7 567.2 230.8 439.9 229.5 539.2 216.4 543.3 233.5 410.3 226.9 532.2 230.8 502.0 229.5 569.8 238.7 462.3 225.6 578.1 225.6 466.8 225.6 446.0 223.0 488.1 223.0 431.2 232.1 443.7 233.5 520.8 234.8 544.4 232.1 487.2 228.2 569.5 236.1 456.7 230.8 437.9 233.5 547.5 224.3 581.4 230.8 494.2 234.8 449.2 232.1 426.2 234.8 528.3 228.2 561.0 230.8 437.4 230.8 432.8 234.8 511.3 234.8 520.2 225.6 538.9 221.7 575.2 223.0 497.7 228.2 402.6 234.8 498.1 229.5 526.3 224.3 491.8 230.8 418.1 233.5 549.9 225.6 538.7 237.4 405.2 234.8 457.3 223.0 535.7 221.7 453.8 232.1 560.7 226.9 529.1 228.2 577.6 232.1 454.9 224.3 424.6 229.5 576.4 228.2 538.7 204.6 540.5 233.5 408.6 237.4 539.8 234.8 484.8 221.7 574.6 230.8 470.9 229.5 437.2 226.9 553.3 221.7 502.3 230.8 453.2 232.1 572.4 228.2 414.5 232.1 535.4 225.6 514.7 234.8 453.0 220.4 408.8 234.8 579.4 232.1 568.3 225.6 439.1 217.7 538.3 234.8 520.3 226.9 522.0 234.8 423.3 221.7 556.4 228.2 446.7 236.1 562.2 230.8 428.0 221.7 423.9 233.5 567.4 219.0 445.2 226.9 547.9 234.8 524.9 226.9 429.2 237.4 443.1 223.0 409.0 233.5 426.1 225.6 413.4 233.5 553.1 232.1 587.8 237.4 575.7 232.1 420.6 233.5 472.7 230.8 506.8 223.0 512.2 237.4 544.0 221.7 463.9 237.4 483.6 232.1 542.8 230.8 418.9 226.9 487.1 228.2 492.0 229.5 544.9 230.8 428.1 223.0 422.0 229.5 462.3 223.0 546.9 226.9 427.1 230.8 407.2 236.1 488.9 225.6 610.4 238.7 425.4 229.5 518.9 226.9 470.2 234.8 558.9 229.5 483.1 232.1 489.5 233.5 582.2 233.5 468.6 230.8 441.7 236.1 440.4 230.8 495.5 228.2 545.2 228.2 450.1 229.5 502.7 232.1 516.8 236.1 406.1 234.8 563.9 233.5 480.1 230.8 416.7 236.1 482.0 232.1 556.0 216.4 430.3 225.6 602.9 233.5 455.8 220.4 435.6 238.7 485.3 230.8 397.6 237.4 437.3 224.3 484.1 233.5 456.4 233.5 522.2 233.5 487.6 216.4 439.6 224.3 572.4 236.1 454.0 237.4 516.2 228.2 531.4 224.3 459.5 237.4 442.8 212.5 429.1 234.8 445.6 232.1 535.9 230.8 494.1 232.1 459.4 225.6 452.1 224.3 426.6 236.1 507.0 228.2 501.7 226.9 585.2 228.2 482.7 234.8 444.3 225.6 435.1 203.3 524.6 230.8 460.2 223.0 468.7 234.8 443.1 217.7 511.3 221.7 570.8 233.5 463.9 221.7 552.6 221.7 484.6 225.6 532.9 223.0 511.2 232.1 407.7 234.8 398.7 234.8 489.7 233.5 484.9 230.8 405.0 236.1 504.9 233.5 525.7 229.5 572.7 226.9 457.3 229.5 512.3 234.8 451.6 238.7 453.6 220.4 463.9 232.1 500.9 228.2 538.5 226.9 530.4 233.5 486.2 238.7 567.8 225.6 536.6 220.4 568.5 238.7 440.1 232.1 523.5 228.2 573.3 226.9 524.7 232.1 447.7 228.2 496.7 221.7 570.0 223.0 563.3 229.5 543.5 215.1 486.8 228.2 461.8 229.5 445.8 223.0 426.1 233.5 413.4 234.8 449.4 236.1 520.6 230.8 406.4 236.1 435.6 226.9 564.5 234.8 437.8 228.2 482.9 225.6 517.7 232.1 448.5 226.9 494.3 228.2 586.8 233.5 603.1 225.6 577.8 228.2 454.5 237.4 472.3 233.5 535.3 217.7 518.3 225.6 492.7 228.2 409.5 234.8 503.3 226.9 512.8 215.1 442.2 223.0 543.6 233.5 529.7 224.3 422.8 228.2 627.9 232.1 572.6 233.5 539.6 226.9 500.6 233.5 456.0 226.9 492.3 237.4 507.3 225.6 435.0 226.9 452.7 229.5 506.8 232.1 498.7 225.6 585.1 230.8 571.8 221.7 442.0 223.0 532.7 236.1 502.2 228.2 436.8 220.4 437.7 224.3 637.1 237.4 473.5 236.1 494.7 229.5 540.5 221.7 461.3 234.8 456.8 233.5 424.2 232.1 561.4 229.5 460.4 234.8 500.4 229.5 494.6 232.1 545.7 234.8 491.8 225.6 430.6 215.1 473.2 223.0 476.7 229.5 538.9 236.1 432.8 229.5 568.6 230.8 464.2 237.4 619.4 223.0 567.1 233.5 568.4 229.5 570.4 224.3 443.7 229.5 473.3 236.1 501.4 225.6 420.2 237.4 403.6 234.8 414.7 234.8 552.1 217.7 547.7 221.7 398.6 237.4 574.5 234.8 547.8 237.4 560.4 230.8 494.7 234.8 522.6 223.0 514.3 230.8 495.0 229.5 476.1 232.1 485.8 229.5 487.4 236.1 535.7 230.8 561.4 236.1 632.0 234.8 559.1 219.0 509.2 233.5 467.2 223.0 495.4 238.7 489.9 230.8 503.1 224.3 542.1 232.1 501.5 229.5 473.0 237.4 573.5 233.5 415.4 233.5 507.0 223.0 555.5 229.5 519.4 233.5 552.0 234.8 567.7 228.2 531.1 234.8 458.8 236.1 558.3 230.8 509.0 221.7 564.8 226.9 464.8 228.2 548.2 229.5 474.1 236.1 491.4 234.8 515.7 226.9 528.0 234.8 474.5 229.5 576.9 226.9 504.7 226.9 568.0 212.5 436.3 233.5 496.4 228.2 470.4 230.8 584.2 232.1 563.0 225.6 463.0 224.3 443.7 226.9 484.6 230.8 500.2 228.2 505.2 221.7 554.9 226.9 448.5 232.1 526.4 229.5 465.4 223.0 570.6 230.8 503.2 228.2 575.1 234.8 510.2 217.7 608.7 236.1 526.1 226.9 550.9 233.5 485.4 225.6 506.4 237.4 479.9 230.8 473.2 220.4 459.4 229.5 503.6 230.8 456.5 229.5 534.6 205.9 520.7 200.7 543.5 237.4 543.9 232.1 547.3 224.3 513.7 223.0 574.4 234.8 574.6 233.5 524.8 216.4 453.6 234.8 552.2 229.5 449.1 221.7 557.1 233.5 468.6 223.0 504.8 229.5 442.4 236.1 513.1 228.2 454.7 237.4 494.5 228.2 453.2 221.7 583.2 236.1 437.4 221.7 508.8 225.6 493.2 233.5 527.1 234.8 522.8 236.1 541.7 229.5 560.5 237.4 544.6 228.2 475.5 234.8 516.2 226.9 542.0 237.4 533.8 233.5 507.8 223.0 494.2 236.1 561.9 226.9 491.1 229.5 469.4 232.1 580.4 233.5 516.1 229.5 561.0 234.8 517.2 225.6 486.9 226.9 550.3 228.2 506.6 229.5 533.3 216.4 411.8 232.1 564.6 228.2 513.9 233.5 443.9 238.7 539.2 233.5 481.2 237.4 560.7 229.5 523.5 221.7 556.9 223.0 486.2 234.8 506.9 224.3 514.8 232.1 504.3 225.6 454.1 219.0 530.3 230.8 566.4 234.8 493.8 228.2 510.6 221.7 492.3 236.1 529.7 232.1 470.4 232.1 455.7 228.2 515.6 230.8 510.2 221.7 490.3 226.9 489.5 220.4 448.6 238.7 445.8 219.0 420.0 232.1 401.3 236.1 562.0 225.6 438.0 229.5 499.9 226.9 513.1 229.5 460.8 232.1 546.0 234.8 522.5 229.5 471.8 225.6 462.6 229.5 533.6 225.6 582.6 232.1 575.7 236.1 567.5 232.1 471.4 216.4 470.9 229.5 529.9 230.8 438.2 237.4 465.1 236.1 428.4 230.8 446.9 234.8 543.8 225.6 403.5 236.1 487.6 232.1 494.2 236.1 425.1 233.5 513.2 233.5 470.6 233.5 562.1 230.8 517.2 236.1 483.5 230.8 437.5 234.8 547.9 238.7 457.4 204.6 424.4 229.5 425.7 233.5 437.2 237.4 599.2 233.5 513.7 230.8 524.0 229.5 488.7 224.3 521.3 237.4 453.7 237.4 515.8 226.9 461.3 226.9 502.9 230.8 503.9 224.3 501.7 226.9 467.3 237.4 474.6 225.6 424.8 228.2 459.0 226.9 502.3 223.0 404.8 238.7 456.5 232.1 432.5 237.4 562.6 226.9 540.8 237.4 400.2 237.4 467.8 238.7 460.4 221.7 436.1 230.8 426.8 224.3 545.8 226.9 485.5 238.7 509.4 223.0 510.9 229.5 579.0 226.9 494.3 229.5 497.9 229.5 474.2 232.1 526.5 237.4 503.2 228.2 503.4 232.1 575.7 233.5 498.3 233.5 410.2 234.8 400.4 238.7 496.6 234.8 540.4 229.5 507.8 234.8 577.0 230.8 548.1 224.3 498.3 226.9 488.7 233.5 561.2 225.6 439.8 229.5 513.1 238.7 510.9 238.7 631.7 234.8 534.4 233.5 486.0 229.5 433.2 228.2 537.3 228.2 491.0 229.5 519.5 228.2 487.0 234.8 563.7 221.7 548.7 223.0 469.2 236.1 501.9 229.5 414.7 237.4 535.0 233.5 575.3 229.5 519.8 205.9 605.9 233.5 568.2 228.2 450.2 237.4 410.9 234.8 551.8 233.5 493.8 232.1 418.5 233.5 545.0 234.8 455.7 226.9 507.0 238.7 520.3 234.8 489.1 223.0 465.6 232.1 433.1 226.9 461.4 225.6 469.1 224.3 576.6 226.9 552.8 236.1 448.6 234.8 541.6 232.1 553.3 230.8 572.6 234.8 462.2 224.3 492.9 228.2 495.9 236.1 485.8 228.2 480.7 221.7 441.0 234.8 495.8 237.4 506.9 236.1 464.5 229.5 467.7 229.5 463.8 225.6 460.0 221.7 532.1 228.2 515.9 234.8 445.2 228.2 498.9 232.1 501.7 229.5 484.3 238.7 465.6 232.1 535.8 221.7 401.3 234.8 504.5 221.7 496.7 230.8 494.1 220.4 488.6 236.1 431.5 229.5 626.9 233.5 526.3 233.5 563.1 236.1 549.7 232.1 530.2 226.9 440.3 232.1 523.7 232.1 518.2 234.8 479.8 238.7 466.6 233.5 528.8 236.1 405.2 236.1 425.9 228.2 433.6 232.1 541.8 228.2 469.3 228.2 530.8 233.5 416.5 238.7 508.4 221.7 453.1 232.1 444.4 236.1 481.6 226.9 438.7 216.4 437.9 224.3 482.5 224.3 438.9 225.6 469.6 221.7 554.8 226.9 507.5 225.6 452.3 234.8 459.0 232.1 409.5 234.8 470.3 226.9 564.1 234.8 528.3 228.2 437.2 224.3 492.8 228.2 570.6 229.5 591.0 220.4 450.8 226.9 467.8 224.3 507.2 203.3 524.0 238.7 539.4 226.9 412.4 234.8 474.7 229.5 557.9 226.9 573.7 234.8 428.6 232.1 465.6 225.6 401.6 233.5 552.7 226.9 538.9 232.1 533.8 223.0 440.0 219.0 591.5 233.5 425.1 233.5 440.2 234.8 487.4 220.4 404.3 234.8 535.9 220.4 593.7 233.5 425.8 212.5 549.8 234.8 421.2 232.1 453.2 238.7 485.4 236.1 541.2 226.9 492.1 226.9 599.4 230.8 412.1 233.5 431.1 232.1 502.9 232.1 512.9 229.5 493.4 230.8 467.0 236.1 512.1 234.8 521.1 233.5 534.6 228.2 573.8 230.8 563.7 232.1 496.4 238.7 638.3 234.8 454.1 221.7 446.1 219.0 527.7 234.8 527.3 228.2 493.7 225.6 615.4 232.1 472.7 220.4 482.3 221.7 487.4 230.8 530.8 236.1 497.7 233.5 487.5 221.7 538.2 229.5 543.4 233.5 445.4 228.2 469.6 228.2 571.2 228.2 547.8 229.5 494.9 226.9 532.3 225.6 439.0 232.1 471.6 232.1 462.6 229.5 472.1 229.5 491.9 232.1 435.8 230.8 429.8 232.1 541.8 232.1 410.9 236.1 525.7 228.2 401.8 236.1 451.4 228.2 472.4 232.1 499.4 233.5 450.8 229.5 507.8 233.5 430.5 228.2 531.9 233.5 504.9 237.4 508.9 230.8 446.0 225.6 472.5 226.9 473.8 226.9 450.7 230.8 507.1 232.1 433.4 234.8 484.9 224.3 462.9 224.3 443.8 236.1 627.6 233.5 581.7 234.8 542.2 232.1 501.5 225.6 561.3 230.8 527.3 228.2 497.9 234.8 506.8 232.1 406.7 232.1 450.5 226.9 540.9 236.1 557.9 236.1 568.1 228.2 553.0 234.8 469.8 225.6 511.2 225.6 464.4 236.1 422.4 228.2 440.0 226.9 489.8 221.7 503.0 228.2 448.5 228.2 524.2 221.7 582.3 233.5 559.4 236.1 490.6 236.1 549.0 237.4 543.5 234.8 424.4 221.7 526.2 226.9 486.8 232.1 579.5 238.7 423.2 238.7 532.6 225.6 509.2 234.8 442.4 226.9 496.5 226.9 420.2 228.2 413.5 229.5 602.8 232.1 451.7 213.8 533.4 234.8 523.7 233.5 571.3 226.9 521.9 230.8 482.3 229.5 493.0 232.1 517.2 221.7 477.6 233.5 558.0 225.6 513.1 234.8 542.2 216.4 559.7 226.9 552.2 211.2 503.1 233.5 469.0 232.1 425.4 226.9 538.4 230.8 421.4 233.5 462.7 236.1 504.3 236.1 565.2 228.2 546.6 223.0 487.6 230.8 464.2 233.5 484.3 234.8 565.5 230.8 581.0 232.1 537.3 236.1 629.2 234.8 460.9 224.3 594.1 232.1 491.5 230.8 420.8 236.1 521.0 226.9 471.8 232.1 468.9 236.1 473.5 221.7 444.0 208.6 449.5 228.2 418.1 234.8 424.8 234.8 524.4 217.7 482.6 229.5 518.5 234.8 512.7 237.4 542.4 238.7 428.2 232.1 502.6 232.1 475.0 228.2 517.8 217.7 486.7 233.5 469.1 233.5 495.1 236.1 446.7 217.7 552.7 225.6 504.4 226.9 471.4 230.8 515.7 228.2 443.9 230.8 473.4 225.6 464.2 223.0 481.2 219.0 529.9 238.7 577.1 233.5 430.8 223.0 543.1 228.2 527.9 225.6 492.8 230.8 474.1 234.8 520.0 234.8 568.7 232.1 479.3 216.4 456.6 238.7 456.4 224.3 527.1 232.1 502.8 229.5 489.0 236.1 607.2 233.5 424.0 238.7 449.1 223.0 400.5 234.8 547.5 234.8 517.7 228.2 450.1 236.1 572.1 237.4 487.9 237.4 452.4 234.8 497.5 232.1 455.9 219.0 400.7 237.4 494.0 225.6 549.0 232.1 529.5 229.5 429.7 229.5 522.6 228.2 518.4 221.7 572.4 229.5 539.5 236.1 505.8 233.5 510.9 229.5 511.7 229.5 539.3 233.5 611.5 236.1 585.7 234.8 423.4 225.6 491.3 215.1 552.8 234.8 466.5 234.8 496.1 232.1 424.8 234.8 534.7 225.6 516.3 219.0 482.0 233.5 500.9 237.4 431.8 225.6 429.8 236.1 462.1 228.2 583.4 232.1 565.9 234.8 469.0 232.1 561.0 225.6 430.4 228.2 450.2 232.1 437.7 232.1 468.7 229.5 481.0 234.8 566.5 233.5 443.4 215.1 638.5 237.4 500.4 230.8 495.3 236.1 448.8 230.8 440.2 219.0 434.5 233.5 486.9 236.1 557.8 230.8 457.8 238.7 452.4 234.8 444.7 232.1 637.8 236.1 581.3 225.6 479.0 237.4 560.7 236.1 472.7 234.8 430.3 220.4 546.5 228.2 553.9 233.5 537.4 225.6 616.4 233.5 513.1 234.8 557.1 232.1 451.0 221.7 424.5 232.1 483.9 236.1 498.6 230.8 520.0 232.1 508.8 230.8 453.8 229.5 496.1 226.9 556.9 228.2 543.4 216.4 472.7 232.1 574.9 230.8 516.2 233.5 633.0 238.7 433.8 238.7 546.3 230.8 561.1 228.2 573.1 232.1 564.8 225.6 430.4 234.8 603.0 234.8 558.3 229.5 462.6 226.9 566.6 229.5 456.6 225.6 489.5 225.6 455.8 228.2 506.1 226.9 500.2 234.8 482.5 234.8 459.2 236.1 407.2 232.1 483.1 233.5 487.3 228.2 444.2 225.6 521.6 226.9 562.8 229.5 566.3 232.1 533.3 219.0 507.6 233.5 437.3 230.8 456.3 234.8 518.3 229.5 554.6 221.7 548.4 228.2 517.7 236.1 503.4 237.4 417.5 233.5 532.3 232.1 555.7 219.0 525.9 221.7 571.0 216.4 458.1 232.1 471.8 233.5 518.4 224.3 513.8 216.4 512.2 221.7 517.8 215.1 547.8 229.5 544.9 237.4 550.0 202.0 440.1 233.5 511.6 230.8 551.4 236.1 509.5 234.8 581.1 229.5 489.0 226.9 438.6 228.2 434.4 225.6 566.7 233.5 424.3 234.8 452.6 219.0 473.3 221.7 458.5 224.3 492.0 226.9 570.6 229.5 436.5 221.7 459.6 221.7 452.7 237.4 483.3 224.3 566.9 232.1 400.6 229.5 550.7 229.5 557.1 237.4 545.9 228.2 502.4 237.4 474.7 237.4 468.7 225.6 533.2 230.8 580.0 233.5 523.6 232.1 527.7 232.1 541.3 219.0 465.4 229.5 538.5 223.0 512.4 233.5 419.2 238.7 495.2 223.0 493.0 225.6 581.1 230.8 554.6 234.8 452.2 230.8 575.4 230.8 543.4 228.2 546.1 232.1 513.2 225.6 552.6 230.8 545.1 225.6 447.0 194.2 553.7 230.8 460.6 226.9 505.6 229.5 445.4 224.3 524.8 237.4 497.5 228.2 443.7 228.2 526.9 228.2 582.0 237.4 408.9 236.1 443.8 234.8 536.8 223.0 562.4 230.8 424.5 232.1 439.1 221.7 533.7 223.0 457.5 233.5 466.8 226.9 578.5 237.4 569.7 229.5 584.1 234.8 479.1 233.5 485.9 230.8 552.7 228.2 513.5 233.5 461.9 232.1 566.0 219.0 453.7 223.0 556.6 237.4 533.0 233.5 414.2 234.8 424.6 234.8 448.4 221.7 555.2 236.1 514.7 234.8 532.9 225.6 432.4 233.5 448.0 223.0 427.6 234.8 470.3 236.1 559.0 223.0 437.7 220.4 455.7 230.8 455.9 226.9 465.1 219.0 446.7 220.4 525.6 226.9 595.9 230.8 553.7 238.7 530.0 228.2 445.3 232.1 407.7 236.1 453.9 228.2 526.3 211.2 481.4 225.6 488.9 226.9 444.7 226.9 535.7 236.1 444.3 224.3 442.8 236.1 587.5 224.3 518.3 238.7 457.8 226.9 441.3 223.0 601.6 198.1 599.6 203.6 602.2 207.3 597.6 211.7 609.4 220.0 597.6 223.0 604.1 224.3 589.5 229.5 578.5 228.2 634.8 228.2" fill="none" stroke="none" marker-start="url(#mk)" marker-mid="url(#mk)" marker-end="url(#mk)"/>
<path d="M432.7 238.7L624.6 238.7 551.4 238.7 520.7 238.7 603.3 238.7 509.0 238.7 583.7 232.1 405.4 237.4 583.2 238.7 421.8 238.7 626.4 238.7 424.4 238.7 572.4 238.7 547.3 236.1 447.4 238.7 618.9 238.7 437.6 237.4 481.1 237.4 594.2 238.7 447.2 236.1 468.4 237.4 424.5 238.7 450.1 238.7 495.3 237.4 489.1 238.7 467.1 238.7 516.2 238.7 499.1 238.7 494.0 237.4 501.6 236.1 589.9 238.7 478.7 238.7 530.7 238.7 423.9 237.4 499.1 237.4 633.8 236.1 590.2 238.7 612.9 238.7 586.0 238.7 550.8 238.7 542.4 237.4 557.6 238.7 586.6 238.7 411.6 238.7 592.1 234.8 608.6 236.1 517.6 238.7 556.7 238.7 608.8 236.1 604.9 233.5 478.4 237.4 593.0 232.1 617.3 238.7 541.5 238.7 475.9 238.7 560.0 236.1 625.4 238.7 608.1 233.5 518.4 237.4 580.3 237.4 507.6 237.4 591.4 238.7 478.8 238.7 427.2 237.4 398.3 237.4 485.7 236.1 556.6 238.7 437.0 238.7 589.6 237.4 500.1 237.4 472.4 237.4 510.5 238.7 596.5 237.4 582.0 238.7 597.8 238.7 448.9 236.1 437.1 238.7 489.9 238.7 436.2 238.7 545.1 236.1 543.3 234.8 604.3 236.1 615.2 238.7 539.3 234.8 427.1 238.7 549.7 238.7 481.2 238.7 571.6 229.5 453.7 238.7 584.5 238.7 568.1 238.7 405.5 237.4 528.4 238.7 611.1 233.5 491.0 237.4 517.2 237.4 590.6 238.7 568.6 233.5 597.6 238.7 634.2 238.7 472.7 238.7 591.1 238.7 560.2 237.4 513.3 238.7 460.3 237.4 415.3 236.1 504.9 237.4 420.5 237.4 460.9 237.4 547.6 238.7 486.7 238.7 567.5 233.5 433.9 238.7 465.9 238.7 533.2 238.7 461.1 238.7 583.7 233.5 605.3 238.7 588.8 236.1 467.8 234.8 493.9 237.4 553.6 236.1 635.4 238.7 523.9 238.7 556.4 237.4 414.8 238.7 556.6 234.8 546.8 236.1 554.7 238.7 479.1 236.1 452.9 237.4 590.5 226.9 566.2 230.8 438.2 238.7 444.5 238.7 562.9 236.1 477.6 238.7 403.2 238.7 632.9 237.4 554.5 238.7 452.6 237.4 566.0 238.7 416.9 237.4 520.4 237.4 573.0 236.1 463.9 238.7 620.4 232.1 523.1 238.7 471.1 238.7 481.9 232.1 536.2 236.1 515.8 237.4 564.3 238.7 601.1 237.4 634.3 238.7 580.1 237.4 527.6 237.4 506.1 236.1 503.9 237.4 477.4 238.7 587.6 234.8 420.6 238.7 459.6 238.7 592.5 238.7 445.6 238.7 507.6 238.7 493.8 237.4 407.8 237.4 453.8 237.4 553.3 238.7 584.7 226.9 498.4 238.7 514.3 237.4 544.2 238.7 427.6 237.4 557.8 236.1 592.0 238.7 591.1 238.7 479.8 238.7 481.4 238.7 520.7 238.7 485.7 237.4 521.4 236.1 618.1 238.7 510.8 238.7 398.8 238.7 480.5 237.4 421.4 238.7 466.0 237.4 536.2 237.4 419.4 236.1 613.3 233.5 422.5 237.4 485.6 237.4 605.3 238.7 547.1 236.1 598.5 238.7 532.8 238.7 579.4 226.9 632.0 237.4 632.8 234.8 453.7 237.4 517.4 238.7 491.0 237.4 591.7 236.1 638.2 234.8 423.2 238.7 562.6 238.7 543.3 238.7 620.3 238.7 495.7 238.7 515.8 238.7 572.4 233.5 400.7 238.7 593.8 238.7 429.7 237.4 490.2 237.4 524.3 237.4 549.4 238.7 495.4 238.7 439.2 238.7 407.8 238.7 529.8 236.1 514.0 237.4 398.6 236.1 476.7 238.7 488.2 237.4 559.1 236.1 495.2 237.4 595.6 237.4 442.0 238.7 601.0 236.1 403.4 238.7 619.5 236.1 537.4 238.7 521.2 238.7 542.6 236.1 588.3 237.4 534.0 238.7 444.2 238.7 450.0 238.7 524.0 238.7 539.8 237.4 459.9 238.7 517.6 237.4 400.3 238.7 429.8 238.7 503.2 237.4 542.9 238.7 528.6 238.7 450.5 237.4 524.0 234.8 578.7 238.7 574.3 238.7 553.3 238.7 481.4 238.7 429.3 237.4 578.3 238.7 439.4 238.7 500.9 236.1 552.6 238.7 561.0 234.8 596.8 236.1 447.2 236.1 493.6 238.7 464.6 238.7 412.3 238.7 541.2 233.5 465.1 238.7 408.2 237.4 454.9 238.7 444.5 238.7 515.3 238.7 636.6 237.4 488.8 238.7 469.4 236.1 603.0 237.4 401.1 238.7 611.0 236.1 520.2 238.7 471.5 238.7 531.0 238.7 539.3 234.8 516.7 237.4 551.6 232.1 603.4 238.7 566.1 234.8 401.7 236.1 623.7 238.7 598.0 238.7 511.4 238.7 428.5 237.4 526.6 238.7 570.3 238.7 538.5 238.7 593.8 233.5 630.7 237.4 472.2 237.4 411.3 238.7 530.8 238.7 551.9 238.7 441.1 237.4 542.8 236.1 592.0 238.7 562.0 236.1 523.8 238.7 427.5 238.7 443.8 238.7 406.8 236.1 449.6 237.4 413.9 237.4 600.5 237.4 593.3 238.7 629.2 238.7 486.3 236.1 473.0 238.7 491.4 237.4 445.6 238.7 521.3 237.4 530.7 238.7 609.2 238.7 478.6 238.7 528.7 237.4 605.5 236.1 474.8 238.7 464.0 238.7 453.4 238.7 408.9 238.7 503.5 238.7 458.3 237.4 514.3 238.7 432.1 238.7 541.3 238.7 512.1 238.7 570.9 237.4 453.9 237.4 501.1 238.7 430.0 238.7 518.4 238.7 579.0 238.7 600.7 238.7 608.8 238.7 603.6 238.7 478.2 236.1 500.4 238.7 594.1 236.1 467.9 238.7 425.6 238.7 451.5 238.7 522.6 238.7 439.2 238.7 402.6 237.4 555.3 238.7 434.5 237.4 579.5 238.7 470.2 236.1 504.9 238.7 500.4 238.7 638.3 237.4 428.3 238.7 594.4 234.8 558.5 238.7 403.4 238.7 452.5 238.7 513.9 237.4 445.2 237.4 469.9 236.1 585.3 238.7 629.3 237.4 572.1 237.4 489.6 238.7 412.6 238.7 624.7 236.1 461.0 238.7 527.6 238.7 599.1 237.4 612.6 238.7 602.9 238.7 483.3 236.1 623.9 234.8 562.3 238.7 463.8 238.7 439.8 238.7 633.4 238.7 489.1 238.7 473.2 238.7 599.8 236.1 568.2 238.7 435.9 238.7 458.9 238.7 603.3 236.1 507.3 238.7 594.0 238.7 526.1 237.4 422.5 237.4 538.1 237.4 563.8 238.7 540.8 236.1 530.5 236.1 437.5 237.4 404.7 236.1 459.2 238.7 587.3 236.1 462.0 238.7 416.7 237.4 407.7 236.1 597.8 236.1 516.5 238.7 609.5 238.7 536.7 238.7 495.8 238.7 552.6 238.7 628.0 237.4 598.1 237.4 509.8 238.7 574.9 238.7 455.8 236.1 410.4 237.4 399.3 236.1 561.6 236.1 625.0 236.1 488.8 238.7 619.1 238.7 617.6 237.4 578.3 238.7 397.5 237.4 477.2 237.4 523.4 238.7 504.1 238.7 594.4 236.1 452.2 237.4 518.8 236.1 599.8 229.5 457.7 237.4 522.4 237.4 542.1 238.7 465.8 238.7 571.4 233.5 612.1 236.1 540.1 236.1 450.9 237.4 433.6 238.7 414.9 237.4 442.9 238.7 635.0 238.7 487.3 237.4 405.2 237.4 413.5 238.7 465.1 238.7 630.5 238.7 461.0 238.7 414.4 238.7 538.3 237.4 554.7 238.7 440.7 237.4 493.2 238.7 615.2 238.7 481.0 238.7 458.1 238.7 629.8 238.7 450.2 238.7 605.1 236.1 515.0 238.7 610.9 238.7 540.0 238.7 465.7 238.7 635.7 230.8 468.7 238.7 531.5 236.1 492.9 237.4 600.6 237.4 489.2 236.1 526.2 237.4 470.2 236.1 610.0 238.7 562.0 238.7 601.2 238.7 557.6 238.7 465.0 237.4 575.5 237.4 622.5 234.8 450.6 237.4 428.8 238.7 562.3 238.7 397.5 233.5 469.7 233.5 492.5 238.7 426.0 238.7 401.1 237.4 400.5 237.4 501.1 237.4 527.1 236.1 485.9 238.7 467.5 238.7 432.5 238.7 602.7 238.7 543.7 238.7 542.0 238.7 405.4 238.7 503.7 238.7 401.0 238.7 465.0 238.7 511.6 237.4 473.3 237.4 486.2 238.7 615.0 238.7 551.4 234.8 489.8 238.7 434.6 238.7 450.2 238.7 581.2 233.5 417.6 237.4 600.5 238.7 558.8 237.4 625.6 238.7 554.6 236.1 551.8 234.8 472.4 238.7 412.7 238.7 581.5 238.7 512.2 237.4 595.4 238.7 406.6 237.4 446.5 237.4 468.7 237.4 479.9 238.7 506.2 238.7 579.0 238.7 576.2 237.4 495.1 238.7 560.5 238.7 571.3 238.7 430.0 237.4 571.5 237.4 452.3 238.7 599.0 238.7 524.9 236.1 462.1 238.7 410.4 238.7 505.5 238.7 407.8 238.7 589.0 237.4 516.4 238.7 597.6 236.1 531.4 238.7 562.9 237.4 477.1 238.7 464.8 236.1 611.3 238.7 536.8 238.7 579.0 234.8 554.9 238.7 453.5 238.7 569.1 234.8 586.1 234.8 551.8 238.7 446.1 238.7 618.1 233.5 530.3 234.8 571.5 236.1 563.0 238.7 494.0 238.7 426.9 238.7 508.6 238.7 597.0 237.4 598.2 238.7 617.8 233.5 448.4 238.7 470.8 238.7 502.2 237.4 570.0 238.7 511.8 238.7 472.6 238.7 423.3 238.7 621.1 237.4 632.0 236.1 530.4 238.7 542.7 238.7 432.0 238.7 539.0 238.7 474.8 238.7 614.2 237.4 458.8 237.4 400.8 238.7 628.9 238.7 593.7 236.1 531.6 238.7 406.8 238.7 437.8 238.7 457.9 236.1 448.8 238.7 595.8 238.7 603.1 238.7 517.8 238.7 464.6 238.7 411.0 238.7 529.1 238.7 441.5 237.4 551.6 236.1 423.1 238.7 494.8 238.7 488.2 238.7 606.0 238.7 633.2 238.7 623.8 238.7 608.0 238.7 579.3 233.5 483.2 238.7 511.3 238.7 592.4 237.4 399.0 238.7 417.8 238.7 524.4 237.4 638.8 238.7 409.9 237.4 479.2 238.7 541.4 238.7 451.6 238.7 633.0 238.7 552.4 238.7 472.8 238.7 505.4 238.7 473.4 238.7 444.1 237.4 424.3 238.7 522.5 236.1 520.7 238.7 476.6 238.7 427.9 238.7 505.9 238.7 478.7 238.7 474.8 238.7 512.6 237.4 579.8 236.1 561.2 238.7 517.9 238.7 549.0 237.4 486.1 236.1 636.1 236.1 487.6 238.7 531.7 237.4 578.0 237.4 493.3 237.4 434.0 236.1 546.8 238.7 431.4 236.1 632.9 238.7 606.1 236.1 575.2 238.7 489.9 238.7 597.2 238.7 472.8 234.8 566.0 238.7 581.9 237.4 499.5 238.7 503.3 238.7 403.8 238.7 513.7 238.7 572.2 238.7 609.3 233.5 498.5 237.4 557.5 230.8 426.0 236.1 532.9 238.7 430.1 236.1 466.4 237.4 607.9 232.1 536.2 238.7 459.6 238.7 405.5 238.7 633.2 238.7 616.0 238.7 482.7 236.1 590.6 233.5 505.4 238.7 507.1 238.7 545.0 238.7 509.3 238.7 594.2 237.4 506.6 236.1 491.9 238.7 525.5 237.4 557.9 236.1 588.5 237.4 505.7 238.7 554.2 238.7 581.7 238.7 569.6 238.7 423.3 238.7 478.7 238.7 503.7 236.1 464.9 238.7 569.8 234.8 453.2 238.7 522.3 238.7 541.2 238.7 486.0 238.7 538.7 237.4 484.9 233.5 550.0 238.7 626.7 238.7 554.6 233.5 520.6 238.7 532.8 234.8 405.7 238.7 478.3 238.7 517.3 237.4 416.3 237.4 558.2 233.5 634.1 237.4 444.9 237.4 572.2 233.5 533.6 236.1 503.2 238.7 472.6 237.4 569.6 234.8 490.8 238.7 446.8 238.7 517.0 237.4 451.2 237.4 466.0 237.4 412.2 237.4 613.0 238.7 591.4 233.5 502.4 238.7 462.3 238.7 539.8 237.4 441.5 238.7 436.9 238.7 513.8 238.7 504.6 238.7 577.5 238.7 419.2 237.4 425.7 237.4 576.6 234.8 607.0 238.7 477.1 238.7 519.6 237.4 607.2 236.1 559.6 237.4 629.6 238.7 579.5 238.7 424.8 237.4 555.5 238.7 475.1 238.7 632.3 238.7 569.3 233.5 425.6 238.7 530.4 238.7 554.3 237.4 562.6 238.7 633.0 238.7 589.9 237.4 417.2 237.4 463.3 238.7 412.6 238.7 524.5 238.7 400.4 238.7 634.0 238.7 483.0 237.4 407.0 237.4 572.8 230.8 434.1 238.7 566.8 233.5 569.2 234.8 587.5 233.5 512.8 238.7 466.1 236.1 612.8 238.7 574.9 238.7 429.6 236.1 638.6 238.7 619.0 237.4 477.4 238.7 428.6 238.7 455.2 238.7 563.8 236.1 566.2 234.8 432.4 238.7 447.0 237.4 560.9 237.4 516.1 234.8 531.5 238.7 402.3 236.1 408.7 236.1 569.0 238.7 620.9 238.7 518.8 238.7 561.5 238.7 520.1 238.7 398.7 237.4 501.0 238.7 627.0 236.1 570.7 238.7 436.3 238.7 400.0 238.7 495.3 238.7 633.1 238.7 531.2 237.4 499.1 238.7 589.0 238.7 573.0 234.8 443.9 238.7 469.3 237.4 461.0 238.7 511.7 238.7 464.9 237.4 463.0 238.7 629.4 237.4 521.3 237.4 398.7 236.1 571.7 236.1 438.6 237.4 634.8 238.7 606.1 237.4 525.0 237.4 553.4 238.7 468.6 236.1 404.9 238.7 602.1 237.4 539.2 238.7 512.1 237.4 525.4 238.7 633.0 238.7 415.0 238.7 565.9 234.8 398.9 238.7 423.1 237.4 566.5 236.1 606.5 238.7 399.5 237.4 551.0 234.8 513.9 238.7 481.7 237.4 428.6 238.7 460.4 236.1 621.7 234.8 501.6 238.7 561.4 236.1 552.7 238.7 408.3 238.7 522.1 237.4 589.6 234.8 534.7 238.7 507.9 237.4 540.3 236.1 633.7 236.1 566.1 238.7 409.5 238.7 611.0 238.7 620.8 237.4 575.8 236.1 441.6 238.7 532.7 238.7 588.5 238.7 540.2 238.7 413.3 237.4 504.7 236.1 535.2 238.7 596.4 236.1 491.3 238.7 621.2 238.7 489.8 238.7 519.6 237.4 478.9 236.1 575.4 238.7 559.6 238.7 457.9 237.4 528.2 237.4 440.4 236.1 548.3 234.8 468.9 238.7 539.6 237.4 565.0 237.4 523.7 238.7 436.5 238.7 487.4 238.7 452.8 236.1 527.8 236.1 588.0 234.8 540.8 238.7 458.1 237.4 454.1 238.7 612.6 234.8 478.0 236.1 429.7 238.7 594.5 236.1 583.5 236.1 472.6 237.4 568.8 233.5 632.9 230.8 477.8 237.4 451.7 238.7 537.3 237.4 400.4 237.4 554.3 238.7 431.2 232.1 519.5 238.7 463.7 238.7 501.7 238.7 427.9 236.1 630.0 238.7 544.6 238.7 573.3 236.1 515.9 238.7 609.3 232.1 618.6 238.7 590.6 238.7 415.6 238.7 441.0 238.7 563.8 238.7 578.1 233.5 625.8 238.7 451.1 238.7 619.6 230.8 630.2 237.4 514.1 238.7 397.9 237.4 629.1 238.7 398.5 238.7 532.0 238.7 488.5 238.7 609.6 238.7 413.7 237.4 431.5 237.4 577.4 238.7 617.4 238.7 425.3 238.7 519.6 238.7 609.1 237.4 510.0 238.7 483.3 236.1 615.6 238.7 446.2 237.4 405.2 238.7 617.9 236.1 553.9 232.1 462.3 238.7 445.2 237.4 422.7 237.4 522.4 237.4 474.5 238.7 501.6 236.1 554.1 238.7 506.6 236.1 548.6 236.1 569.1 238.7 436.5 238.7 498.4 238.7 637.5 230.8 566.0 237.4 559.8 238.7 554.5 238.7 492.5 238.7 574.1 237.4 442.9 236.1 518.0 237.4 602.6 237.4 462.4 238.7 525.2 237.4 438.4 238.7 562.5 238.7 627.3 236.1 545.1 238.7 614.5 238.7 492.0 238.7 606.8 238.7 485.0 237.4 581.1 228.2 429.7 238.7 552.4 236.1 460.7 238.7 475.9 237.4 410.6 238.7 489.9 238.7 445.4 238.7 585.1 238.7 469.1 238.7 428.7 238.7 619.0 238.7 540.5 238.7 451.3 238.7 609.5 238.7 477.8 238.7 453.9 237.4 501.2 232.1 551.4 237.4 493.8 238.7 523.2 236.1 455.9 238.7 456.8 238.7 534.0 233.5 471.7 238.7 542.5 238.7 610.0 236.1 618.6 238.7 631.3 238.7 447.7 236.1 538.2 238.7 501.6 238.7 626.9 234.8 549.0 238.7 565.4 238.7 447.9 237.4 568.4 238.7 612.9 234.8 485.8 237.4 588.3 238.7 430.9 237.4 524.3 237.4 515.5 237.4 575.6 238.7 519.8 238.7 601.6 238.7 489.9 237.4 466.0 238.7 631.2 238.7 424.7 238.7 490.7 238.7 503.5 238.7 412.8 236.1 459.3 237.4 604.2 236.1 511.1 238.7 537.9 238.7 401.2 238.7 504.8 238.7 436.5 238.7 561.8 234.8 548.4 234.8 468.9 237.4 525.2 237.4 547.4 238.7 450.9 237.4 424.0 237.4 638.2 236.1 593.7 237.4 540.9 233.5 602.2 237.4 483.1 237.4 414.2 237.4 408.1 238.7 556.2 238.7 447.5 238.7 618.8 234.8 509.7 238.7 494.5 238.7 617.0 236.1 617.4 238.7 627.7 236.1 485.4 238.7 492.1 238.7 459.4 238.7 610.9 238.7 593.4 237.4 618.4 238.7 438.0 238.7 624.6 237.4 624.7 238.7 566.0 238.7 565.0 237.4 521.7 238.7 420.4 236.1 638.8 238.7 530.1 237.4 425.3 238.7 570.0 237.4 530.3 238.7 406.1 238.7 438.3 238.7 569.5 236.1 488.0 238.7 520.3 238.7 472.8 237.4 608.6 238.7 512.3 237.4 470.6 238.7 572.6 238.7 583.4 238.7 563.7 237.4 598.2 236.1 559.2 236.1 636.0 237.4 632.1 238.7 431.8 234.8 537.6 238.7 601.8 238.7 547.8 234.8 495.8 238.7 566.2 237.4 528.8 236.1 567.9 234.8 458.3 238.7 428.9 238.7 445.2 238.7 564.5 236.1 458.2 237.4 411.8 237.4 579.7 232.1 492.6 238.7 539.8 238.7 509.1 237.4 567.5 232.1 626.8 236.1 513.8 237.4 625.5 236.1 624.9 236.1 403.9 238.7 444.4 238.7 439.6 237.4 576.9 236.1 623.3 236.1 496.4 238.7 574.7 238.7 589.8 238.7 551.1 238.7 436.7 238.7 411.7 237.4 497.0 238.7 566.5 238.7 605.1 233.5 596.9 238.7 601.9 230.8 596.9 233.5 551.0 238.7 489.5 238.7 505.7 238.7 596.1 238.7 420.0 237.4 479.3 237.4 467.8 236.1 637.8 238.7 536.0 237.4 585.4 237.4 589.6 238.7 432.5 238.7 522.3 238.7 631.4 237.4 602.4 236.1 531.9 238.7 491.7 238.7 503.0 238.7 632.6 238.7 627.4 238.7 535.0 238.7 471.2 236.1 568.3 232.1 471.9 237.4 427.1 238.7 596.1 238.7 480.0 237.4 536.8 237.4 464.9 237.4 508.2 236.1 539.8 238.7 482.7 238.7 591.2 237.4 531.4 238.7 429.8 238.7 607.1 236.1 536.5 238.7 410.7 238.7 587.2 238.7 433.5 237.4 414.9 237.4 458.9 237.4 448.1 238.7 506.8 238.7 565.0 237.4 586.8 237.4 592.4 236.1 483.5 238.7 553.3 233.5 533.2 238.7 511.1 238.7 520.5 238.7 499.5 237.4 422.4 237.4 588.6 238.7 422.5 238.7 536.7 238.7 444.2 238.7 492.2 238.7 425.4 238.7 602.1 237.4 529.7 238.7 407.9 238.7 638.0 238.7 425.5 237.4 633.3 238.7 587.1 232.1 441.3 238.7 420.0 238.7 518.6 236.1 480.8 238.7 554.8 234.8 553.0 238.7 517.7 237.4 408.5 237.4 407.6 237.4 584.1 238.7 514.0 238.7 527.6 238.7 424.9 237.4 505.0 238.7 428.2 238.7 410.8 237.4 418.3 237.4 426.6 238.7 517.2 238.7 442.4 237.4 528.4 238.7 504.7 238.7 606.8 234.8 424.8 238.7 505.8 238.7 468.8 237.4 555.2 238.7 405.3 238.7 418.2 237.4 474.5 238.7 588.4 237.4 546.5 238.7 407.8 237.4 501.1 238.7 508.7 238.7 568.3 238.7 526.7 237.4 474.3 237.4 489.3 237.4 499.6 238.7 543.3 237.4 531.1 238.7 415.9 238.7 487.7 238.7 613.1 233.5 437.1 238.7 417.2 238.7 545.8 238.7 504.2 236.1 533.6 238.7 531.9 236.1 590.5 233.5 425.5 238.7 519.6 238.7 414.0 238.7 452.2 237.4 473.7 238.7 459.0 238.7 605.1 238.7 518.2 238.7 461.0 238.7 474.9 238.7 455.7 238.7 578.4 236.1 554.3 233.5 498.5 238.7 538.4 236.1 534.3 238.7 497.0 238.7 448.5 237.4 597.1 236.1 599.3 234.8 571.1 237.4 398.8 238.7 436.5 236.1 552.2 238.7 479.7 237.4 433.0 236.1 418.3 236.1 552.6 237.4 448.4 237.4 566.9 238.7 602.6 238.7 444.9 237.4 430.7 238.7 508.9 238.7 593.7 237.4 470.7 238.7 545.6 237.4 403.9 238.7 613.2 238.7 468.4 236.1 561.0 237.4 625.3 237.4 450.6 238.7 440.8 237.4 427.9 238.7 548.0 236.1 551.6 236.1 476.0 237.4 424.2 238.7 581.8 238.7 545.9 238.7 625.1 238.7 593.1 238.7 437.0 238.7 604.3 238.7 463.4 236.1 528.1 238.7 450.7 237.4 607.0 236.1 595.0 238.7 575.7 238.7 465.2 237.4 513.4 238.7 635.7 236.1 571.9 233.5 613.3 232.1 596.3 237.4 504.3 238.7 518.8 237.4 571.2 236.1 501.2 238.7 631.3 238.7 526.6 237.4 516.3 238.7 480.2 238.7 534.7 236.1 439.4 238.7 400.8 238.7 414.8 237.4 548.2 237.4 532.4 238.7 546.0 238.7 405.6 238.7 399.4 238.7 629.2 237.4 583.7 234.8 523.0 238.7 608.7 234.8 463.4 238.7 475.5 238.7 577.2 234.8 578.5 237.4 546.4 238.7 566.7 238.7 437.2 237.4 505.6 237.4 563.0 238.7 423.6 238.7 561.7 238.7 460.8 238.7 595.1 238.7 627.4 237.4 497.5 238.7 574.3 238.7 457.1 236.1 412.6 238.7 497.8 238.7 466.1 238.7 565.9 238.7 415.9 237.4 625.9 237.4 570.2 238.7 521.6 237.4 432.2 238.7 554.4 238.7 616.9 236.1 421.1 237.4 493.4 237.4 561.5 237.4 561.0 237.4 613.4 237.4 575.8 238.7 602.7 232.1 494.5 237.4 540.6 237.4 630.1 238.7 565.7 237.4 415.3 238.7 431.7 237.4 587.9 233.5 429.9 238.7 502.0 238.7 535.7 236.1 505.0 238.7 638.1 237.4 554.1 234.8 638.0 238.7 427.2 238.7 498.1 236.1 558.5 238.7 616.8 238.7 559.9 237.4 628.5 237.4 506.0 238.7 629.1 238.7 462.7 238.7 413.1 237.4 544.4 237.4 555.5 232.1 487.9 238.7 591.8 238.7 401.8 236.1 572.2 238.7 528.7 237.4 443.7 238.7 470.4 237.4 397.5 238.7 445.1 236.1 545.4 238.7 579.0 233.5 418.9 237.4 556.3 236.1 441.0 237.4 542.5 238.7 618.5 238.7 580.5 236.1 517.8 238.7 420.4 236.1 497.2 236.1 621.7 238.7 630.4 238.7 429.2 237.4 625.4 238.7 452.1 236.1 547.8 237.4 572.2 238.7 635.4 238.7 618.4 233.5 479.0 237.4 528.7 236.1 521.7 237.4 624.4 236.1 570.3 233.5 602.1 238.7 584.2 238.7 621.0 237.4 421.9 238.7 409.5 237.4 500.8 236.1 602.8 238.7 503.9 238.7 622.7 238.7 527.0 234.8 433.1 237.4 603.8 232.1 518.9 238.7 623.7 238.7 544.4 237.4 602.1 236.1 564.5 234.8 516.0 238.7 483.7 236.1 547.6 237.4 554.7 238.7 534.0 238.7 423.7 238.7 521.2 237.4 630.0 238.7 575.4 238.7 565.1 237.4 408.5 238.7 533.8 238.7 402.6 238.7 418.2 237.4 498.0 238.7 587.3 238.7 428.3 238.7 500.9 238.7 595.6 234.8 516.2 238.7 461.9 237.4 492.5 237.4 610.1 238.7 448.0 236.1 542.8 238.7 501.6 237.4 489.0 238.7 492.2 237.4 607.7 233.5 449.5 238.7 461.0 238.7 523.9 237.4 541.9 238.7 437.4 238.7 597.2 236.1 444.3 238.7 512.3 236.1 485.1 238.7 481.0 238.7 540.0 237.4 550.6 234.8 399.1 238.7 593.2 238.7 445.8 238.7 546.6 238.7 508.1 237.4 592.9 236.1 601.2 238.7 462.6 238.7 625.4 238.7 574.1 238.7 492.3 237.4 635.8 236.1 438.3 237.4 491.9 238.7 598.8 238.7 532.5 238.7 532.6 207.7 532.6 222.2 510.9 227.6 552.3 227.6 450.7 230.3 475.3 227.6" fill="none" stroke="none" marker-start="url(#ms)" marker-mid="url(#ms)" marker-end="url(#ms)"/>
</g></g>
<rect x="42.6" y="50.0" width="265.7" height="197.3" fill="none" stroke="#222" stroke-width="0.8"/>
<text class="s" x="54.75" y="258.75" font-family="'Liberation Sans', sans-serif" font-size="8.4" text-anchor="middle" fill="#000" textLength="4.7" lengthAdjust="spacingAndGlyphs">0</text>
<text class="s" x="74.89" y="258.75" font-family="'Liberation Sans', sans-serif" font-size="8.4" text-anchor="middle" fill="#000" textLength="4.7" lengthAdjust="spacingAndGlyphs">2</text>
<text class="s" x="95.03" y="258.75" font-family="'Liberation Sans', sans-serif" font-size="8.4" text-anchor="middle" fill="#000" textLength="4.7" lengthAdjust="spacingAndGlyphs">4</text>
<text class="s" x="115.17" y="258.75" font-family="'Liberation Sans', sans-serif" font-size="8.4" text-anchor="middle" fill="#000" textLength="4.7" lengthAdjust="spacingAndGlyphs">6</text>
<text class="s" x="135.31" y="258.75" font-family="'Liberation Sans', sans-serif" font-size="8.4" text-anchor="middle" fill="#000" textLength="4.7" lengthAdjust="spacingAndGlyphs">8</text>
<text class="s" x="155.45" y="258.75" font-family="'Liberation Sans', sans-serif" font-size="8.4" text-anchor="middle" fill="#000" textLength="9.4" lengthAdjust="spacingAndGlyphs">10</text>
<text class="s" x="175.59" y="258.75" font-family="'Liberation Sans', sans-serif" font-size="8.4" text-anchor="middle" fill="#000" textLength="9.4" lengthAdjust="spacingAndGlyphs">12</text>
<text class="s" x="195.73" y="258.75" font-family="'Liberation Sans', sans-serif" font-size="8.4" text-anchor="middle" fill="#000" textLength="9.4" lengthAdjust="spacingAndGlyphs">14</text>
<text class="s" x="215.87" y="258.75" font-family="'Liberation Sans', sans-serif" font-size="8.4" text-anchor="middle" fill="#000" textLength="9.4" lengthAdjust="spacingAndGlyphs">16</text>
<text class="s" x="236.01" y="258.75" font-family="'Liberation Sans', sans-serif" font-size="8.4" text-anchor="middle" fill="#000" textLength="9.4" lengthAdjust="spacingAndGlyphs">18</text>
<text class="s" x="256.15" y="258.75" font-family="'Liberation Sans', sans-serif" font-size="8.4" text-anchor="middle" fill="#000" textLength="9.4" lengthAdjust="spacingAndGlyphs">20</text>
<text class="s" x="276.29" y="258.75" font-family="'Liberation Sans', sans-serif" font-size="8.4" text-anchor="middle" fill="#000" textLength="9.4" lengthAdjust="spacingAndGlyphs">22</text>
<text class="s" x="296.43" y="258.75" font-family="'Liberation Sans', sans-serif" font-size="8.4" text-anchor="middle" fill="#000" textLength="9.4" lengthAdjust="spacingAndGlyphs">24</text>
<text class="s" x="37.5" y="246.15" font-family="'Liberation Sans', sans-serif" font-size="8.4" text-anchor="end" fill="#000" textLength="11.8" lengthAdjust="spacingAndGlyphs">0.0</text>
<text class="s" x="37.5" y="219.15" font-family="'Liberation Sans', sans-serif" font-size="8.4" text-anchor="end" fill="#000" textLength="11.8" lengthAdjust="spacingAndGlyphs">0.2</text>
<text class="s" x="37.5" y="192.15" font-family="'Liberation Sans', sans-serif" font-size="8.4" text-anchor="end" fill="#000" textLength="11.8" lengthAdjust="spacingAndGlyphs">0.4</text>
<text class="s" x="37.5" y="165.15" font-family="'Liberation Sans', sans-serif" font-size="8.4" text-anchor="end" fill="#000" textLength="11.8" lengthAdjust="spacingAndGlyphs">0.6</text>
<text class="s" x="37.5" y="138.15" font-family="'Liberation Sans', sans-serif" font-size="8.4" text-anchor="end" fill="#000" textLength="11.8" lengthAdjust="spacingAndGlyphs">0.8</text>
<text class="s" x="37.5" y="111.15" font-family="'Liberation Sans', sans-serif" font-size="8.4" text-anchor="end" fill="#000" textLength="11.8" lengthAdjust="spacingAndGlyphs">1.0</text>
<text class="s" x="37.5" y="84.15" font-family="'Liberation Sans', sans-serif" font-size="8.4" text-anchor="end" fill="#000" textLength="11.8" lengthAdjust="spacingAndGlyphs">1.2</text>
<text class="s" x="37.5" y="57.15" font-family="'Liberation Sans', sans-serif" font-size="8.4" text-anchor="end" fill="#000" textLength="11.8" lengthAdjust="spacingAndGlyphs">1.4</text>
<path d="M54.75 247.3v2.8M74.89 247.3v2.8M95.03 247.3v2.8M115.17 247.3v2.8M135.31 247.3v2.8M155.45 247.3v2.8M175.59 247.3v2.8M195.73 247.3v2.8M215.87 247.3v2.8M236.01 247.3v2.8M256.15 247.3v2.8M276.29 247.3v2.8M296.43 247.3v2.8M42.6 242.80h-2.8M42.6 215.80h-2.8M42.6 188.80h-2.8M42.6 161.80h-2.8M42.6 134.80h-2.8M42.6 107.80h-2.8M42.6 80.80h-2.8M42.6 53.80h-2.8" stroke="#222" stroke-width="0.8"/>
<text class="s" x="175.5" y="45.7" font-family="'Liberation Sans', sans-serif" font-size="11.0" text-anchor="middle" fill="#000" textLength="107.2" lengthAdjust="spacingAndGlyphs">number of ris messages</text>
<text class="s" x="175.5" y="269.0" font-family="'Liberation Sans', sans-serif" font-size="8.4" text-anchor="middle" fill="#000" textLength="16.6" lengthAdjust="spacingAndGlyphs">time</text>
<text class="s" x="0" y="0" font-family="'Liberation Sans', sans-serif" font-size="8.4" text-anchor="middle" textLength="61.5" lengthAdjust="spacingAndGlyphs" transform="translate(21.3 148.7) rotate(-90)">number of msgs</text>
<text class="s" x="43.2" y="47.65" font-family="'Liberation Sans', sans-serif" font-size="8.4" text-anchor="start" fill="#000" textLength="13" lengthAdjust="spacingAndGlyphs">1e3</text>
<rect x="385.6" y="50.0" width="265.9" height="197.3" fill="none" stroke="#222" stroke-width="0.8"/>
<text class="s" x="397.40" y="258.75" font-family="'Liberation Sans', sans-serif" font-size="8.4" text-anchor="middle" fill="#000" textLength="4.7" lengthAdjust="spacingAndGlyphs">0</text>
<text class="s" x="417.52" y="258.75" font-family="'Liberation Sans', sans-serif" font-size="8.4" text-anchor="middle" fill="#000" textLength="4.7" lengthAdjust="spacingAndGlyphs">2</text>
<text class="s" x="437.64" y="258.75" font-family="'Liberation Sans', sans-serif" font-size="8.4" text-anchor="middle" fill="#000" textLength="4.7" lengthAdjust="spacingAndGlyphs">4</text>
<text class="s" x="457.76" y="258.75" font-family="'Liberation Sans', sans-serif" font-size="8.4" text-anchor="middle" fill="#000" textLength="4.7" lengthAdjust="spacingAndGlyphs">6</text>
<text class="s" x="477.88" y="258.75" font-family="'Liberation Sans', sans-serif" font-size="8.4" text-anchor="middle" fill="#000" textLength="4.7" lengthAdjust="spacingAndGlyphs">8</text>
<text class="s" x="498.00" y="258.75" font-family="'Liberation Sans', sans-serif" font-size="8.4" text-anchor="middle" fill="#000" textLength="9.4" lengthAdjust="spacingAndGlyphs">10</text>
<text class="s" x="518.12" y="258.75" font-family="'Liberation Sans', sans-serif" font-size="8.4" text-anchor="middle" fill="#000" textLength="9.4" lengthAdjust="spacingAndGlyphs">12</text>
<text class="s" x="538.24" y="258.75" font-family="'Liberation Sans', sans-serif" font-size="8.4" text-anchor="middle" fill="#000" textLength="9.4" lengthAdjust="spacingAndGlyphs">14</text>
<text class="s" x="558.36" y="258.75" font-family="'Liberation Sans', sans-serif" font-size="8.4" text-anchor="middle" fill="#000" textLength="9.4" lengthAdjust="spacingAndGlyphs">16</text>
<text class="s" x="578.48" y="258.75" font-family="'Liberation Sans', sans-serif" font-size="8.4" text-anchor="middle" fill="#000" textLength="9.4" lengthAdjust="spacingAndGlyphs">18</text>
<text class="s" x="598.60" y="258.75" font-family="'Liberation Sans', sans-serif" font-size="8.4" text-anchor="middle" fill="#000" textLength="9.4" lengthAdjust="spacingAndGlyphs">20</text>
<text class="s" x="618.72" y="258.75" font-family="'Liberation Sans', sans-serif" font-size="8.4" text-anchor="middle" fill="#000" textLength="9.4" lengthAdjust="spacingAndGlyphs">22</text>
<text class="s" x="638.84" y="258.75" font-family="'Liberation Sans', sans-serif" font-size="8.4" text-anchor="middle" fill="#000" textLength="9.4" lengthAdjust="spacingAndGlyphs">24</text>
<text class="s" x="380.5" y="242.05" font-family="'Liberation Sans', sans-serif" font-size="8.4" text-anchor="end" fill="#000" textLength="11.8" lengthAdjust="spacingAndGlyphs">0.0</text>
<text class="s" x="380.5" y="215.85" font-family="'Liberation Sans', sans-serif" font-size="8.4" text-anchor="end" fill="#000" textLength="11.8" lengthAdjust="spacingAndGlyphs">0.2</text>
<text class="s" x="380.5" y="189.65" font-family="'Liberation Sans', sans-serif" font-size="8.4" text-anchor="end" fill="#000" textLength="11.8" lengthAdjust="spacingAndGlyphs">0.4</text>
<text class="s" x="380.5" y="163.45" font-family="'Liberation Sans', sans-serif" font-size="8.4" text-anchor="end" fill="#000" textLength="11.8" lengthAdjust="spacingAndGlyphs">0.6</text>
<text class="s" x="380.5" y="137.25" font-family="'Liberation Sans', sans-serif" font-size="8.4" text-anchor="end" fill="#000" textLength="11.8" lengthAdjust="spacingAndGlyphs">0.8</text>
<text class="s" x="380.5" y="111.05" font-family="'Liberation Sans', sans-serif" font-size="8.4" text-anchor="end" fill="#000" textLength="11.8" lengthAdjust="spacingAndGlyphs">1.0</text>
<text class="s" x="380.5" y="84.85" font-family="'Liberation Sans', sans-serif" font-size="8.4" text-anchor="end" fill="#000" textLength="11.8" lengthAdjust="spacingAndGlyphs">1.2</text>
<text class="s" x="380.5" y="58.65" font-family="'Liberation Sans', sans-serif" font-size="8.4" text-anchor="end" fill="#000" textLength="11.8" lengthAdjust="spacingAndGlyphs">1.4</text>
<path d="M397.40 247.3v2.8M417.52 247.3v2.8M437.64 247.3v2.8M457.76 247.3v2.8M477.88 247.3v2.8M498.00 247.3v2.8M518.12 247.3v2.8M538.24 247.3v2.8M558.36 247.3v2.8M578.48 247.3v2.8M598.60 247.3v2.8M618.72 247.3v2.8M638.84 247.3v2.8M385.6 238.70h-2.8M385.6 212.50h-2.8M385.6 186.30h-2.8M385.6 160.10h-2.8M385.6 133.90h-2.8M385.6 107.70h-2.8M385.6 81.50h-2.8M385.6 55.30h-2.8" stroke="#222" stroke-width="0.8"/>
<text class="s" x="518.5" y="45.7" font-family="'Liberation Sans', sans-serif" font-size="11.0" text-anchor="middle" fill="#000" textLength="107.2" lengthAdjust="spacingAndGlyphs">number of ris messages</text>
<text class="s" x="518.5" y="269.0" font-family="'Liberation Sans', sans-serif" font-size="8.4" text-anchor="middle" fill="#000" textLength="16.6" lengthAdjust="spacingAndGlyphs">time</text>
<text class="s" x="0" y="0" font-family="'Liberation Sans', sans-serif" font-size="8.4" text-anchor="middle" textLength="61.5" lengthAdjust="spacingAndGlyphs" transform="translate(364.3 148.7) rotate(-90)">number of msgs</text>
<text class="s" x="386.2" y="47.65" font-family="'Liberation Sans', sans-serif" font-size="8.4" text-anchor="start" fill="#000" textLength="13" lengthAdjust="spacingAndGlyphs">1e2</text>
<rect x="235.6" y="53.6" width="68.9" height="13.0" rx="1.5" fill="#fff" fill-opacity="0.8" stroke="#cccccc" stroke-width="0.75"/>
<path d="M245.9 59.9" fill="none" stroke="none" marker-start="url(#mp)" marker-mid="url(#mp)" marker-end="url(#mp)"/>
<text class="s" x="259.8" y="62.3" font-family="'Liberation Sans', sans-serif" font-size="8.5" text-anchor="start" fill="#000" textLength="41.4" lengthAdjust="spacingAndGlyphs">delay msgs</text>
<rect x="565.4" y="53.6" width="81.9" height="45.6" rx="1.5" fill="#fff" fill-opacity="0.8" stroke="#cccccc" stroke-width="0.75"/>
<path d="M575.5 59.9" fill="none" stroke="none" marker-start="url(#mt)" marker-mid="url(#mt)" marker-end="url(#mt)"/>
<path d="M575.5 70.7" fill="none" stroke="none" marker-start="url(#md)" marker-mid="url(#md)" marker-end="url(#md)"/>
<path d="M575.5 81.6" fill="none" stroke="none" marker-start="url(#mk)" marker-mid="url(#mk)" marker-end="url(#mk)"/>
<path d="M575.5 92.4" fill="none" stroke="none" marker-start="url(#ms)" marker-mid="url(#ms)" marker-end="url(#ms)"/>
<text class="s" x="588.9" y="62.2" font-family="'Liberation Sans', sans-serif" font-size="8.5" text-anchor="start" fill="#000" textLength="41" lengthAdjust="spacingAndGlyphs">track msgs</text>
<text class="s" x="588.9" y="73.2" font-family="'Liberation Sans', sans-serif" font-size="8.5" text-anchor="start" fill="#000" textLength="55" lengthAdjust="spacingAndGlyphs">free_text msgs</text>
<text class="s" x="588.9" y="84.2" font-family="'Liberation Sans', sans-serif" font-size="8.5" text-anchor="start" fill="#000" textLength="49" lengthAdjust="spacingAndGlyphs">reroute msgs</text>
<text class="s" x="588.9" y="95.2" font-family="'Liberation Sans', sans-serif" font-size="8.5" text-anchor="start" fill="#000" textLength="46" lengthAdjust="spacingAndGlyphs">cancel msgs</text>
</svg>
</body></html>
